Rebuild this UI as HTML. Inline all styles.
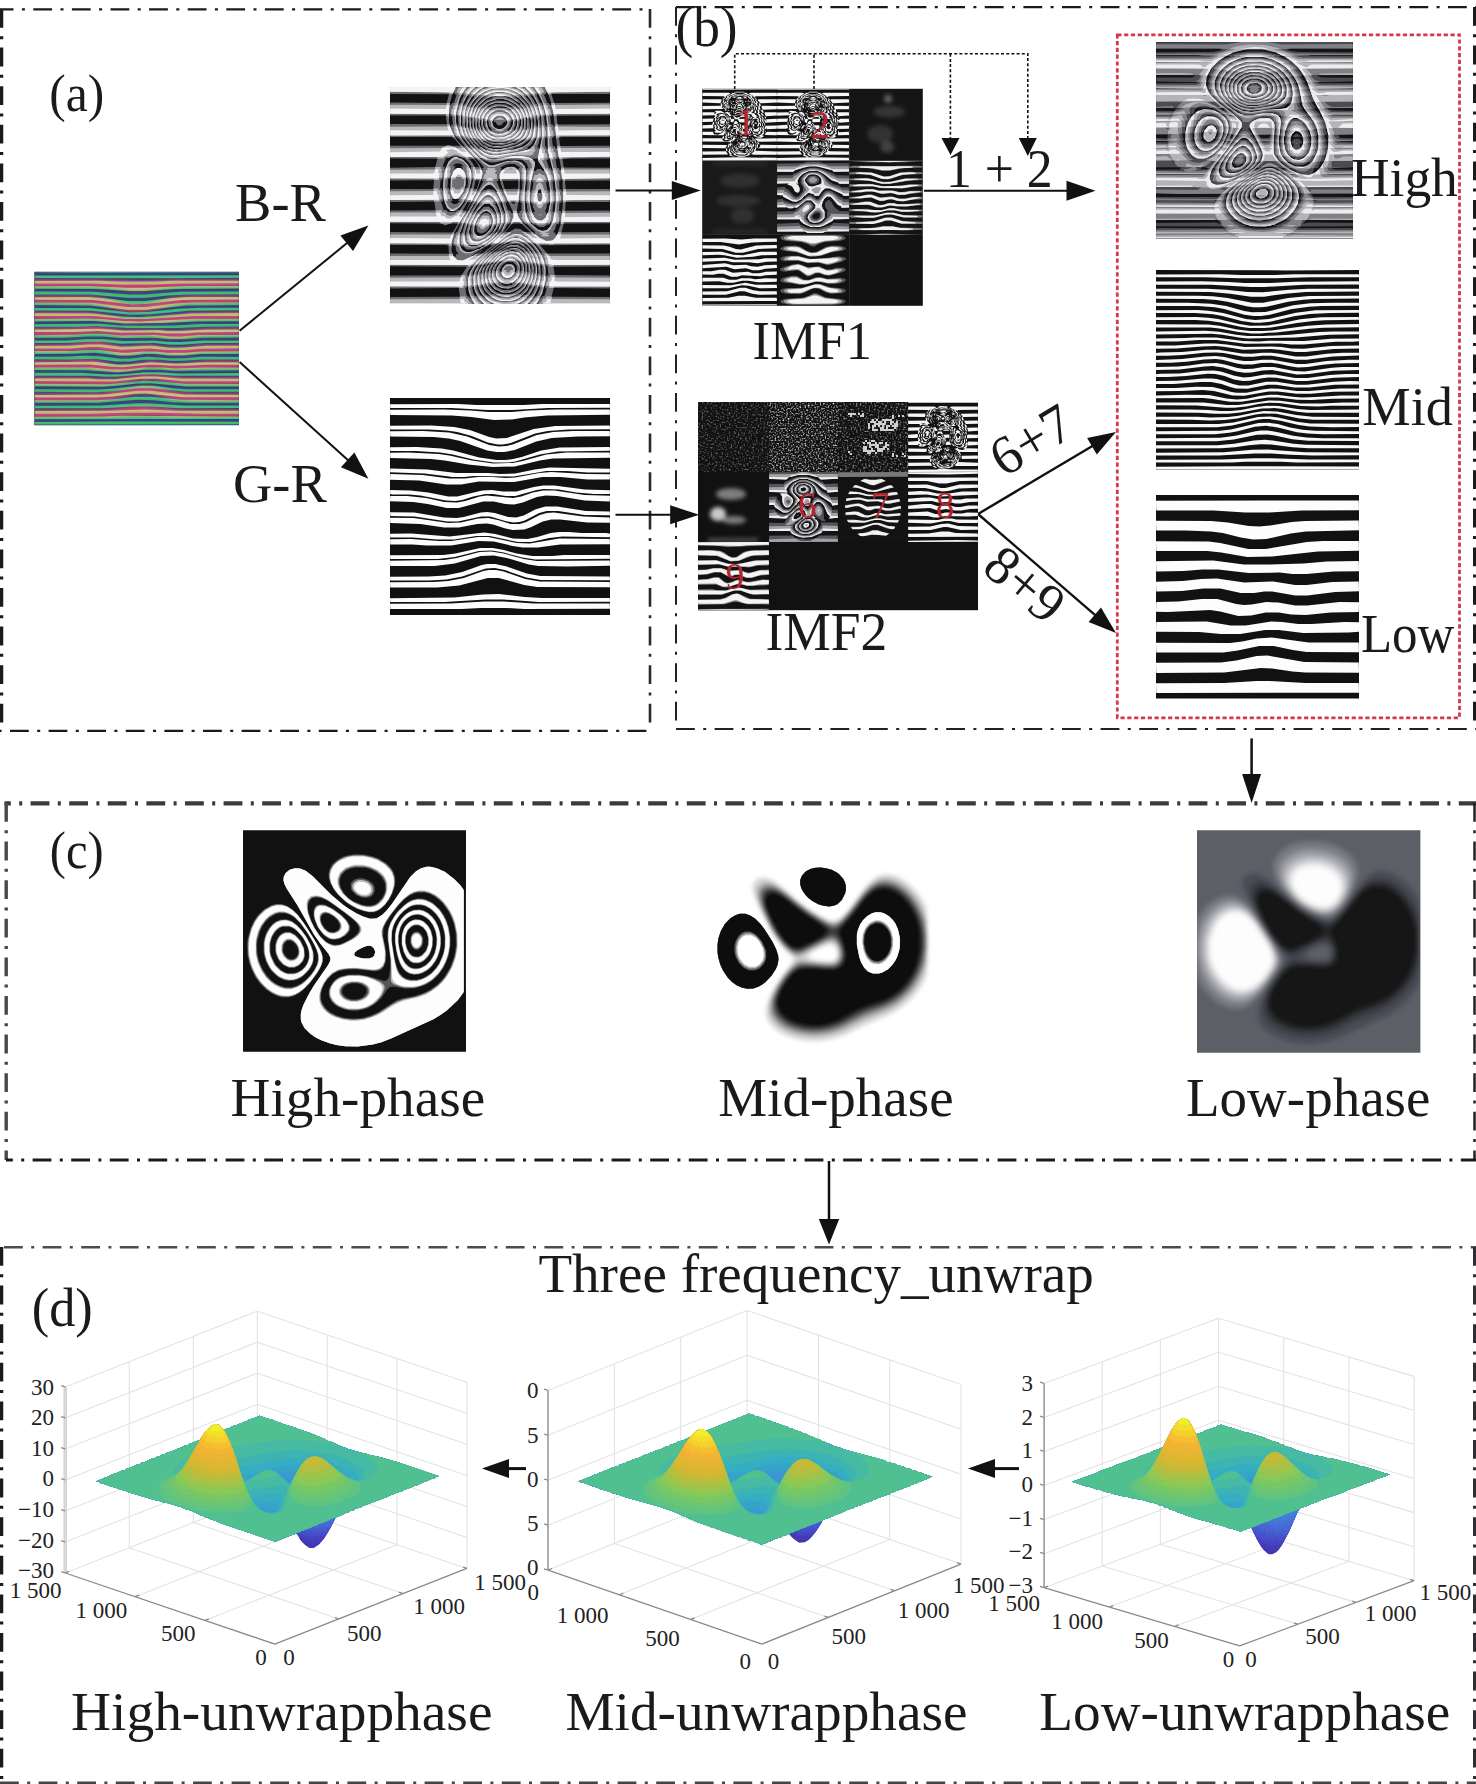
<!DOCTYPE html>
<html><head><meta charset="utf-8"><title>figure</title>
<style>
html,body{margin:0;padding:0;background:#fff;}
body{width:1476px;height:1784px;overflow:hidden;}
svg{display:block;font-family:"Liberation Serif",serif;}
</style></head><body>
<svg width="1476" height="1784" viewBox="0 0 1476 1784">
<rect width="1476" height="1784" fill="#fff"/>
<line x1="0" y1="9.3" x2="650" y2="9.3" stroke="#1a1a1a" stroke-width="2.2" stroke-dasharray="18.8 8.4 3 8.4" stroke-dashoffset="5.3"/>
<line x1="1.5" y1="9" x2="1.5" y2="731" stroke="#1a1a1a" stroke-width="3.5" stroke-dasharray="18.8 8.4 3 8.4" stroke-dashoffset="0"/>
<line x1="650" y1="9" x2="650" y2="731" stroke="#2a2a2a" stroke-width="2.6" stroke-dasharray="18.8 8.4 3 8.4" stroke-dashoffset="0"/>
<line x1="0" y1="730.9" x2="650" y2="730.9" stroke="#1a1a1a" stroke-width="2.4" stroke-dasharray="18.8 8.4 3 8.4" stroke-dashoffset="28.6"/>
<line x1="676" y1="7.1" x2="1476" y2="7.1" stroke="#1a1a1a" stroke-width="2.2" stroke-dasharray="18.8 8.4 3 8.4" stroke-dashoffset="0"/>
<line x1="676" y1="7" x2="676" y2="729" stroke="#222" stroke-width="2" stroke-dasharray="18.8 8.4 3 8.4" stroke-dashoffset="0"/>
<line x1="1474.5" y1="7" x2="1474.5" y2="729" stroke="#1a1a1a" stroke-width="3" stroke-dasharray="18.8 8.4 3 8.4" stroke-dashoffset="0"/>
<line x1="676" y1="729" x2="1476" y2="729" stroke="#222" stroke-width="1.8" stroke-dasharray="18.8 8.4 3 8.4" stroke-dashoffset="0"/>
<line x1="4.5" y1="803.3" x2="1476" y2="803.3" stroke="#3a3a3e" stroke-width="4.2" stroke-dasharray="18.8 8.4 3 8.4" stroke-dashoffset="12.5"/>
<line x1="6.2" y1="803" x2="6.2" y2="1160" stroke="#48484c" stroke-width="3.4" stroke-dasharray="18.8 8.4 3 8.4" stroke-dashoffset="0"/>
<line x1="1474.5" y1="803" x2="1474.5" y2="1160" stroke="#222" stroke-width="2.5" stroke-dasharray="18.8 8.4 3 8.4" stroke-dashoffset="0"/>
<line x1="6" y1="1160" x2="1476" y2="1160" stroke="#1a1a1a" stroke-width="3" stroke-dasharray="18.8 8.4 3 8.4" stroke-dashoffset="12"/>
<line x1="0" y1="1247.2" x2="1476" y2="1247.2" stroke="#4c4c50" stroke-width="2.4" stroke-dasharray="18.8 8.4 3 8.4" stroke-dashoffset="34.6"/>
<line x1="1.5" y1="1247" x2="1.5" y2="1784" stroke="#1a1a1a" stroke-width="3.5" stroke-dasharray="18.8 8.4 3 8.4" stroke-dashoffset="0"/>
<line x1="1474.5" y1="1247" x2="1474.5" y2="1784" stroke="#2e2e30" stroke-width="3" stroke-dasharray="18.8 8.4 3 8.4" stroke-dashoffset="0"/>
<line x1="0" y1="1783" x2="1476" y2="1783" stroke="#444" stroke-width="3" stroke-dasharray="18.8 8.4 3 8.4" stroke-dashoffset="0"/>
<line x1="239.6" y1="330.8" x2="349.8" y2="240.8" stroke="#111" stroke-width="2"/>
<path fill="#111" d="M368.4,225.6L353,251.1L340.4,235.6z"/>
<line x1="239.6" y1="362" x2="350.6" y2="462.6" stroke="#111" stroke-width="2"/>
<path fill="#111" d="M368.4,478.7L340.9,467.3L354.4,452.5z"/>
<line x1="615.5" y1="190.5" x2="675.8" y2="190.5" stroke="#111" stroke-width="2"/>
<path fill="#111" d="M700.8,190.5L671.8,200L671.8,181z"/>
<line x1="615.5" y1="514.8" x2="674.2" y2="514.8" stroke="#111" stroke-width="2"/>
<path fill="#111" d="M699.2,514.8L670.2,524.3L670.2,505.3z"/>
<line x1="924" y1="190.8" x2="1070.5" y2="190.8" stroke="#111" stroke-width="2"/>
<path fill="#111" d="M1095.5,190.8L1066.5,200.8L1066.5,180.8z"/>
<line x1="978" y1="514" x2="1095.4" y2="444.3" stroke="#111" stroke-width="2.4"/>
<path fill="#111" d="M1116,432L1096.8,454.5L1087.1,438.1z"/>
<line x1="978" y1="514" x2="1097.8" y2="617.3" stroke="#111" stroke-width="2.4"/>
<path fill="#111" d="M1116,633L1088.6,621.9L1101,607.5z"/>
<line x1="1251.6" y1="738.4" x2="1251.6" y2="778" stroke="#111" stroke-width="2.5"/>
<path fill="#111" d="M1251.6,803L1242.1,774L1261.1,774z"/>
<line x1="829" y1="1161" x2="829" y2="1223" stroke="#111" stroke-width="2.5"/>
<path fill="#111" d="M829,1244.5L818.8,1219L839.2,1219z"/>
<line x1="526" y1="1468.6" x2="505" y2="1468.6" stroke="#111" stroke-width="3"/>
<path fill="#111" d="M482,1468.6L509,1459.1L509,1478.1z"/>
<line x1="1019" y1="1468.6" x2="991" y2="1468.6" stroke="#111" stroke-width="3"/>
<path fill="#111" d="M968,1468.6L995,1459.1L995,1478.1z"/>
<path stroke="#111" stroke-width="1.6" stroke-dasharray="3 2.2" fill="none" d="M734.7,89V53.7H1027.8V140M814,89V53.7M950.4,53.7V138"/>
<path fill="#111" d="M941.5,138h18l-9,17zM1018.8,138h18l-9,18z"/>
<rect x="1117.3" y="34.8" width="342.2" height="683" fill="none" stroke="#d8354b" stroke-width="2.8" stroke-dasharray="4.2 2.6"/>
<defs><filter id="bl1" x="0" y="0" width="1" height="1"><feGaussianBlur stdDeviation="1.6"/></filter></defs><defs><filter id="cf0" x="-.05" y="-.05" width="1.1" height="1.1"><feGaussianBlur stdDeviation="7.0"/></filter><filter id="cf1" x="-.05" y="-.05" width="1.1" height="1.1"><feGaussianBlur stdDeviation="2.8"/></filter><filter id="cf2" x="-.05" y="-.05" width="1.1" height="1.1"><feGaussianBlur stdDeviation="1.8"/></filter></defs><svg x="34.3" y="271.7" width="204.7" height="153.5" viewBox="0 0 614 460" preserveAspectRatio="none" style="isolation:isolate"><g fill-rule="evenodd"><rect x="-9" y="-9" width="632" height="478" fill="#3c425c"/><g transform="scale(.5)"><path fill="#b10000" filter="url(#cf0)" style="mix-blend-mode:screen" d="M1228 91l-329 1-120 8-112 14-76 2-162-18-98-6h-330l-1-45 377-1 258 8 216-8h376zM1228 187l-307 5-88 12-150 32-40 4h-62l-62-8-112-28-82-12-324-4-1-43 335 1 78 10 154 36 74 2 54-8 124-30 58-8 62-4h288zM1228 285l-253 3-182 16-234 6-198-24h-360l-1-45 319 1 86 10 132 24 120 2 90-8 188-26 292-4zM1228 383l-223 3-116 14h-76l-124-16-150 6-134-18h-74l-134 12h-196l-1-45 219-1 80-6h98l138 16 202-2 68 6h64l124-12 234-2zM1228 481l-219 3-130 16h-54l-108-16h-54l-96 16h-54l-100-26-44-6h-32l-154 14h-182l-1-45 189-1 134-14 58-2 50 6 94 20h52l80-10h42l112 18 58 2 144-18 214-2zM0 579l1-45h196l90-6h62l42 6 64 18 36 6h60l132-22h42l82 10 68 2 166-14 187 1-1 45h-208l-156 8-106-10-68-2-134 20-76 4-170-22zM0 677l1-45h296l96 8h96l154-22 88-2 166 18 331-1-1 45-326-2-190-28-80 2-130 22-76 8zM1228 775l-209 1-130-4-64-8-116-26-74-4-48 6-122 26-76 8-388 2-1-45 405-3 64-8 150-30 74-2 64 10 94 22 46 6 86 4h244zM1228 871l-389 1-132-6h-120l-130 6h-456l-1-43 411-3 188-18h96l194 18 338 2z"/><path fill="#00a700" filter="url(#cf1)" style="mix-blend-mode:screen" d="M1228 3l-901 3-326-2-1-3 1227-1zM1228 37l-455 3-772-2-1-15 1227-1zM1228 69l-357 1-154 6h-206l-152-6h-358l-1-15 401-1 102 4h222l104-4h398zM1228 101l-375 3-194 12h-90l-192-12-376-2-1-15 325-1 232 10h114l236-10h320zM1228 135l-329 1-98 6-134 14h-106l-224-20h-336l-1-17 355 1 210 16h98l214-16 350-2zM1228 167l-341 3-214 24-88 2-234-26-350-2-1-15 321-1 92 6 150 18h100l156-18 98-6h310zM1228 199l-317 3-244 26h-108l-220-26-338-2-1-15 343 1 218 26h104l180-22 106-6h276zM1228 231l-297 3-244 22-116 2-232-24-338-2-1-15 337 1 238 26 108-2 178-20 126-6h240zM1228 265l-275 1-284 18h-120l-190-18h-358l-1-17 347 1 192 20 94 2 308-22 286-2zM1228 297l-247 1-212 10-232 2-178-14-358 2-1-15 319-3 88 4 120 12 102 2 336-16h262zM1228 329l-209 1-160 8h-300l-188-12-126 4h-244l-1-15 393-3 116 10 122 2 212-2 156-8h228zM1228 361l-249 3-76 6h-112l-80-6-196 2-136-10-136 6h-242l-1-15 409-5 132 10 202-2 52 4h88l158-8h186zM1228 395l-225 1-104 8h-94l-80-8-210 2-102-10h-92l-146 8h-174l-1-15 245-3 84-6h76l116 10 202-2 96 8h62l110-8h236zM1228 427l-203 1-134 10h-78l-98-10-202 4-104-12h-92l-116 8h-200l-1-15 191-1 126-8h98l124 12 182-4 74 8 82 2 136-10h214zM1228 459l-237 3-88 8h-100l-112-10-168 8-140-16h-50l-114 8h-218l-1-15 209-1 114-8h76l120 14 188-6 100 10h92l138-10h190zM0 493l1-17h226l80-6h86l128 16h44l82-8h80l74 8h104l90-8 233-1-1 17h-228l-96 8h-100l-82-8h-58l-74 8-70 2-158-18-122 6zM0 525l1-15h170l132-6 90 2 126 16 62-2 100-10 128 8h90l104-8 225 1-1 15h-218l-120 8h-70l-66-6h-100l-84 10h-80l-124-16-168 4zM0 557l1-15 364-2 138 16 70-2 124-12 154 8 162-8 215 1-1 15h-208l-106 6h-98l-76-6h-60l-148 14-68-2-134-14zM0 589l1-15h342l118 12h86l112-12h106l88 6 174-6 201 1-1 15-396 4-74-6h-98l-156 14-186-12zM0 623l1-17h280l170 10 88-2 114-12h104l114 8 357-3-1 17h-378l-132-10-76 2-148 14h-72l-88-6zM0 655l1-15h324l58 4h100l172-16h74l144 12 355 1-1 15h-334l-158-14h-98l-160 16zM0 687l1-15 438 2 220-20 78 2 168 16 323 1-1 15h-316l-208-20-88 2-116 14-96 6zM0 719l1-15 376 2 84-4 186-20 76 2 108 14 80 6 317 1-1 15h-318l-206-22h-80l-150 18-110 6zM1228 753l-335-1-222-22-68 2-132 16-108 6h-362l-1-15 417-3 202-22h80l204 22 324 2zM1228 785l-305 1-90-4-118-12-94-2-238 18h-382l-1-15 371-1 106-6 126-14h98l180 18 346 2zM1228 817l-349 1-172-10h-118l-170 10h-418l-1-15 399-1 208-14h82l214 14h324zM1228 851l-229 1-256-6h-192l-222 6h-328l-1-17 443-1 226-8 184 8h374zM1228 883l-1227 1-1-15 393-1 132-4 702 4zM1228 915l-1227 1-1-15 509-3 718 2z"/><path fill="#00005b" filter="url(#cf2)" style="mix-blend-mode:screen" d="M1228 13l-503 3-724-2-1-9 1227-1zM1228 35l-463 3-764-2-1-11 1227-1zM1228 57l-431 1-138 4-228-4h-430l-1-11 343-1 358 4 186-4h340zM1228 79l-405 1-240 6-176-6h-406l-1-11 353-1 286 6 240-6h348zM1228 99l-387 3-164 8h-128l-160-8-388-2-1-9 351-1 214 8h98l218-8h346zM1228 121l-371 3-156 10-126 2-200-12-374-2-1-9 345-1 192 10h154l196-10h340zM1228 143l-361 3-182 14-96 2-222-16-366-2-1-9 341-1 214 14h118l220-14h334zM1228 165l-295 1-122 6-152 14h-92l-146-14-114-6h-306l-1-9 339-1 234 18h82l242-18h330zM1228 187l-297 1-110 6-140 14-96 2-270-22h-314l-1-11 341 1 230 20h84l204-18 148-4h220zM1228 209l-301 1-252 20h-124l-224-20h-326l-1-11 345 1 216 20h102l200-18 116-4h248zM1228 231l-305 1-244 18h-132l-204-18h-342l-1-11 301-1 302 22 76-2 184-16 102-4h262zM1228 251l-309 3-214 14-142 2-198-16-364-2-1-9 327-1 224 18h120l286-18h270zM1228 273l-231 1-328 14h-122l-198-14h-348l-1-9 359-1 174 14h160l256-14h278zM1228 295l-243 1-198 8-254 2-136-10h-396l-1-9 337-3 182 12 106 2 320-12h282zM1228 317l-251 1-132 6h-334l-112-8-398 2-1-9 397-3 106 8 136 2 244-4 60-4h284zM1228 339l-253 1-60 4h-390l-126-8-398 4-1-11 401-3 118 8h364l154-6h190zM1228 361l-255 1-120 6-140-6-196 2-128-8-214 6h-174l-1-11 397-5 126 8 198-2 170 4 126-6h210zM1228 381l-255 3-150 6-84-6-190 2-124-8-424 4-1-9 435-5 72 6 192-2 98 6h104l108-6h218zM1228 403l-179 1-162 8h-72l-110-8-154 4-152-10-160 6h-238l-1-9 209-1 112-6h94l100 8 210-2 72 6h110l94-6h226zM1228 425l-197 1-140 8h-78l-100-8-188 4-118-10h-86l-96 6h-224l-1-9 423-7 88 8 220-2 64 6h116l86-6h230zM1228 447l-209 1-130 8h-74l-98-8-212 4-102-10h-90l-98 6h-214l-1-9 249-3 132-6 116 10 236-2 62 6h116l80-6h236zM1228 469l-221 1-128 8h-56l-104-8-200 6-128-12h-78l-112 6h-200l-1-11 241-1 130-6 140 12 226-4 62 6h108l78-6 242-2zM1228 491l-231 1-84 6h-118l-70-6h-66l-68 6h-100l-124-12-182 6h-184l-1-11 401-5 124 12 110-6h106l66 6h92l148-8h180zM0 513l1-11h232l64-4h80l116 12h90l60-6h106l34 4 94 2 150-8 201 1-1 11h-242l-90 6-232-6-92 8h-74l-116-12zM0 533l1-9 384-2 118 12h54l88-8 262 4 102-6 219 1-1 9h-160l-146 6-260-4-84 8h-98l-130-12zM0 555l1-9 356-2 132 12h66l120-10 112 4h146l58-4 237 1-1 9h-196l-148 6-196-6-124 10h-94l-104-10zM0 577l1-9 328-2 126 10h112l130-10 136 6 138-4 257 1-1 9-396 4-136-6-174 12-80-2-94-8zM0 599l1-9 304-2 170 10 84-2 124-10 148 6 397-1-1 9-394 2-92-6h-72l-168 12-164-8zM0 621l1-11h292l112 6h132l118-10h96l82 6 395-1-1 11h-392l-76-6h-120l-114 10zM0 643l1-11 508 4 154-12h62l174 10 329-1-1 11h-344l-144-10h-98l-146 12zM1228 663l-287 3-108-4-118-10h-68l-172 14-474-2-1-9 483 1 206-14 184 12h354zM0 685l1-9 404 2 96-4 130-12h92l184 14 321 1-1 9h-338l-164-14h-106l-202 16zM1228 707l-321 1-188-16h-106l-182 16h-430l-1-9 425-1 188-16h110l122 12 90 4h292zM1228 729l-309 1-230-18-96 2-186 16h-406l-1-9 385-1 86-4 146-14h90l180 16 340 2zM1228 751l-297 1-94-4-126-12h-114l-210 16h-386l-1-11 423-1 186-16h96l188 16h334zM1228 773l-283 1-116-4-118-10h-120l-118 10-104 4h-368l-1-11 413-1 180-14h120l182 14h332zM1228 795l-255 1-158-4-116-8h-100l-116 8-138 4h-344l-1-11 407-1 186-12h114l188 12h332zM1228 815l-379 1-218-8-184 8h-446l-1-9 405-1 150-8 130-2 210 10h332zM1228 837l-393 1-82-4h-214l-78 4h-460l-1-9 405-1 146-6h192l152 6h332zM1228 859l-411 1-190-4-148 4h-478l-1-9 775-5 128 4h324zM1228 881l-1227 1-1-9 723-5 504 4zM1228 903l-1227 1-1-11 1227-1zM1228 919l-1227 1-1-5 1227-1z"/></g></g></svg><rect x="390" y="87" width="220" height="217" fill="#121212"/><svg x="390" y="87" width="220" height="217" viewBox="390 87 220 217"><g transform="translate(390 87) scale(0.25 0.25)" fill-rule="evenodd"><path fill="#6e6e72" d="M880 867l-879 1v-28l279-1-5-35-274 2v-52h276l11-3 20-32-308-2 1-51 235 1-2-32-11-3h-222v-52l250 2 19-33-1-3h-28l-20 8-16-8-205-1 1-51 181-1-4-32-3-3-174 2v-52h172l3-35-175 1-1-51 181-3 9-33-189-1-1-51h282l-29-33-8-2h-244v-52l227 1-5-35h-222v-52l226 2 9-35-235-1-1-27 879-1v28h-232l-1 3 11 33 223-1-1 51-213 1 4 32 3 3 207-1-1 51h-190l-13 3 5 33 199-1-1 51h-154l-35 3 5 33 185 1-1 51-179 1 3 33h176v52h-176l-3 35 179-1 1 51-185 1-9 35 193-1 1 51-280 2 29 33h250v52l-225 1 5 33 220 2v52l-224-2-9 35 233 1zM241 72h4l4-8 7-1 10-30-1-3-7-1 1-7h-6l-5 11-8 30zM645 72l1-5-12-36-5-9h-6l1 7-7 1-1 3 6 10 7 21h6l4 8zM271 74l13-13 2-10 10-18-4-2 1-7-5 3-10 20zM613 74l-5-19-14-28-5-3 1 7-4 2 14 30 7 3 1 5zM291 76l11-11 16-30-4-2 5-7-13 13-12 24zM591 76l1-5-14-28-15-17 3 7-4 2 10 12 10 20 5 1zM309 78l27-37v-6l5-7-15 13-18 32zM575 78l-17-33-17-17 5 7-4 2zM323 82l40-52-6 2-19 19-16 26zM559 82l1-5-14-22-25-25h-4l7 7-2 2 34 36zM337 84l6-10 2 2 5-9 37-35-16 8-23 21-12 18zM546 83l-10-18-21-21-20-12-3 1 9 5-1 3 11 7zM348 85l37-31 26-10-2-4 27-5-29 3-26 12-27 25zM534 85l-14-18-21-17-34-14-21-1 27 5-4 4 12 2 16 8 28 22 8 10zM518 85l-17-17-20-12-28-8h-26l-36 12-12 8-17 19 29-21 32-12 42 2 24 10 28 22zM502 89l-23-19-26-8h-28l-20 6-14 8-13 13 9-7h6l12-8 18-6 40 2 24 12h6zM484 91l-19-11-16-4-28 2-16 6-9 7 3 1 12-8 18-2 38 2 14 8zM245 158l1-7 6-2-4-32-6-2-1-7h-4l-1 31 4 18zM659 158l-5-49-5-1-1 7-8 2 4 32 7 1 3 7zM271 162l-1-9 4-2-2-32-7-9-1 31zM629 160l-5-49-3-1-1 7-4 2 4 32zM289 164l-1-43-5-9-1 29 2 14zM607 164l1-29-5-23-5 11 4 30 4 2zM591 166l1-29-5-23-3 19 2 24h4zM303 166l1-19-5-31-1 37zM315 168l3-9-4-22 2-12-4-2 2-4-3-1-1 29zM575 168l3-7v-20l-5-23-3 15zM329 170l1-11-4-18 2-14-4-2 1-5-3 3v26zM561 170l3-9v-26l-5-15 1 5-4 2zM341 172l1-11-6-34 2-4-3-1-1 29zM545 172l3-1 2-8v-36l-3-5-3 7zM353 174l1-13-7-37-1 29zM531 174l7-23-3-27-3 7zM367 176l1-11-4-10v-20l-4-4 1-5-3 3v22zM513 176l7-9 4-14v-22l-3-5zM385 178l-3-7 2-4-6-12v-18l-4-2 2-6-3-1-1 27zM493 178l7-5 8-18 2-18-3-9-1 7-4 2v16l-8 16 4 2zM411 180l-7-7 4-2-12-16-2-16-4-2 2-6-3-1-3 11 4 18 4 8 11 11zM463 180l14-6 11-13 4-12-1-19-7 9-4 20-12 12 4 2zM470 143l-2-10-5-1 1 7-9 1-8 12-14 2-9-9-1-5-9-1 1-7h-4l-3 7 4 16 9 9 10 4h14l10-4 11-11zM301 246l-7-9h6l-24-30-19-13 13 21zM669 246l-6-52-6 2-2 6-7 1 2 26 3 9 6-2 3 9zM323 248l-5-7 2-2-24-32-7-3-4-6-1 3 10 16zM631 248l-1-49-3-1-1 5-6 2v34l5-1 1 9zM341 250l-5-7 2-2-35-41-1 3 18 26zM595 250l5-1 7-49-4 6-5 1-2 14-8 20 8 2zM363 252l-7-7 2-2-22-20-17-21 1 7 12 16 23 23zM541 252h10l8-4 17-17 10-24-1-5-9 9-10 18-18 14 6 2zM394 253l-13-5v-4l-18-10-20-22-11-7 29 33 22 14zM466 253l29-3 34-10 18-10 13-13 6-12-43 31-30 8v4zM346 207l29 27 20 10 18 4h32l48-10 30-12 23-19-3-1-36 22-40 12-26 4h-24l-24-6-22-12-22-20zM522 209l-45 17-28 6-44-2-26-14h-6l-8-8-3 1 19 15 30 12 52-2 34-10zM494 211l-21 7-34 4-40-4-14-8-3 1 21 11 18 4 46-4zM326 319l-10-16-19-19h-8l-10-6h-34l-8 6h-12l-13 29 1 7 7-1-4 8 5 1 13-29 15-15 16-4 26 10 21 21 9 17 3-1-2-6zM371 332l-1-7 6-2-6-10-23-25-12-6 25 33 6 16zM683 332l1-9-6-34-3-7h-6l1 5-8 2 4 28 3 7h6l3 7zM554 325l-8-20-17-13-56-2-52 12h-20l-32-12-8-6-3 1 25 21 20 8 18-2 48-16h42l14 6 13 13 7 19 3-1-2-6zM651 334l-11-47-7-3 1 5-8 4 10 30 7 3 4 8zM356 321l-6-14-15-19-19-1 14 16 9 17zM436 287h-40l11 3zM620 335l-26-36-3-13-27 1 7 3 9 11-5 35h8l6-8h14l8 8zM296 317l-15-11h-18l-13 11h14l-9 9h38l-9-9zM520 321l-21-13h-24l-20 6-15 9 7 1-5 7 7 1 16-10 24-4 28 14-3-7zM237 412l5-1 1-49-11 7-2 34 6 2zM297 412l6-8 5-1 4-16v-18l-4-2-1-5-3 1v16zM209 414l5-1-2-12 3-37h-4l-1 5-8 4-2 32 7 1zM317 414l3-7 6-4 6-30-5-9zM347 418l11-11 16-30-6-2 1-7-5 1zM455 418l-11-29-4-20-7-1 1 7-8 2 14 32 7 1 3 7zM519 418l3-1v-6l6-2 2-32-6-2-1-7-3 1zM691 418l-1-49-7-1 1 5-8 4 2 32 7 1 1 7zM541 420l7-9 2-32-4-2-1-7-3 1-2 24zM663 420l-3-47-5-3 1 7-6 2 4 32zM335 408h10l3-3 9-31-15-1zM561 422l9-13 4-28-6-2 1-7-5 3zM639 422l-1-31-4-18-5-1 1 7-5 1-1 5 6 28 5 1 1 7zM512 407l1-33-63 1 9 33zM428 419l-10-16-17-13-16 4-21 25 3 1 8-8h10l6-4 26 4 6 8zM608 423l-7-15-9 5-1 11zM280 457l-8-2 5-7h-28l-1 3 4 4-9 1-1 3 11 9h12zM302 451h-4l-10 18-13 15-20 12h-12l-15-13-11-33-5 1-1 7-7 1 11 33h10l8 8h28l10-8h8l21-29 2-4-4-2zM303 504l11-11 16-30-1-9-27 47zM491 504l1-5-20-42-5-3 1 7-6 4 10 28 9 3 4 8zM509 504h8l1-7 8-2v-32l-6-2-1-7-5 1-6 38zM683 504l7-1 1-49-5 1-1 7-7 1-2 32 8 2zM317 506l25-37 1-13-21 35zM461 506l-9-35-6-14-3-1 1 7-4 2 12 32zM547 506l-1-7 6-2-4-14v-18l-5-1-1-7-3-1 3 45zM655 506l3-1 5-49-5 3-6 12-2 26 4 2zM329 508l11-11 20-30-4-2 5-7-15 17-18 30zM443 508l-7-27-10-20-5-3 3 7-4 4 8 12 6 18zM575 508l-3-7 8-2-8-18-2-14-5-1-1-7-3-1-1 13 4 20 6 16zM625 508l5-1 4-10 6-30-1-9-6 8-5 1-2 16-6 14 6 4zM293 494l11 1 17-35-11 1-18 30zM502 461h-18l9 7h4zM426 509l-12-28-17-15h-16l-10 6-29 35 1 3 6-8h4l22-22 20-2 15 13 4 8 8 6v4zM360 511l3 3 12-10h18l8 8 5-1-9-11-8-4-14 2zM257 590l5-3 1-5 7-3 12-28-1-11-25 45zM447 590l23-25 12-18 1-7-8 8-5 1zM584 589l-8-6 6-2-35-33h-6l-6-8-5 1 47 47zM661 590h8l15-45-1-5h-6l-2 8-9 1-6 20-8 12 9 1zM281 592l9-13 8-26-1-11-17 41zM431 592l19-23 8-16 1-11-25 39zM648 543l-5-1-6 8h-8l-14 10h-16l-18-10h-8l-8-8-3 3 29 25 24 6 12-4 13-13zM301 596l11-39-1-13-11 29-2 20zM415 594l19-23 9-27-25 39zM562 581l-37-35h-36l-29 35 17-1 24-14 20 2 18 12zM319 598l3-1-2-8h6l-2-22 4-12-4-2 1-5-5 7-4 22zM391 598l8-4 17-19 8-14 3-13-9 9-6 14zM338 583l13 13 20-2 12-6 19-19 8-18-3-1-4 6h-4l-5 11-11 11-10 6-12 2-13-9-2-20-4-2-1-5-5 11zM406 667l3 1 48-36 35-13-9-1-30 12-34 24zM572 667l-4-4 2-4-12-16-19-17h-6l-16-8-9 1 25 9 25 23 10 16zM392 669l66-48-3-1-10 8-8 2-34 26zM587 670l-3-7 4-2-16-22-11-11-16-8 25 25zM609 674l-5-9 4-4-25-31-14-8 25 31 10 18zM265 678l-3-9h12l-10-16-2-18-9-1-1-5-5-3-1 27 4 16 5 9zM322 677l11-1 34-22 3 1-18 12 17-1 43-33-13 1 6-8-68 40v4l-6-2 3 3zM556 665l-6-6v-6l-11-11-20-12-14-4-30 4-42 24-7 9 45-27 14-4h24l24 12 20 22zM376 671l54-42-7 1-26 20zM286 647l9 9 10 4h18l34-12 27-17-49 19h-24l-6-2-12-12h-6l-4-6-3 1zM356 633h-42l9 5h18zM538 663l-7-11-24-12h-26l-32 14 1 3-10 6 25-13 20-6h18l12 4 20 16zM514 661l-9-5h-8l4-4h-20l4 4h-10l-11 5 25-5zM423 744l7-23 23-27-14 8-11 11-10 22 4 2zM521 744l1-7 4-2v-18l-4-12-15-11 11 19v30zM407 746l7-25 17-25-15 13-10 18-2 10zM535 746l5-9v-22l-2-8-6-4-3-7 7 29zM393 748l5-21 17-29-11 9-12 22-2 10zM549 748l1-7 4-2-2-28-9-13 5 17zM379 750l5-21 17-29-11 9-10 18-4 12zM508 719l-4-8-13-11h-24l-19 13-10 20 7 9 3-13 11-15 12-6h14l13 13v20l3 1 7-9zM561 750l1-7 4-2v-24l-9-17 5 27zM365 752l7-25 15-25-11 9-14 30zM575 752l5-19-2-20-7-11 3 19-2 30zM589 754l1-7 4-2-2-32-7-9 3 23-2 26zM333 758l7-21 17-31-13 11-10 18-4 12 1 3 3-1zM349 756l9-27 13-23-11 9-14 32h4zM605 758l1-9h4l-2-34-7-7 1 49zM311 760l5-3 4-16 17-31-6 6h-4l-11 15-8 18 4 4zM625 760l1-5 8-4-4-34-5-1-4-6 1 49zM498 781l-5-1-20 8h-12l-18-8-5 1 10 6-5 3 20 6 24-4 5-3-6-2zM520 783l-3-1-16 14-26 10-28-2-16-8-14-14-3 1 6 6-4 2 9 9 26 12h28l18-6 10-6zM534 793l-1-9-16 20-24 14-12 4h-32l-30-14-21-23 2 12 11 13 14 10 22 8h36l12-4 24-14zM444 837l-13-3-26-16-17-21-2-8h-4l4 16 21 23h8l20 10zM484 837l11 1 18-10h8l23-23 6-10v-6h-4l-6 12-21 21-22 12zM405 840l-23-23-12-26-3-1 1 5-4 2 14 26 9 9zM523 840h4l10-10 4 2 7-7 18-28-4-2 1-5-15 25zM379 842l-19-27-9-23-3 11 8 20 7 11h6l6 8zM547 842h4l6-8h6l9-13 10-22-4-2 1-5-15 29zM353 844l-9-17-11-33-1 5-4 2 4 20 6 14 7 1zM573 844l15-11 12-28v-4l-4-2 1-5-3 1-6 20-16 26zM325 846l-9-25-4-24-3-1-1 5-6 4 2 20 4 12 7 1 6 8zM599 846h4l6-8 9-3 8-24v-6l-6-4 1-5-5 1-8 30z"/><path fill="#b9b9bd" d="M262 3l-11 25h-14v-6l-28-2-209-1 1-19h260zM641 594l-8 4h-20l-10-4 11-3-18-6 17-3h-8l-18-8-26-24-8-2-4-6h-10l-13-21 4-2-2-12 4-2v-8h4l-2-34-4-2-1-5-7-3v-18l4-2v-14l5-1 1-7 4-2 2-32-4-2-1-7-7-1v-18l4-2-4-14 4-2-2-6 6-2-2-6-19-15-30-4-22 4-44 18h-22l-20-14-16-16h-6l-8-8h-6l-31-35 2-2-6-6 4-2-22-28-13-13h-8l-11-21 4-2-4-12 8-10-2-32-6-4-1-5-9-1 2-20 6-2v-10l8-4 3-9 5 1 6-22 6-10-6-4 1-5-9-3 9-19 31-1-10 12-18 34-14 56v38l4 22 18 42 24 32 53 53 32 22 16 2 58-18 32-2 24 8 13 13 6 18v36l-6 64 2 56 4 20 18 36 29 25 18 6 18-4 13-13 10-20 12-56 2-70-10-72-22-86-2-98-6-48-16-54-16-32-16-22 23-1 9 3 10 18-11 3 1 5-6 2 14 34 5-1 3 7 8 4 2 12 6 2 4 20-9 1 1 5-6 2 4 34 6 2v6l6 2v12l6 2 2 20-11 1-1 7-6 2 2 32 7 1 1 7 8 2v12l8 4 2 18-11 1 1 7-8 2 8 32 7 1 3 7 6 2 2 14 6 2 2 18-9 1-1 7-6 2 4 32 5 1 1 7 6 2v14l4 2v18l-9 3-1 5-6 2-3 35 5-1v8l4 2v12l4 4-4 18-11 1-13 11-8 16-9 9-15 5 19 1-2 4-9 3zM307 214l-14-16-9-5-6-14 2-6-4-10 4-2-2-6 4-2-4-24 2-8-4-8-6-2 2-20 4-2 2-12 4-2 3-9 5 1 6-18 10-16-4-2 2-4-6-4 6-10 17-13h18l-33 39-12 24-10 36v56l8 28 16 28zM319 210l-10-10-5-1-8-16 2-4-6-14 4-10-4-40-4-2v-14l8-20 12-12 6-14 14-18-4-2 4-4-6-4 19-19h6l8-6h20l-24 16-25 25-18 32-8 24-2 56 6 24 16 30zM409 270l-2-4h-8l-28-12 1-3-8-6-3-7 18 12 20 8 40 2 56-10 34-10 18-10 13-13 14-30 4-46-6-34-16-38-35-39-24-14-32-10h-50l-28 8-22 12-33 33-12 22-8 26v52l8 26 14 22-1 3h-4l-11-11-8-16 2-2-6-14 4-10-4-40-4-2 2-18 4-4 2-10 6-4 18-28 12-12-2-4 4-4-4-2 27-21h8l18-8h86l18 8h8l29 21-6 2 4 4-2 2 24 32 14 12 8 16 4 14-6 14 2 32 4 2 2 8-2 30-3 5-7 3-1 5-7 3-13 17-24 12 4 4-20 4 2 4-64 12h-14l-4 4zM375 274l-27-23 2-2-8-6 2-2-10-10 1-3 20 20 20 14 24 10 14 2 30-2 102-18 14-6 17-17 12-30 4-24v-40l-8-40-18-40-16-22-23-21-23-13 23-1 6 6h6l19 19-4 4 4 4-4 2 20 32 14 12 12 34-6 2 2 4-4 8 6 36 4 2 2 26-2 8-5 1-3 7-6 4-2 10-12 20 7 1-5 7 8 2-9 11-7 3 12 2-19 7-64-2-62 12h-36zM617 550h-26l-8-6h-12l-9-9-6-12 4-2-6-12 4-2-2-6 6-2-6-34-5-1-1-5-6-4 2-34 4-2v-6l6-2 4-32-5-1 1-5-8-4 2-18 4-2v-14l6-2 1-7 7-1-2-18-11-15h-16l-22-8h-34l-34 8-32 2-32-2-12-8h-10l-35-35 2-2-8-12 1-3 42 40 32 16 22 2 60-12 48-2 28 6 16 8 9 11v12l-12 42-8 44-2 48 4 36 14 36 11 11 8 4h14l13-11 12-26 6-30v-62l-8-40-8-22-32-48v-14l16-78-2-82-14-50-14-28-14-20-23-23h20l8 4 15 19-6 4 2 4-4 4 8 10 8 20 7 3 1 5 6 4 4 12 4 2 4 20-5 1-5 9 4 32 4 2v6l4 2v8l4 6v20l-7 1-1 7-6 4-2 30 5 1 1 7 6 2v14l6 2 4 18-11 1-2 8-9 1 14 32 9 1 3 7 6 2 4 14 6 6 2 14-8 2 2 6-5 1-1 5 4 28 5 1 1 9h4v14l4 2v18l-7 3-2 6-5 1-2 22-4 10 6 4-2 6 4 2-2 24-7 11h-12zM620 3l1-3h258l1 19-205 1-30 2v6l-12 2zM561 204h-4l-6 8h-6l-10 10-18 10-38 12-9-1 35-9 30-16 17-19 8-18 4-20v-26l-4-22-12-30-12-18-21-21-28-16-32-8h-30l-20 4-28 12-14 10-25 29-8 16-8 32 2 38 14 34 27 33-26-24h-4l-11-17-4-16v-44l-2-8-4-2 4-20 4-2 2-10 6-4 2-6 40-42-6-2 27-15 22-6h50l22 6 27 15-6 2 6 4v4l24 22 7 11 5 1 2 6 6 4 4 12 4 2 4 18-4 2 2 6-4 2 6 60zM349 206l-11-17-6-18v-42l-2-8-4-2 4-18 4-2 4-12 35-35 16-8 2-6 8-2-6-4 30-8h34l30 8-7 3 9 3 2 6 16 8 10 12-34-22-30-8h-26l-26 6-20 10-27 25-12 20-6 18-2 38 4 18 10 22 26 28-3 1-18-14zM519 208h-8l-14 8h-8l-14 6-7-1 17-5 28-16 17-21 6-16 2-28-8-30-12-20-17-17-30-16-18-4h-26l-36 12-27 23-16 32-2 38 4 16 12 22 11 13 18 14-10-2-10-8h-6l-11-13-10-22v-42l-6-12 14-32 37-29 32-12h38l20 6 24 14 27 23 14 26v6l-4 2 2 6-4 42 4 2-8 14 2 2zM499 206l-44 12h-40l-32-10-17-17-8-16 2-10-4-10v-22l-2-8-4-2 4-16 12-18 41-25 28-6 24 2 18 6 20 14h6l6 8h4l13 17 6 16-6 12v42l-10 16zM449 214l38-12 25-21 12-28v-22l-10-28-25-27-26-12-38-2-28 10-25 23-12 24-2 32 10 28 19 21 24 12zM236 129l-2-12-7-1-4-8h-222l-1-37 225 1 4-8h10l-3 21zM644 65l13-1 4 8 218-2 1 37-213 1v6l-10 2-3-3-2-20zM499 224l31-21 8-10 12-30v-36l-4-16-12-26-14-16 1-3 23 21 14 32-4 2-2 8v32l4 12-4 18-11 15h-6l-6 6zM475 204l-20 6-26 2-26-6-19-13-10-14-8-52-4-2 6-16 15-19 14-8h8l18-8h32l20 8h8l6 6 8 2 15 17 6 18-4 2 2 6-4 2v18l-6 14 4 2-4 4 2 4-15 17zM447 202l34-12 19-17 8-18 2-18-8-26-21-23-22-10-30-2-24 8-23 21-10 22v28l12 24 17 15 24 8zM485 180l-4-2 1 3-5 5-26 12h-28l-24-12-7-7v-10l-8-16v-16l-4-2 2-6-6-2 8-18 17-15 24-8h30l26 10 15 13 8 18-6 2 2 6-4 2v12l-10 20 4 2-6 6zM443 188l22-6 17-13 10-20v-18l-6-14-17-17-22-8h-16l-18 6-17 15-6 10-4 18 8 26 11 11 16 8zM443 178l-24-4 7-3-18-12-4-8v-12l-5-1 1-7-6-2 2-8 9-11 24-10h20l24 10 13 19-5 1-1 7-6 2v10l-4 8-9 9-11 5 8 2zM455 164l11-11 4-10-6-18-17-11h-16l-12 6-11 19 4 16 9 9 10 4h14zM458 131h-38l13-9h12zM260 201l-7 1-6-8h-246l-1-35 229-1v-8h10l5 21zM664 209l-3-59h10l2 8 207 1-1 35h-202l1 7-11 1zM325 218l-5-5 1-3 5 5zM339 218l-5-5 1-3 5 5zM319 230l-11-13 1-3 11 13zM331 226l-5-5 1-3 5 5zM357 236l-15-13 1-3zM374 221l3-1 20 12 14 4h40l42-12 5 1-33 11-38 4-32-6zM468 223l-23 5h-26l-17-5 7-1 12 4zM338 287l-3 1-8-8h-14l2 6h-10l-8-8h-16l-10-6-12-2-20 8h-20l-4 8h-26v-6h-188l-1-35 201-1 12-2 14-8h12l28 10h22l-5-7 5-1zM394 243l-5 1-15-9 3-1zM668 235l13 1 2 8h196l1 35-191 1v8h-12zM392 247l3-3 18 4h32l14-4 15 3-23 5h-22l2 4h-12l4-4h-18zM243 496l-15-13-10-24-6-54 2-36 8-42 12-28 15-15 16-4 26 10 21 21 12 26 2 34-14 54-16 32-16 22-15 13-10 4zM251 488l20-8 19-21-4-4 4-6-8-2 12-18 6-4 10-20 6-2 6-32-6-2 2-6-7-1-5-19 4-4-6-10 4-4-4-6 6-2-17-19-24-10-16 4-15 15-4 8 1 3 7 1-4 4 6 4-6 12 4 6-4 16-9 1-1 5-8 4-2 32 5 1 1 5 6 4 2 14 6 4 4 14-1 3h-10l1 7-5 1-1 5 8 16 7 7zM208 363l-11 1-2 8h-18l-2-6h-174l-1-35 179-1 2-10h22l-1 7 6 2-2 14 4 2zM363 374l-5-1 2-4-3-3h-12l-2 6h-6l-1-7-6-2 1-43h8l4 10h16l-1-7h6l6 24zM440 375v-30l6-10 11-9 14-6h26l15 11 8 22-1 21h-4l-1-5-5-3h-56l-5 3 1 5zM684 323l11-1 2 8h182l1 35-173 1-7 3 1 5h-10zM259 448l-11-11-6-20 2-54 10-26 15-13h12l15 13 6 14v42l-8 24-12 20-15 11zM427 368h-14l2 8h-32l2-8-13-1 6-18 6-2-2-14 10-2-5-7 37 1-8 6 12 2-8 10 1 5 7 1zM494 329l-9-3-13 3zM626 371l-9 1-3 3 1 5h-32v-6l-11-3 6-18 9-1 8-6h6l8 6h8zM279 410l6-8 9-1 4-32-9-1-4-8h-20l-4 8-11 1-2 32 9 1 4 8zM447 576l-1-3 16-32v-36l-10-34-16-38-12-22-15-17-8-4-16 4-19 21-30 54-4 2 4-8v-6l-4-4 21-35 2 2 21-27 19-15 14 4 19 27 7 1 3 7 8 4 4 12 6 4 6 16-10 10 12 34h6v8l6 2 2 12 4 2-4 20-10 2v4l-8 6-2 8zM601 486l-10-4-7-15-9-1-1-5-7-1-3-7 4-28 4-2 3-9 5 1 6-22 9-11h6l7 5 10 28 7-1 1 9 6 2 2 32-9 3-2 6h-8l-7 15zM208 449l-9 1-2 8h-20l-2-6h-174l-1-35 173-1 2-10h18l1 7 8 2v14l4 2zM307 458l1-7-4-2 22-42 7-1-3 9 11 3 6-10-1 11-20 42-4-2 2-4-3-3h-6l-4 6zM692 465l1-59 2 4 8-2 2 10 175-1-1 35h-152l-22 2-2 6h-8zM514 463l-3-3h-8v-6h-20v6h-10l-21-49 7-3 6 10h44l3-9 3-1 3 3zM601 460l7-11 2-18-6-20-7-3-7 11-2 20 4 16zM301 638l-6-8-9-1-2-18 2-16 4-2v-6l6-2 8-32v-8l-4-4 6-14 8-8 4-10 12-10 18-30v-16l8-14 19-19 4 2 10-6h10l10 6 6-2 17 19 8 16-6 4 2 4-4 2 10 22 2 12 6 2v6l6 6v30l-6 2-12 24-4 2 12-34-2-30-8-26-12-24-15-19-10-6h-12l-8 4-19 19-14 20-34 62-14 48 2 28 4 10 11 11 8 4h18l20-6 34-20 34-34 1 3-4 4 2 2-21 25-26 18h-8l-12 8h-12l-10 4h-20l-6-4zM325 632l-8-4-11-15 4-2-4-14 4-2-2-6 6-2v-20l4-10v-10l-4-2v-4l16-28 6-4 3-7 5-1 8-14 18-20-4-2 4-4-6-2 19-17h18l13 11 2 6-6 2 4 4-6 2 10 12 8 20 12 12v10l4 4-2 20-6 2-12 24-12 12 14-22 6-22-2-26-6-18-8-14-17-15h-16l-10 6-21 23-24 44-10 38 2 20 11 17 10 4h16l28-12 24-20 3 3-6 6 2 2-25 21-32 14zM323 490l-1-3 9-15 1 3zM682 549l9-63 1 9 10 2-1 7 179-1-1 37h-182l-2 6zM303 666l-14-6-9-9-4-12-7-3-4-8-9-1 2-20 6-6v-6l14-14 10-28v-10l-4-2 8-16 29-35 1 3-30 56-12 34-2 44 8 20 9 9 10 4h18l30-12 5 1-33 15zM343 610l-13-9 4-4-4-6 6-2-4-8 2-24-4-2 2-6-4-2 6-18 6-4 7-13 28-20 16-2 8 4 8 10h6l1 5 6 4 2 12 4 2-2 20-6 2-18 28-14 12 4 2-9 5-2 6-20 8zM306 497l-31 51-3-1 1-7-20-2-10 8h-40l-6-8-197 1 1-37h180l2-8 22-2 4 10 10-2 10 12 14 4 16-6 12-10 4 2 8-10 7 3-4 6 11 3 6-8zM533 548l-10-2-6-6h-20l-10 8-5-1 12-28-3-25 17 1 2 18zM351 596h14l18-8 19-19 10-26-2-22-8-16-13-9h-8l-12 6-17 19-12 24-4 32 4 10zM610 511l-5 3-15-3zM363 568l-3-9-7-1-1-7-8-2 11-21 2 2 14-16h22l5 5 2 8 6 2v18l-9 3-4 8h-8l-10 10zM378 635l33-23 35-35-4 6 2 2-6 6 2 2-23 23-32 20zM406 627l49-45 3 1-6 6 9 1 16-10 11 1-7 3-2 6-14 8-6 8-24 18h-6l-8 6-3-1 3-5zM526 581l15-1 10 8 20 2-7-7 5-3 30 24 26 12h18l12-6 11-13 7-17 12 2v8h194l1 35-221 1-6 4h-16l-8-4-36-2 5 7-7 1-10-8h-8l-23-21 1-3-17-11 3-3zM258 583l-10 28-3 35-1-11-9-1v-8l-235-1 1-35h246l4-8zM585 868l-27-1 7-7h4l12-16h4l6-8 7-1 12-32-4-2v-6l-6-4 4-16 4-2v-10l6-6v-6l4-2-2-32-5-1-1-7-8-4-4-14 2-6-6-10 2-6-4-4 4-2-20-28-17-13h-8l-18-14-20-6v-4h-16l-2 4-12 2-30 18-18 6 26-22 28-16 28-2 30 16 33 31 22 30 10 20 10 38v50l-14 54zM549 868l-29-1 23-11 33-27 12-24v-12l-6-2 4-16 4-4 2-14 8-10-2-32-12-12-4-22-6-10 2-4-4-4 4-2-31-35h-6l-6-6-34-6-34 6-8 6-7-1 29-17 14-4h16l14 4 22 14 33 37 10 18 10 30 2 58-6 28-20 44zM538 633l-3 1-16-10-41-1 15-5h14l14 4zM530 643l-25-9h-18l-16 6-5-1 19-7h24zM557 654l-18-20 19 17zM358 647l11-7 3 1-11 7zM431 834l-26-16-19-25-6-18v-32l4-14 8-16 4-2-12 26 4 26 8 20-4 4v10l21 23 14 8h14l10 4h28l28-6 12-8 21-23-2-4 4-4-6-2 22-44-2-34-4-2-1-5-5-1-10-24-10-10 2-2-9-5-2-6-10-4-31-1 27-3 12 4 7 5-1 3 4-2 19 19 14 30 4 36-8 36-14 26-21 21-22 12-26 6h-14zM542 653l-3 1-9-9 3-1zM460 653l10-2-5 5zM441 658l-2-4 3 1zM396 709l6-10 35-33 20-12 5 3-11 5-40 38h-4l-4 6zM403 838l-25-27-12-30v-34l6-20 7-11-9 25 10 44-4 4 2 6-4 2 12 20 13 13 42 14 36 2 24-8h10l12-8h6l15-15 12-18-4-2 4-6-4-4 12-24v-8l4-2v-6l4-4-2-30-12-14-6-20-8-10 2-2-4-4 1-7 13 15 10 20 8 32v28l-6 28-20 38-33 29-34 12h-36l-20-6zM393 854l-23-23-10-16-8-22-2-36 4-18 13-25 1 3-12 26 8 46-4 2 2 6-4 4 19 31 44 24 36 6 50-6 24-16h6l8-8h6l21-33-4-2 2-6-4-2 6-18 4-2 4-20 4-4v-28l-6-12-6-4-6-18 2-2-8-12 2-4-4-4 1-7 9 11 14 30 6 32v20l-10 46-20 36-25 25-26 14h-88zM382 711l29-35 26-20 3 3-9 5 1 3-13 9-22 26h-4l-4 6zM449 822l-30-14-17-19-8-20v-30l12-28 6-4-12 22-2 10 4 10v12l4 2 2 12 6 8-6 2 2 10 21 17 28 8 24-2 20-8 19-15v-6l4-4-6-2 6-6 6-14 4-2 2-12 4-2v-8h4v-20l-4-14-12-10-17-23-12-6h-26l-12 4-50 36-1-3 25-25 32-18 20-4 20 4 8 4 17 17 12 26 2 40-6 22-16 26-17 15-28 12zM369 714l-1-3 12-16 41-37 1 3-36 40zM355 714l-1-3 16-20 35-31 1 3-20 20-16 22zM339 868l-17-29-8-26v-54l6-18 16-28 35-37 18-14 1 3-34 40-20 14-14 28 4 4-2 6 4 2-2 14 4 20-8 2 2 6-5 1-1 5 8 26 7 3 6 8h4l9 13 14 10zM374 667l-39 43h-8l-6 8h-10l2-6-313-1 1-35h234v-8h12l2-4 7 17 9 9 10 4h16l18-6 38-22 3 3-9 7h14l14-10zM616 667l13-1 6 8 6 2h238l1 35-225 1-2 6h-16l-4-8-9-1-4-14 2-8-6-10 4-4zM447 804l-16-8-15-15-6-12-2-30 6-18 4-2-6 16 1 3 3-1-2 8 4 2v12l4 2 8 16 6 4-8 2 7 11 20 8h24l16-6 9-7-2-2 4-4-6-2 22-24 2-10 4-2v-8h4v-20l-4-12-9-9-28-14-24 2-16 10-10 2-14 10-1-3 21-19 18-10 16-4 20 2 8 4 15 15 10 22 2 24-6 24-10 18-19 17-26 10zM453 786l-12-6-15-19-2-24 4-12 10-16 17-15 20-8 20 2 17 13 6 12v36l-8 16-19 17-18 6zM459 770h20l8-4 8-8h4l7-13 6-4v-6l4-2v-14l-11-19-18-6h-14l-12 6h-8l-17 17-8 18h6l-2 8 4 2 2 10zM419 718l-1-3 7-9 1 3zM459 762l-7-5-6-12 4-20 15-15h24l7 7 4 12-4 18-9 11-8 4zM405 868h-28l-21-21-16-30-6-22v-38l6-20 13-23 1 3-14 30 4 2-2 6 6 36-6 2 2 6-4 2 2 10 13 23h4l26 24h6zM467 742h10l6-10 9-1v-6l-7-9h-18l-11 11-1 5 11 1-2 4zM306 795l-11 1-2 8h-16l-2-6h-274l-1-35 283-1 4-10h14l-1 7 4 2-2 14 4 2zM624 795l2-14 6-6v-12l8-4 1-7h18l2 10 219 1-1 35h-222l-2 6h-20v-8zM328 867l-327 1-1-19 279-1-1-7 3-3h20l4 8 7 1 6 14 7 1zM880 849l-1 19-283-1 3-5h6l7-15 9-1 4-8h20l3 3-1 7z"/><path fill="#f4f4f4" d="M262 3l-9 19-253-3 1-19h260zM278 23l13-21 15-1-17 25zM306 25l17-21 4 2 6-6 7 1-16 14-9 13zM330 27l23-21 2 2 12-8 9 1-17 9-22 20zM352 29l29-19h10l6-4 32-6h22l24 4 14 6h10l29 19-9 1-10-8-28-12-32-6-44 4-30 12-16 12zM552 27l-7 3-18-16-23-13 9-1 12 8h6zM576 25l-9 3-27-27 9-1 8 4zM604 23l-11 3-17-25 15 1zM620 3l1-3h258l1 19-249 3zM504 31l-7 3-10-6-32-8h-30l-20 4-22 10-7-3 17-9 32-8 42 2zM472 33l-13 3h-38l-13-3 23-5zM238 73l-3 35-235-1 1-21 222 2 3-15zM263 118l-1-7-8-2 2-18 6-4v-10l7-5zM625 118l-10-46 7 3 2 14 6 2 4 18-7 1zM880 107l-225 1-9-35 13-1 4 16 216-2zM277 112l1-19 4-2 2-12 5-3-5 35zM609 112l-7-3-8-28 1-5 5 3 2 10 6 8zM297 122l-1-7-4-2 2-16 6-8 2-10 3-1zM593 114l-7-3-9-33 5 3 8 16zM311 118l-5-3 2-14 11-21 1 5-6 14zM577 116l-5-3-9-33 3 1 10 20zM323 122l-5-5 2-10 10-24 3-1zM561 122l-12-40 3 1 14 34zM335 122l-5-3 2-10 12-24 3-1zM549 126l-14-42 15 23 2 12zM345 124l-3-5 4-14 10-16 5-3-11 23-2 14zM537 124l-18-38 7 5 10 16 4 12zM359 128l-5-5 4-14 15-21 3 3-14 22zM523 130l-5-19-14-20 3-3 15 19 4 10zM369 128l-1-7 6-14 17-17 3 3-12 12-8 20zM509 134l-7-23-16-18 3-3 17 17 8 18zM387 136l-5-11 6-12 23-19h10l-14 8-11 11zM498 129l-7 1-11-21-11-9-13-5 11-1 25 19zM478 129l-1 3h-6l-2 6-5-13-11-9-22-2-17 11-5 13-2-6-7-1 11-17 18-6 32 2 13 11zM281 198l-11-7-6-14 4-2-6-14 4-2 1-5zM615 198l-7-1 1-43 1 7 4 2zM299 198l-7-3-6-12v-10l-4-8 3-9zM589 202l4-46 5 29-2 14zM256 193l-255 1-1-21 235 1-5-15 9-1zM880 193l-215 1-5-35 11-1 4 16 204-2zM631 204l-1-43 5-1 7 35-9 1zM569 204l8-42 3 5v22l-4 12zM313 200l-5-3-8-16 2-4-4-8 1-5 3 1zM329 204l-7-5-6-12-3-21 7 19 10 16zM345 206l-6-2-11-19 2-2-5-15 3 1 2 10zM549 206l-1-3 10-16 2-12 5-7-3 25-4 8zM361 208h-4l-15-19-5-19 3 1 8 20zM499 210l23-19 11-21 1 9-10 18-13 11zM525 208l13-15 8-20 3-1-3 19-11 15zM379 210h-6l-17-19-5-17zM410 211l-11 1-12-6-13-11-10-18 3-1 20 24zM500 179l-15 11v4l-32 12-42-2-16-8-15-17 3-3 18 18 24 8 32-2 24-10 16-14zM460 211l27-9 12-8 16-18 3 1-8 14-13 11-22 10zM474 181l-13 7-18 4-24-2-17-9 5-3 8 6 14 4 24-2 16-8zM639 286l-7-31 1-17 1 7 6 2 2 14 6 2 4 18zM593 292l-1-11 8-38 3-3-1 9h6v14l6 2 2 18-17 3 1 5zM334 281l-37-3-16-12-14-6 4-4-24-8-18 4-5 5 12 2-19 19-22 2h-194l-1-19 199-3 12-16h50l24 16 22 2-15-15 5-1zM355 284l-8-2-19-19-12-16 1-3zM670 245l11-1 4 16h194l1 19-203 3-3-5zM390 285l-11 1-10-4-35-33 3-3 28 26zM358 253l1-3 16 12 24 10 26 2 102-16 26-8 13 1-21 9-44 4v4h-14l-66 12-34-6-12-6zM384 253l25 7h30l38-8 5 3-35 7-30 2-22-4zM572 291l-7 1-10-6-20-2-89 1 49-9h32l28 6zM276 283h-24l9-3zM217 368l1-25 9-25-1 7 6 2-4 8 2 16-2 10-9 3zM304 367l-5-7h-10l-10-10h-8l-8 10h-12l-6 8-1-5 10-26 15-13h12l15 13 6 14zM325 370l-1-5-6-4-2-12 2-12-4-10 5-3 7 23zM557 372l1-21 6-6v-8l7-1 1-9 3-1-9 47zM635 378l-11-35-8-12 1-5 6 10 7 1 4 12 6 4 4 18-7 1zM198 345l-2 18-7 3-189-1 1-19h170l7-3 2-12 9-3 5 1-2 14zM365 368l-24-2-5-3 4-20-3-15 7 5v10l3 3h14l-1-15 8 2 2 14zM684 333l11-3 4 16h180l1 19-189 3-3-3zM520 367l-81 1-1-17 11-19 13 1-8 8-1 5h56l-7-13 9-1 7 11zM535 370l-1-21 4-2-2-12 7-3 1 37zM667 370l-9 1-5-39 7 3v8l6 6zM410 369l-19 1-1-3 15-3zM610 371l-1 3-23-1 9-9h6zM294 417l-19 27-16 4-7-5-8-16-2-24 3 9 7-1 5 15h20l12-16 5 3zM219 456l-5-19 1-31 1 7 4 2v8l6 6 3 21h-8zM531 456l-1-21 4-2v-12l4-2 1-7-1 43zM293 450l-1-3 21-33 1 5-12 28zM559 466l-1-7-5-1-3-7v-14h4v-14l4-2 1-7zM641 464v-50l1 7 4 2v14h4v20l-7 1zM196 451l-195 1-1-19 173-1 1-15 13-1 1 13 6 2zM310 451l17-35 3 3-5 13h10l5-11 6-2-17 35zM623 460h-14l-4 8h-12l-4-8h-14l-1-19 4-2v-14l7-1 2-8 5 1-4 12 4 26 9 5 5-5 4-18-4-20 5-1 1 7 8 2v14h6zM447 460l-19-39 1-3 7 3 14 22 4 12-5 1zM514 453l-43 1-15-35 7-1 6 14h38l3-3v-10l7-1zM692 453l1-35 11 1 1 13 175 1-1 19zM341 458l-3-5 8-16 15-17-1 7zM673 456l-9-1 1-35 5 1v12l4 2zM432 455l-7 5-16-22-10-6h-12l-8 4-22 24-5-3 15-21 2 2 12-12 10-4 12 2 14 14 4-2zM406 459h-32l13-7 12 2zM398 465h-18l9-3zM262 493l-7 3h-12l-5-3zM645 550l7-17 7-35 1 7 4 2-2 14 4 2-4 18-11 1zM300 505l-21 35-279-1 1-21h186l-3-15 15-1 8 16 8-2 14 10h14l18-10 4 2 14-16 5 1-10 14 13 3 9-15zM559 542h-10l-11-19 4-2-4-14 5-5 5 19zM527 540l-41-1 8-20 1-15 13 1 6 16zM636 525l-13 19h-40l-15-17 2-6-6-12 5-5 7 15 11 11 8 4h14l13-11 9-19 5 5-4 12zM880 519l-1 21-195-1 4-32 3-3 9 1 1 15zM291 542l7-17 15-19-17 37zM467 542l-5-1 1-35 5 1v14l4 2-2 16zM309 546l-5-3 21-35 1 3zM433 546l-5-1 2-20-3-17 5 3 4 16v14zM449 544l-5-1 1-35 3 1 4 16v14zM323 548l-5-3 21-35 1 3zM411 550l1-21-5-19 7 5 2 12 4 4-2 16zM339 552l-5-5 4-14 14-20 5-1 1 3-6 6zM354 549l9-19 20-4 4 4 9 1-1 19h-12l-8 8h-6l-2-8zM314 603l3-15 3 15 9 11 10 4h16l28-12 14-12 3 3-21 17-30 12-22-2-9-7v-8zM408 625l39-35 3 1-14 14 13-1 12-12 9-3-41 35zM566 621l-7 1-26-22-20-8h-16l-12 4-38 26-5-1 25-19 30-14 26 2 24 14zM880 625l-283 1-16-2-35-35 5-1 18 16 23 1-18-14 7-1 18 14 26 12 24-2 11-9 9-15 15 1-5 15 200-2zM254 591l-9 35-245-1 1-21 238 2 7-15zM390 627l44-36-14 18-25 19zM269 628l-1-19 4-2v-10l5-5 1 35zM313 634l-6-4h-10l-3-5-2-14 2-16 3-3 5 27zM406 603l9-9 3 1-9 9zM370 599l-7 3h-16l-5-3 9-3zM366 629l29-17 8-8 3 1-21 19-10 6zM542 619l-9 1-22-10h-18l-24 10-7-1 19-11 14-4 24 2zM446 673l23-13 3 3-23 11zM541 698l-5-1-12-22-18-12 3-3 8 4 17 17 8 14zM432 671l12-8-3 5zM419 672l6-8 1 3zM555 700l-5-1-8-18 2-2-11-15 15 15zM569 702l-5-1-6-22-7-13 5 3zM375 704l5-9 29-27-29 35zM583 706l-7-7-4-12 2-4-7-15 3 1 10 20zM597 706l-5-1-4-22-6-12 3-3 13 31zM526 695l-5 1-14-14-16-6-22 2-28 18-7-1 19-15 28-10h12l16 6zM617 708h-6l-7-19 2-6-5-11 5 1 12 30zM362 675l-18 14 2 2-19 19-10 2-317-1 1-19h240l-5-15 17-1 16 16 22 2 40-18 5 1-22 14 25-1 18-16zM402 699l25-25 3 1-23 25zM418 697l19-19 9-3-23 23zM880 711l-231 1-15-5-4-16 4-2-8-14 9-1 10 16 22 2h212zM343 708l1-5 29-27-26 32zM359 706l11-15 17-15-24 30zM389 702l7-11 17-15-17 23zM504 693h-46l17-7h14zM498 743l-11 15-14 6h-8l-12-6-5-7-2-16 2 6 7 1 3 7 7 5h10l8-4 6-8h6l2-6zM461 780l-16 2-15-13-6-16 1-17 5 21 17 17zM472 779l9-1 14-8 10-12 3 1 6-14h4l-8 20-19 17zM509 782l11-17 6-4 7-17 1 5-10 24-9 11zM425 782l-6 2-9-15-1-23 3 1v14l4 2zM401 786l-7-17 1-21 1 11 10 22zM529 784l-1-3 8-16 4-2 5-15 1 9-10 24zM385 788l-5-13 1-25 1 15 4 2 4 16zM547 788l-5-3 8-18 4-2 2-14 3-1-1 13zM313 802l-1-31 5-19 3 7-2 14 4 2v18l-7 3zM369 790l-3-9 1-29 3 1-2 14 4 4 2 16zM559 788l12-36 1 9-8 26zM353 794l-3-11v-26l3-3 5 35zM577 794l-5-7 10-22v-10l3-1 1 9zM615 802l-7-13 2-10 6-6v-14l5-5 1 19zM335 796l-1-39 5-1-1 15 4 20zM593 794l-5-3 4-16 4-4 2-14 3-1-1 21-4 16zM296 777l-2 18-7 3-287-1 1-19h272l7-3 2-12 7-3 5 1-4 14zM880 779l-1 19h-236l-7-3 2-16 8-4 1-15 12 2-1 13 7 3zM325 844l-2-8 3 3zM484 837l-13 3-27-3zM522 839l-19 11-22 6h-36l-20-6-19-11 7-1 14 8 22 6h30l22-6 14-8zM448 867l-29 1-26-14-13-13 5-1 20 16zM480 867l17-3 16-8h8l20-16 3 1-11 13-20 12zM390 867l-13 1-21-23 5-3 14 16h4zM536 867l7-7 8-2 14-16 5 3-21 23zM354 867l-15 1-13-23 7 1 7 11zM570 867l7-7h4l10-14 7-1-13 23zM312 867l-311 1-1-3 283-1-3-15 15-1 5 13 9 1zM880 865l-1 3-267-1 3-5 9-1 5-13 15 1-3 15z"/></g></svg><rect x="390" y="398" width="220" height="217" fill="#111"/><svg x="390" y="398" width="220" height="217" viewBox="390 398 220 217"><g transform="translate(390 398) scale(0.25 0.25)" fill-rule="evenodd"><path fill="#fdfdfd" d="M880 39l-247 1-144 8h-98l-146-8h-244l-1-15 271-1 76 4h186l76-4h270zM880 67l-251 3-92 8-50 8-70 2-92-12-78-6-246-2-1-21 217-1 106 4 70 6h94l68-6 106-4h218zM880 125l-167 1-82 6-50 10-98 38-32 6h-20l-40-8-64-26-58-16-42-6-72-4h-154l-1-15 165-1 92 6 62 12 78 28 28 6 42-2 108-36 86-12 218-2zM880 153l-129 1-104 6-62 14-86 34-42 8h-30l-38-6-108-38-46-10-60-6-174-2-1-21 133-1 104 6 72 16 88 34 38 6 30-2 26-6 96-38 66-12 80-4h146zM880 211l-209 3-72 12-98 28-28 4h-58l-82-12-82-20-50-8-98-6h-102l-1-15 109-1 98 6 46 8 104 28 70 10h34l32-4 34-8 78-26 74-12 200-2zM880 239l-229 3-52 8-100 24-88 2-98-10-94-16-54-6-164-4-1-21 73-1 122 6 42 6 90 20 86 12 78-2 40-8 94-26 82-8h172zM0 297l1-15 148 4 116 14h128l46 4 62-2 78-16 60-8 241 5-1 15h-90l-82-6h-82l-130 22-162-2-36 4h-46l-112-14zM0 327l1-23 130 4 106 14h62l54-6h56l54 4 38-2 96-18 48-4 138 8 97 1-1 21h-90l-106-10h-74l-112 20-142-2-70 12h-60l-108-16zM0 383l1-15 80 2 72 8 80 16h36l100-24 38-2 44 6h54l70-18 38-6h44l122 16 101 3-1 15h-64l-70-6-70-12-60-2-28 4-86 24h-38l-50-8h-32l-48 10-44 14-28 4-38-2-102-20-44-4h-70zM0 413l1-21h68l76 8 72 16 52 2 32-6 58-18 28-4 106 10 32-6 46-16 42-8h44l122 18 101 3-1 23-100-4-110-18-46-2-36 6-56 22-34 8-36-2-46-10h-42l-98 26h-48l-76-16-58-8zM880 469l-101-1-106-16h-46l-30 8-58 30-20 6-26 2-32-6-60-18h-36l-94 20h-42l-130-20-98-2-1-15 97 1 118 20 52 2 28-4 68-18 26-2 30 4 54 16 32 2 30-8 46-24 40-12h48l114 18 96 2zM880 499l-91-1-108-12h-36l-34 8-50 24-24 8-46 2-36-8-42-14-26-4-38 2-74 14h-58l-96-14-120-4-1-21 95 1 138 20 50-2 70-16 40-2 38 8 52 16h36l26-8 54-28 28-8 28-2 118 16 106 4zM880 557l-191-3-52 6-72 16h-54l-112-24h-54l-88 14h-68l-96-8h-92l-1-15 85-1 154 12 138-16 44 6 70 18 58 2 40-8 54-16 34-4h40l50 4h98l15 3zM880 585l-199 1-90 12h-60l-40-6-76-18-62-2-108 18h-98l-56-4h-90l-1-21 85-1 110 8h50l108-16h40l114 24 52 2 118-20 202 2zM880 643l-299 3-52-8-74-20-48-8-52 2-96 24-68 8h-190l-1-15 213-1 48-6 100-22h50l44 8 52 14 62 10h82l44-4h184zM880 671l-171 3-114-2-40-6-88-26-52-10-52 2-104 30-80 10h-178l-1-21 217-3 50-8 92-24 46-2 50 8 80 22 52 8 292-2zM880 729l-277-1-58-10-86-30-40-8-36 2-94 32-62 12-70 4h-156l-1-15 155-1 66-4 68-14 78-28 22-4h32l46 10 80 28 54 10 278 2zM880 757l-291-1-52-8-102-28h-44l-114 30-88 8h-188l-1-21 173-1 60-4 62-12 78-28 22-4h30l30 6 86 30 58 10 280 2zM880 815l-285 1-142-10h-72l-162 10h-218l-1-15 257-3 114-12 64-2 104 12 68 4h272zM880 843l-343 1-70-4h-104l-76 4h-286l-1-21 243-1 134-8h78l120 8h304z"/></g></svg>
<defs><filter id="nz1" x="0" y="0" width="1" height="1"><feTurbulence type="fractalNoise" baseFrequency="0.55" numOctaves="1" seed="3"/><feColorMatrix type="matrix" values="0 0 0 0 .5 0 0 0 0 .5 0 0 0 0 .5 2.6 0 0 0 -1.3"/></filter><filter id="nz2" x="0" y="0" width="1" height="1"><feTurbulence type="fractalNoise" baseFrequency="0.6" numOctaves="1" seed="8"/><feColorMatrix type="matrix" values="0 0 0 0 .72 0 0 0 0 .72 0 0 0 0 .72 3.0 0 0 0 -1.42"/></filter><filter id="b2"><feGaussianBlur stdDeviation="2"/></filter><filter id="b1"><feGaussianBlur stdDeviation="0.9"/></filter></defs><rect x="702.2" y="88.8" width="74.8" height="72" fill="#111"/><svg x="702.2" y="88.8" width="74.8" height="72" viewBox="702.2 88.8 74.8 72"><g transform="translate(702.2 88.8) scale(0.2493 0.25)" fill-rule="evenodd"><path fill="#f6f6f6" d="M300 3l-299 1-1-3 299-1zM174 15h-48l9-3h30zM114 19l-20 12 2 2-11 11-5-1 12-10-7-3-85-1 1-13h104zM92 43l10-10-4-2 21-11 2-4 15 3-27 9-3 3 2 2-11 11zM209 86l-3-3 4-12v-14l-6-8v-6l-12-10 3-3-30-12 14-2 2 4 16 6 5 5-4 2 12 10-4 2 9 13 3-3-7-11h4l9 11-4 4 3 11-5-1-3-9-3 1 2 10zM186 19l9-3h104l1 13-85 1-8 4-4-6zM208 59l-6-2-6-10 2-2-13-9v-4l-24-8h-22l-24 8 1 3-12 10 2 2-9 13-1-3 6-10-2-2 13-15 20-8h34l20 8 15 15-2 2zM180 33l-9 5h-4l-1-3 7-3-18-4-28 4 6 2v4l-13-5 21-7h18zM166 33l-9 1-2 4h-12v-4l-9-1zM220 43l-3 1-9-9 3-1zM166 39l-7 3h-18l-7-3zM180 41l-8-2 5-1zM78 47l-5 11-73-3 1-13h76zM222 45l5-3h72l1 13-67 3zM81 58l3-11 5-3-3 13zM162 45l-9 3-15-3zM87 70l-1-11 11-13-3 11-6 6 2 6zM113 52v-6l3 3zM168 47l-11 5h-14l-11-5 5-1 8 4zM192 55l-7-5-5 1 7-5zM107 52l-1-3 3-1zM127 54l-5-3 1-3 5 3zM173 54l-1-3 5-3 1 3zM197 56l-6-8 7 5zM115 56l-1-3 5-3zM133 54l-1-3 3-1zM167 54l-2-4 3 1zM101 80l-5-7 2-12 7-9-1 9-4 2zM134 57l3-5 5 1-1 3zM166 57l-3 1-5-5 5-1zM115 64l-1-3 5-7 1 3zM130 73l4-10 11-7 16 2 7 9-3 3-6-10-12-2-11 7-2 8 3 5zM185 64l-2-8 3 3zM201 74l-3-1-2-10 3-7 9 13-3 3-4-10zM86 81l-85 1-1-13 75-1-1-9 5-1 3 11-4 4zM119 66l2-8 1 5zM181 66l-2-8 3 3zM239 138l-5-3-4-10 4-2-8-10 4-2-10-12 4-2-2-12 4-2-2-12 4-2-1-11h4l5 9-6 4 4 12-5 1-1 5 4 6-6 2 10 12-4 4 6 8-2 8zM95 72l-3-3 1-9 3 1zM123 66l2-6 1 5zM129 68l-1-5 3-3zM171 68l-2-8 3 3zM107 82l-5-7v-10l3-3zM162 73l-15 5-11-7 19 3 2-4-17-1 5-7h10zM109 78v-14l3 11zM183 86l5-7-2-4 3-11 3 13zM193 76v-12l3 3zM119 80l-3-3 1-11 5 11zM183 80l-3-3 5-11 1 11zM133 82l-5-3-3-11 9 11zM165 76l4-8 1 3zM167 82l-1-3 9-11-3 11zM238 75l1-7 61 1-1 13-56 2zM97 90l-7-5 2-2-8-8-1-5 11 11zM97 82l-5-7 1-3 5 7zM219 86l-3-1-1-13 5 1zM177 80l-3-3 3-3zM191 86l6-12 1 3zM236 149h-4v-8l-3-1-3 11h-6l6-16-8-8 6-2-5-5h-10l-8 4 1-5 8-6-9-1-4-10-26-2v-4l-14-4 3-3-5-3h-14l-8 8-3-1 9-9 12-2 14 6-1 3 5 3 16 2 13-7-2-2 7-13-1 11 4 2-7 9-7 1 17 1 6 8 9 5-10 2 14 8-2 6 4 10 6 2zM127 82l-5-3 3-3zM172 87l-17-5-1-3 9-3-1 5zM144 81l-5 1-1-3 5-1zM101 88l-5-3 3-3zM109 90l-5-3 3-3zM248 95l-7 1-7-11 7-1zM119 90l-3-1 1-3 3 1zM127 92l-5-3 1-3 5 3zM181 90l-2-4 3 1zM176 93l11-3v-4l7 3-11 5zM217 98l-7-1 1-11 5 1zM96 101l-21-5-14 4-5 5 6 2-8 8 4 6-5 11-3-1 2-12-4-2 5-11-53 1 1-13h48v8l9-7-8-2 5-5h20zM178 89l-3 3-5-1 3-3zM118 107l-9 3-6-8-13-7 13-3zM194 111h-6l2 10-3 1-3-9 2-4-3-3-28-4 3-3-7-3h-10l-8 6-5-1 9-7 12-2 12 4v4l26 4zM111 98l-3-1 1-3 3 1zM115 98l-1-3 3-1zM125 100l-1-3 5-3zM250 99l1-5h48l1 13-45 3zM247 110l-9-5-3-9 9 5zM102 129l-6-10 2-4-11-7-14 2-12 8-1-3 10-8-6-2 13-5 16 4-1 3 10 8zM107 132l-3-13 2-4-8-8-1-5 13 15zM164 105l-30-2 17-1zM199 186l-10 2-10-8h-12l-10 8-7-3 10-10-2-2 4-16-4-10 19-1 1-11-29-1-6-12h-12l-10-18 16 12 16-4v-4l12-2 15 3-4 2 6 4-1 7-10-10-18 2-7 7 31-1 3 3 2 24-4 2v12l-13-1-3 11 19 1-3-9 3-1 7 9-2 4zM150 107l-17 1-5-3zM111 132v-22l5 7zM245 138l-5-11 2-8-5-9h4l7 11-4 2 4 12zM255 122l-6-12 7 3zM92 115h-18l5-3zM193 124l1-11 5-1-1 7zM61 130l1-9 9-5zM46 119l-3 13-43 1 1-13zM89 140h-14l-3-3 2-6-6-2 9-11h12l5 3 2 8-4 2zM123 134l-9-1 3-13 11 1v6zM248 123h6l3 11v-12l42-2 1 13-47 3zM183 136l2-14 1 13zM90 127l-3-3h-8l-3 3zM185 148l-1-9 7-15 1 7-4 16zM195 138l-1-9 5-5zM197 150l-1-11 4-2 2-10 7-1-5 11-6 4zM155 178l-3-5 2-8-4-2-6-16-7-7-15 5 8-8-4-2 9-7 9 7-4 2 8 8-2 4 6 12 4 2 2 12zM55 144l-1-11 3-3 1 11zM67 142l-5-1v-8l3-3 3 1zM95 142l1-11 3-1 1 5zM99 150l4-20 3 3zM48 133v10l-4 2 1 13-45 1 1-13 40-2 1-9zM107 140l-1-5 3-3zM220 137l-1 3-11-1 5-5zM157 162l-7-11 2-6-5-9 9 9-2 6 4 6zM251 148l-3-1 1-11 3 1zM243 150l-3-1 1-11 3 1zM101 160l-1-3 8-10h-4l1-7 6 6 7-1-1 5-2-2-10 12zM209 152l-7-3 1-9 5 1zM92 151l-5 9-18 4-9-5 4-4-6-12 3-1 11 13-6 2 5 3 14-2-3-3 7-5zM68 145l1-3h6l4 4 8-4 5 1-13 9zM93 150l-1-3 5-5 1 3zM92 161l-11 7 1 3-7 5h-22l-5-5 8-2-8-8 4-4-4-12h6l4 10-4 4 11 9h12l12-8zM135 184l-3-1 4-4-2-12 4-2-5-5-8 2-7 15h-4l6-10-5 1v-6l4 2 6-6 8-2 11 7-11-11-11 3 4-4-2-2 9-5 9 5-4 2 6 4 4 8-5 13 1-7-4-2v12zM250 161l3-13 47-1-1 13-40 2-2-8-1 7zM185 162l-3-1 1-13zM202 183l17 3-5 3 9 3 12-2-9-3 9-3 9-9-4-2 4-8-4-4 4-10 4-2-2 12 4 2-4 10 4 4-10 10 7 1-2 4-8 4h-14l-14-6zM93 160l-3-3 7-7 1 3zM195 178l-5-3 2-2-6-10 4-2-1-11 5 13-4 2 6 8zM236 177l-13 7-18-4-3-3 2-2-10-10v-14l6 10v8l10 6-4 2 17 3 5-3-6-2 12-8-4-4 4-10 5-3-3 13 4 2-8 10zM230 165l-9 7h-10l-9-7h6l-8-12 3-1 8 10h6l12-10 1 5-4 6zM111 166l-3-3 5-5zM86 169l7-7 3 1-7 7zM103 166l-1-3 3-1zM149 180v-16l3 5zM253 174l2-10 1 9zM109 176l4-8 1 3zM98 171v4l-5-1-8 12-85-1 1-13h42l4 10 16 2 18-8 4-6zM93 206l-5-5 6-2-2-10 4-2 5-15-1 17-4 4 6 6-6 2 18 2zM107 190l-5-3 3-15 3 5zM130 173l-1 3-5-1zM300 173l-1 13-47-1 2-8 7-5zM89 188l6-12 1 3zM128 187l-5 1-2 4h-10l5-3-6-4v-6l3-1 4 8zM132 179l-3 3-11-1 1-3zM139 184l4-6 1 3zM180 183l-3 3-11-1 1-3zM137 194l-3-3 5-5zM81 200l-1-5 7-7 1 11zM135 196l-7-5 1-3zM122 195l-17 1-5-5zM184 197l-11 5-2 4h-10l1-3-8-6v-6l7 9 6 2zM180 195l-5 3h-12l-3-7 19 1zM136 201l-3-1-2 4-2-2-4 6h-6l-6 8-3-1 1-3-111-1 1-13h76l10 12h16l21-9-1-5 5 1-5-5h4zM149 204l-3-3 1-9zM187 196l-3-1 1-3 3 1zM195 198l-1-3 3-1zM217 222l-7-11 2-2-12-12 1-3 15 15-2 2 4 6zM139 202l-1-5 3-1zM120 201l-5 1-1-3 5-1zM207 210l-10-12 11 9zM300 211l-75 1-15-13 89-1zM143 212l-5-5 3-5zM157 208l-5-3 3-3zM185 212l-7-7 1-3 5 3zM187 208l-2-6 5 3zM131 208l-3-1 1-3zM195 212l-3-3 1-5 3 3zM203 220l-5-9 1-7 3 3-2 2 4 6zM181 228l-3-1 2-14-7-7h4l7 7zM119 214l4-6 1 3zM149 236l-5-5 1-3 12 8 17-7v-16l-15-5h12l7 5v16l-5 5-10 4zM145 218l-3-3 5-3zM147 228l-1-9 7-7zM189 236l-2-4-3 1v-16l3-5 3 3-4 14 4-2 2-8v14zM209 220l-3-3 1-5zM229 224l-7-5-1-7 7 5zM111 236l-1-15 5-5 1 7zM169 230l-16 2-3-3 2-8 5-5h10l3 3zM101 236l6-18 3 5-4 12zM119 226l-3-5 3-3 3 3zM141 228l-1-7 3-3zM202 221v16l-8 8 2 2-25 17-30-2-19-15 2-2-6-10 3-1 7 11-2 2 13 9 32 2 12-4 9-7-2-2 8-8-6-6 2-12 4 2-1 11zM137 230l-3-3 3-7zM203 234l1-13 3-1 1 9zM125 236l-3-3 1-11zM300 251l-1 13h-92l-11-3 14-12-4-2 6-8-1-17 3 1v12l4 2-5 11zM223 236l-5-1 1-13 5 1zM100 225l-7 13-93-1 1-13zM168 251l-19 1-14-6 1-3-8-10 2-8 2 10 9 11 10 4zM222 241l10-10 1-7 67 1-1 13h-72zM168 227h-14l5 3zM143 244l-9-9 1-5 11 11zM119 246l-5-5 1-7zM208 235l-6 12 2 2-16 12 5 3-24 8h-22l-22-8 3-3-14-12 5-1 10 10 8 2-3 3 5 3 30 2 14-4-3-3 19-11-1-5zM131 274l-25-9 6-2-8-12 4-4-1-11 7 11-4 4 10 10-6 2zM152 239l-5 1-3-3zM170 253l13-5 11-11-9 13-8 4zM101 250l-5-1-1-11 5 1zM172 241l8-2-5 5zM166 243l-13 1-1-3 13-1zM174 247l7-7 3 1-5 7zM135 250l-5-3 1-5zM104 263l-103 1-1-13 95-1zM170 255l-23 1-11-5zM300 287l-299 1-1-11 139-3 160 2z"/></g></svg><rect x="777" y="88.8" width="72.1" height="72" fill="#111"/><svg x="777" y="88.8" width="72.1" height="72" viewBox="777 88.8 72.1 72"><g transform="translate(777 88.8) scale(0.2503 0.25)" fill-rule="evenodd"><path fill="#f6f6f6" d="M288 3l-287 1-1-3 287-1zM168 15h-48l9-3h30zM110 19l-20 12 2 2-8 8 4 4-7 13-3-1 4-12-6-2 12-10-5-3-83-1 1-13h100zM91 90l-11-19 2-12 4-2 6-12-4-2 10-10-4-2 19-11 2-4 14 2-28 12 3 3-10 8-4 12 2 18-5-11-3 11 8 12-2 2 4 4zM205 72l-3-1v-14l-6-8v-6l-12-10 4-2-29-13 14-2 2 4 19 11-4 2 10 8-2 4 8 12zM178 19l9-3h100l1 13-81 1-8 4-4-6zM198 59l-10-12 2-2-14-10 1-3-22-8h-22l-22 8 1 3-12 10 2 2-9 13-1-3 6-10-2-2 15-17 18-6h30l22 8 1 5 12 10-2 2zM168 31l-7 1-12-4-29 3 17-5h14zM110 39l7-7 11 3-1 3-8-2zM160 33l-9 1-2 4h-10l-2-4-9-1zM178 39l-9-3-8 2-1-3 13-3-1 3zM215 58h-4l-9-13 4-2-3-7 9 7-4 2zM160 39l-7 3h-18l-7-3zM186 45l-3 1-5-5 3-1zM76 45l-5 13-71-3 1-13h72zM160 43l-13 5-19-5zM212 45l5-3h70l1 13-65 3zM132 47h-12l3-3zM168 47h-12l5-3zM179 50l-2-6 5 3zM106 53l3-7 5 3-1 3-2-2zM175 52l-2-6 3 1zM103 52l-1-3 3-1zM119 58l-2-10 7 3zM156 49l-5 3h-14l-5-3zM171 60l-7-7 5-5 3 1-4 4 4 4zM136 53l-1 3-11-1 3-5zM162 51l-3 3-3-3zM97 80l-3-3v-16l7-9 1 21-6-10zM107 64l-1-5 5-7zM155 56l-3-1 1-3 3 1zM173 56l-2-4 3 1zM187 62l-5-7 1-3 5 7zM103 62l-1-5 3-3zM183 64l-5-7 1-3 5 7zM125 64l-1-3 7-5zM164 69l-9 9 5-7-4-8-15-5-9 5-5 11-3-3 4-8 11-7h10l8 4zM165 68l-8-12 7 5zM169 68l-4-12 5 5zM193 74l-3-1 1-17 7 7 2 8h-4l-3-9zM77 70l-5-3 1-9 5 1zM213 70l-3-1-3-11 5 3zM225 70l-5-1-3-11 7 3zM117 74l-1-7 3-5zM156 71l-11 7-10-2-5-5 9-9h10l3 3-1 5h-14l2 4zM105 78l-3-3 3-11 3 11zM187 74l-2-10 3 1zM82 81l-81 1-1-13 71-1zM123 76l-3-3 1-5zM165 76l2-8 1 5zM224 85l8-2-4-8 1-7 59 1-1 13h-52l2 14h-6zM209 86l-3-7 3-9 3 7zM223 84l-5-1-3-13 5 1zM97 88l-5-3 2-2-6-8 1-3 7 9zM199 86l2-14 1 13zM115 80l-3-3 3-3zM131 78l-3-1 1-3zM171 84l4-10 3 5zM177 92l12-18 1 5-6 8 2 2zM220 123l-19-3-8 4 1-5 8-6-9-1-4-10-24-2v-4l-14-4 3-3-5-3-15-1 11-3 14 6-1 3 5 3 14 2 8-2 5-5-2-2 7-13-1 11 4 2-7 9-7 1 15 1 3-3v-8l5-1 3 11-7 1-1 3 12 10-8 2zM167 82l2-6 3 3zM175 86l8-10 1 3zM125 82l2-4 1 3zM138 81l-5 1-1-3 5-1zM154 81l-5 1-1-3 5-1zM161 82l-2-4 3 1zM101 88v-6l3 3zM221 96l-7-3-1-9 5 1zM173 90l-2-4 3 1zM104 131l-4-10 2-6-11-13-8-4-12-2-12 4-5 5 6 2-8 8 4 4-4 12-3 1 1-13-4-4 5-9-50 2-1-13 47-1v8l6-6 9-3-13 1-1-3 5-3 24 2-2 4 6-2v4l12 4 11 13zM119 94l2-6 3 3zM176 93l-7 1-5-3 5-3 2 4zM107 132l1-17-4-8-17-13 12-2 15 15-8 2 6 8zM186 111l-3 1-14-8-20-2 3-3-7-3-19 1 17-5 12 4-1 3 7 3 20 2zM109 100l-5-3 1-3zM240 99l1-5h46l1 13-43 3zM115 100l-3-1 1-3 3 1zM127 106l-11-5 3-5 3 1-2 4zM226 111l-3 1-13-13 5-3zM237 110l-7-3-5-11 9 5zM61 142l-1-11-4-2 6-12-4-2 10-8-6-2 13-5 14 4-1 3 10 8v14l-7-17-16-4-11 7 4 2-6 8v4l4 2-2 10zM156 105l-26-2 15-1zM172 133l-29 1-3-5 3-9h28l-6-8-18 2-8 8h-14l-7-15 7 1-3 3 9 5 16-4v-4l10-2 16 2-3 3 6 10-4 2zM181 122l-4-12 5 3zM235 138l-5-11 2-8-3-9 9 11-4 2 4 12zM245 122l-6-12 5 1zM88 115h-16l5-3zM187 124l-1-11 5-1zM229 138l-7-11 2-6-7-9h4l9 11-4 2zM44 119l-3 13-41 1 1-13zM75 152l-9-7 4-4v-10l-4-4 9-9h12l5 7-6 12 2 6zM117 140l-1-5-6-2 3-13h8l3 3zM238 123l5-1 2 4 8-6h34l1 13-39 3-2-8-1 7-3 1zM181 136l2-14 1 13zM86 125l-9-1-3 3 11 1zM187 138l-1-9 5-5zM193 140l1-13 7-1zM225 150l-3-1v-8l-4-2-7-13h6l5 11 4 2zM149 178l-3-5 2-8-4-2-9-21h-12l-11 13 4-6-2-2 10-10-2-2 9-7 7 5-4 4 8 8-2 4 6 12 4 2 2 12zM53 142l-1-9 3-3 1 11zM91 142l1-11 3-1 1 5zM45 144l-3-1 1-11 3 1zM212 139l-11 1-1-3 7-3zM170 159l-13 3-8-14 2 14-7-11 2-6-6-8 3-1 6 10h20zM241 148l-3-1 1-11 3 1zM95 150l2-12 1 9zM185 150l-3-1 1-11 3 1zM191 152l-3-3 1-11zM233 150l-3-1 1-11 3 1zM72 143l5 3 7-5-11-1zM199 152l-5-3 1-9 5 1zM199 170l-5-5 2-4-4-8 3-1 8 10h6l7-7-6-4 2-10 5-1 1 11 4 2-6 10 4 2-9 7zM94 153l-5 7-4-2-10 6h-10l-7-5 4-4-6-12 3-1 3 7 8 6-6 2 3 3 14-2-3-3 11-7 1 3-6 4 3 1 6-6zM44 157l-9 3h-34l-1-13 41-3zM94 177l-3 3v-6l-10 12-81-1 1-13h40l3 9 7 3h10l14-6 4-6-14 6h-8l-11-7 8-2-8-8 4-4-3-13 5 1 4 10-4 4 7 7 14 2 12-6-7 7 9-3-3 5 9-1zM109 178l8-18 12-4 9 7-2-6-9-5-15 9 10-10-2-2 3-3h10l9 17-2 10-5-7-1 9-5 3 3-15-9-3-7 5 2 2-4 8zM96 159l9-13 7 1-11 13zM240 161l3-13 45-1-1 13zM177 162l-3-3 1-11 3 1zM199 190l1-3-5-5 14 4-3 3 7 3 13-3-10-2 7-1 11-11-4-2 4-8-4-2 7-15-1 13 4 2-4 10 4 4-10 10 8 2-11 7h-12zM183 162l-3-5 1-7 3 5zM226 177l-11 7-18-4-3-3 2-2-10-10v-14l6 10v8l10 6-3 3h20l-5-3 13-11 3 1-8 10zM223 164l3-13 3-1-1 11zM109 170l2-8 1 5zM192 185l-11 3-8-8h-12l-5 3 1 3 15 3-13 1-6-6-1 3 7 5h12l1 3-5 3h-10l-3-3 2-2-12-8 10-10-1-13 5 3-1 7 20 2-5-7v-4l3-1 7 11-2 2zM185 176l-5-9 1-5 7 11zM288 185l-45 1 1-21 3 9 40-2zM103 206h-12l-7-5 6-2-2-10 4-2 5-15-1 17-4 4 6 6-6 2 17 1zM103 190l-5-3 3-15 3 5zM123 176l-3-1 1-3 3 1zM131 194l-1-9 9-9 1 3-8 12 2 2zM194 181l-3 1-5-5 3-1zM130 183l-11 5-2 4-11-1 4-2-4-2 1-9 4 8zM128 179l-5 3h-8l-3-3zM85 188l4-8 1 5zM172 185l-11 1-1-3 11-1zM137 190l2-4 1 3zM130 201l-3-1-4 6h-6l-8 8-109-3 1-13h76l4-10 3 1v10l-8 2 7 9h16l22-12 2 2 2-4zM123 192l2-4 1 3zM120 197l-21-1-3-5 21 3zM170 201l-5 5h-10l1-3-8-6v-6l11 11zM147 202l-3-3 1-7zM175 198l4-6 1 3zM185 200l-5-3 3-3zM187 198l-1-3 3-1zM193 198l-1-3 3-1zM209 222l-7-9 2-4-10-10 3-3 11 13-2 4zM116 199l-6 2 1-3zM197 208l-8-10 9 7zM200 199l87-1 1 13-71 1 5 11-6 2-1 15-5-5v-12l4-2-4-8 4-2zM139 208v-6l3 3zM151 208l-5-3 3-3zM173 206l-3-1 1-3 3 1zM181 210l-3-3 3-3zM187 212l-2-8 3 3zM195 220l-5-9 1-7 3 3-2 2 4 6zM125 212l-3-3 3-3zM139 218l-3-3 1-7 5 5zM168 211l-16-2 13-1zM181 230l2-20 3 7-2 12zM195 234l2-24 5 9-2 10zM141 228l-1-7 7-9zM173 228l-1-13 3-3 1 13zM187 236l-3-5 5-19-1 19 5-11 1 9zM115 224l-1-7 3-3zM129 220v-6l3 3zM167 228v-14l3 3v8zM163 230l-16 2-3-3 2-8 5-5h10l3 3zM177 230l2-14 1 11zM101 222l-1-3 3-1zM105 248l-3-11 7-19 1 9-4 10 2 10zM121 238l-5-5v-6l3 5 4-12 1 11zM97 236l1-9 5-5-1 13zM110 249l2-4-4-8 3-3 5 11-2 4 7 7 10 4-2 4 12 4 28-2 7-3-3-3 19-11-2-4 12-12v-10h4v10l-12 12 2 4-16 12 6 2-15 7-30 2-14-4-7-5 4-2zM98 249h-6l-3-11h-88l-1-13 95-1-3 13 4 2zM288 225l-1 13-69-1 5-13zM160 227h-12l5 3zM166 233l-9 5-14-2-5-7 13 7zM135 240l-5-3-1-7zM135 234l-2-4 3 1zM169 236l4-6 1 3zM173 238l4-6 1 3zM188 247l-7 7-12 4-4 6h-26l-4-6-8-2-11-9 2-4-4-8 4 2 5 13 16 8h26l14-6 6-8zM175 242l6-8 1 3zM168 249l-7 3h-18l-10-4-7-11 9 9 10 4zM146 239l-5 1-3-3zM168 237l-9 7-13-1 1-3zM179 244l6-8 1 3zM187 244l-1-3 5-5 1 3zM288 251l-1 13h-88l-11-3 14-12-4-2 7-11 3 3-4 8 7 3zM127 244l-5-3 1-3zM137 244l-1-3 3-1zM167 244l-1-3 3-1zM174 251l-11 5h-22l-17-9 19 7zM128 273l-7 1-18-8 5-5-8-12 3-1 13 13-6 2zM100 263l-99 1-1-13 91-1zM288 287l-287 1-1-11 135-3 152 2z"/></g></svg><rect x="849.1" y="88.8" width="73.7" height="72" fill="#141414"/><g filter="url(#b2)" fill="#aaa"><ellipse cx="888.1" cy="98.8" rx="4" ry="4" opacity=".55"/><ellipse cx="889.1" cy="111.8" rx="16" ry="6" opacity=".22"/><ellipse cx="880.1" cy="133.8" rx="13" ry="9" opacity=".2"/><ellipse cx="887.1" cy="146.8" rx="7" ry="6" opacity=".3"/></g><rect x="702.2" y="160.8" width="74.8" height="74.1" fill="#191919"/><g filter="url(#b2)" fill="#999" opacity=".18"><ellipse cx="740.2" cy="180.8" rx="20" ry="7"/><ellipse cx="738.2" cy="200.8" rx="22" ry="6"/><ellipse cx="742.2" cy="215.8" rx="12" ry="8"/><rect x="712.2" y="161.8" width="54.8" height="3"/><rect x="712.2" y="229.9" width="54.8" height="3"/></g><rect x="777" y="160.8" width="72.1" height="74.1" fill="#151515"/><svg x="777" y="160.8" width="72.1" height="74.1" viewBox="777 160.8 72.1 74.1"><g transform="translate(777 160.8) scale(0.2503 0.2503)" fill-rule="evenodd"><path fill="#55555a" d="M288 43l-61 1-6-6-42-12-22-4h-26l-48 12-16 6-2 4h-64l-1-33 101-1 20-6h46l20 6h100zM0 91l1-33h60l4-6 14-4 22-12 30-8h26l18 4 52 20 6 6 55 1-1 33h-38l-6-6-24-8-30-24-18-10-12-4h-30l-26 12-15 15-6 12v8l4 4h-12l10 6 6 12v12l-7 7-11-5-8-16-7-7-15-5 5-5zM0 137v-30l33-3-1 5 11 5 24 26 8 4 12-2 17-21v-16l-10-16 2-20 13-15 24-10h22l18 6 12 8 24 26 18 10 22 6 6 6 33 1-1 33h-22l-4-6-52-24h-16l-13 11-13 19h-16l-4-6-20-6-8 4-6 8-2-2-14 16-20 10-16-2-36-18-2-6zM125 100l16 4 32-10 5-5v-14l-4-8-11-9-12-4h-16l-10 4-13 15v10zM168 83l-7 7-10 4h-18l-13-11v-10l9-11 24-2 15 11zM288 187l-31 1 1-5-15-7-28-32-14-2-11 9-8 14-4 18 6 4h-8l8 6 6 10v24l-9 11-14 8-22 2-14-6-9-15 6-14 28-26h-6l4-4v-6l-17-19h-20l-38 30-10-2-8 4h-14l-6-4h-40l-1-31 23-3 2 6 32 12h22l16-8 8-10 2 2 20-16h10l18 10 4 6h8l22-28 10-6h16l10 4 30 22 8 2 4 6h22zM288 233l-63 1-2 6-36 18-18 6h-34l-30-14-13-11-1-5h-90l-1-31 69-1 42-34 8-4h14l11 11 2 8-6 12-22 22-2 16 11 13 12 6h26l18-8 17-19v-22l6-2-8-6-6-12v-12l4-8 11-7 11 9 8 16 13 13 9 3-1 5h40zM149 234h12l9-7 2-12-5-7h-12l-13 11-2 6zM288 281l-93 1-14 6h-58l-12-6h-110l-1-31 89-3 2 6 34 14 44 2 52-16 2-6 64 2z"/><path fill="#9a9aa0" d="M288 43l-61 1-6-6-42-12-22-4h-26l-48 12-16 6-2 4h-64l-1-21 83-1 10-6 28-4h46l28 4 12 6h80zM0 91l1-21h62l2-6 36-22 34-10h18l30 8 40 22 10 2 6 6 49 1-1 21h-38l-6-6-24-8-30-24-18-10-12-4h-30l-26 12-15 15-6 12v8l4 4h-12l10 6 6 12v12l-7 7-11-5-8-16-7-7-15-5 5-5zM0 137l1-19 26-2 2 6 10 4 32 26h10l12-6 23-29-14-28v-18l15-17 14-6 32 2 14 8 11 11 8 14 15 13 38 16h6l4 6 29 1-1 21h-22l-4-6-52-24h-16l-13 11-13 19h-16l-4-6-20-6-8 4-6 8-2-2-14 16-20 10-16-2-36-18-2-6zM125 100l16 4 32-10 5-5v-14l-4-8-11-9-12-4h-16l-10 4-13 15v10zM160 79l-11 9h-12l-9-7v-8l11-9h8l13 9zM288 187l-31 1 1-5-15-7-28-32-14-2-11 9-8 14-4 18 6 4h-8l8 6 6 10v24l-9 11-14 8-22 2-14-6-9-15 6-14 28-26h-6l4-4v-6l-17-19h-20l-38 30-10-2-8 4h-14l-6-4h-40l-1-19 25-3 4 6 40 8 18-6 30-24 12-4 8 2 20 14h10l7-5 19-25 14-4 18 8 22 20 14 6 2 6h24zM288 233l-63 1-2 6-36 18-18 6h-34l-30-14-13-11-1-5h-90l-1-19 65-1 4-6 14-6 28-28 8-4h12l7 9v8l-19 21-9 5 4 2-6 6 2 16 21 17 36 2 22-10 27-29-3-5 74 2zM139 236l8 4h12l10-4 9-9v-18l-9-9h-12l-8 4-15 17v8zM288 281l-93 1-14 6h-58l-12-6h-110l-1-19 91-3 4 6 30 8 44 2 44-10 4-6 70 2z"/><path fill="#ececec" d="M288 43l-61 1-6-6-64-16h-26l-22 4-38 12-6 6h-64l-1-9 71-1 8-6 34-8 48-2 48 10 10 6h68zM0 91l1-9h72l-1-5 29-29 34-12 36 4 20 10 24 18 26 10 2 4 45 1-1 9h-38l-6-6-24-8-30-24-18-10-12-4h-30l-26 12-15 15-6 12v8l4 4h-12l10 6 6 12v12l-7 7-11-5-8-16-7-7-15-5 5-5zM0 137l1-7 24-2v6l12 4 24 18 22 2 8-4 21-21v-4l5 1 13-15-20-24-2-20 17-17 18-4 14 2 12 6 13 13 9 27 36 12 34 16 2 4 25 1-1 9h-22l-4-6-52-24h-16l-13 11-13 19h-16l-4-6-20-6-8 4-6 8-2-2-14 16-20 10-16-2-36-18-2-6zM125 100l16 4 32-10 5-5v-14l-4-8-11-9-12-4h-16l-10 4-13 15v10zM176 109l-3-3h-18l-14 6-3 7 8 6 1 5h20zM288 187l-31 1 1-5-15-7-28-32-14-2-11 9-8 14-4 18 6 4h-8l8 6 6 10v24l-9 11-14 8-22 2-14-6-9-15 6-14 28-26h-6l4-4v-6l-17-19h-20l-38 30-10-2-8 4h-14l-6-4h-40l-1-7 31-3 6 6 34 2 12-8 4 2 34-26h14l22 18 12 2 17-25 11-11 10-2 14 6 22 24 16 8 2 6h26zM170 177l-3-3-7 3zM100 203l4-12 13-13h10l3 3-2 10-7 7-12 6zM135 240l8 4h20l19-13 4-8v-14l-15-19-6-2-8 4-27 25-2 14zM288 233l-63 1-2 6-36 18-18 6h-34l-30-14-13-11-1-5h-90l-1-7 73-1-3-3 3-3 16-2 3 3-10 4 17-1-3 5 15 19 18 10 18 4 34-6 38-24 4-8 64 2zM288 281l-93 1-14 6h-58l-12-6h-110l-1-7 99-3 6 6 24 4h48l24-4 6-6 80 2z"/></g></svg><rect x="849.1" y="160.8" width="73.7" height="74.1" fill="#141414"/><svg x="849.1" y="160.8" width="73.7" height="74.1" viewBox="849.1 160.8 73.7 74.1"><g transform="translate(849.1 160.8) scale(0.2507 0.2503)" fill-rule="evenodd"><path fill="#777" d="M294 1l-71 5h-150l-73-5zM294 27l-79 3-54 10h-28l-54-10-78-2-1-5 19-3h82l30 4h32l30-4h82l18 2zM294 53l-73 3-20 4-32 12-34 2-46-16-34-4h-54l-1-7 31-3 56 2 48 16h24l40-14 36-4 58 2zM294 77l-57 3-72 12h-36l-50-12-78-2-1-7 79-1 50 14h36l62-14h66zM294 103l-37 1-36 6h-86l-44-8-90 2-1-7 3-3 78-2 38 8 28 2 54-2 46-6h42l5 3zM294 127l-93 11-26-8-50 2-26-8-98 4-1-7 61-7h38l22 6 44-2 40 8 42-6h46zM294 151l-5 3-42 2-24 6h-24l-32-8-40 8-36-14h-30l-14 4h-46l-1-7 41-3 28-6h24l36 12 34-6 40 10h16l40-8h34zM0 177v-6l5-3h30l20-4h32l28 12h22l26-8 34 6h30l48-6 19 3-1 7h-26l-42 6-70-4-28 8-22-2-30-10zM0 201l1-7 72-2 26 6h28l30-8h24l34 6 79-1-1 7-22 2h-66l-26-6h-24l-50 10-28-4zM294 225l-9 3h-64l-44-12h-30l-44 12h-94l-8-2-1-5 3-3h106l38-10h32l44 10h68zM294 249l-3 3h-78l-44-12h-26l-40 12h-100l-3-7 95-3 46-14 24-2 44 14 84 4zM294 275l-83 3-68-4-36 4-106-2-1-5 11-3h72l56-8h32l28 6 84 2 10 2zM288 295h-282l139-5z"/><path fill="#f0f0f0" d="M242 1l-79 5-111-5zM258 25l-11 3-46 2-38 8h-32l-36-8-48-2-11-3 9-3h204zM268 49l-3 3-52 4-58 18-26-2-44-16-56-4-3-3 17-3 48 2 50 16 22-2 42-14 46-2zM276 75l-49 5-66 12h-30l-46-12-67-5 3-3 46-2 28 4 22 8 24 4 28-2 52-12h52zM282 99l-71 11-90-2-24-6h-76l-9-3 29-5h52l38 8 82-2 24-4h34zM284 125l-39 5-22 6h-28l-28-8-34 4-42-10h-22l-20 4h-36l-3-3 59-9h26l24 6h58l22 6h26l16-4h42zM286 149l-71 13-24-2-18-6h-16l-18 6h-18l-34-14-36 4-43-1 67-13h14l34 12 50-4 26 8h26l30-6h24zM8 173l57-9h18l38 14 18-2 16-6h26l12 4 91-1-3 3-48 6h-42l-28-4-28 8h-26l-28-10h-64zM14 199l1-3 16-2 98 4 32-8h16l28 6 75 1-1 3-38 4h-30l-28-6h-30l-32 8h-34l-20-4zM18 223l7-3h74l52-12h26l38 10 54 2 7 3-9 3h-52l-48-12-24 2-46 12h-40zM26 247l75-5 44-14h26l42 14 55 5-5 3h-56l-40-12h-20l-22 8-32 6-64-2zM258 273l-21 3h-182l-19-3 5-3 64-2 30-6h40l30 6 48 2zM232 295h-170l55-3z"/></g></svg><rect x="702.2" y="234.9" width="74.8" height="70.9" fill="#111"/><svg x="702.2" y="234.9" width="74.8" height="70.9" viewBox="702.2 234.9 74.8 70.9"><g transform="translate(702.2 234.9) scale(0.2493 0.2496)" fill-rule="evenodd"><path fill="#f6f6f6" d="M300 27l-101 3-52 8-74-10h-72l-1-13 91-1 66 4 52-4h90zM300 53l-75 3-62 16h-28l-54-16-80-2-1-13 85 1 22 4 28 10 20 2 62-16 82-2zM300 81l-61 1-36 6-64 4-50-10-26-2-62 2-1-13 79-1 46 12 38 2 70-14h66zM300 107l-41 1-38 6-34-4h-64l-28-6-94 4-1-13 89-3 42 8 96-2 24-4h48zM300 133l-47 3-26 6h-24l-28-8-46 4-32-10-96 6-1-13 91-7 34 8 50-2 22 6 24 2 28-6 50-2zM0 159l1-13h36l32-6h22l32 12 60-4 20 6h24l28-6 45-1-1 13-46 2-18 4-76-4-18 6h-24l-32-12h-22l-20 4zM0 187l1-15h84l24 8h28l20-6h34l22 4 38-4 49 1-1 13-76 2-38-6h-24l-36 8h-24l-34-6zM300 213l-69 1-46-10-26-2-54 12h-104l-1-13 115 1 58-10 42 8h84zM300 239l-71 1-28-4-32-10h-18l-56 14h-94l-1-13 99-1 54-14h20l32 10 26 4h68zM300 265l-299 1-1-13 105-1 40-8h26l44 8h84zM300 283l-299 1-1-5 299-1z"/></g></svg><rect x="777" y="234.9" width="72.1" height="70.9" fill="#121212"/><svg x="777" y="234.9" width="72.1" height="70.9" viewBox="777 234.9 72.1 70.9"><g transform="translate(777 234.9) scale(0.2503 0.2496)" fill-rule="evenodd"><path fill="#555" d="M276 13l-9 7-18 4-56 4-26 8-18 10h-10l-18-10-26-8-56-4-18-4-9-9 9-7 18-4h210l18 4zM276 55l-13 9-42 6-44 14-44 4-56-18-50-6-10-4-5-7 19-9 40-2 20 4 26 16 20 8 22-2 34-20 28-6 36 2 16 6zM276 99l-17 9-56 14-36-10-44 2-36-10-60 2-10-4-5-7 11-7 20-4h40l44 12 58-2 64-8 20 4 5 3zM12 139l3-5 20-8 30-8 22-2 38 14 44-4 26 12h24l18-6h30l9 9-9 7-56 16-20-2-22-8h-12l-26 12h-14l-22-18-14-6-54 6-12-4zM12 183l5-7 8-4 34-8h20l30 16h20l26-10h24l20 6 54-4 18 4 5 5-9 9-28 6h-36l-30-8h-18l-44 12h-24l-28-6-30-2-12-4zM12 225l5-7 12-4 70-2 60-16 18 2 36 12 44 4 14 4 5 5-5 7-10 4-48 2-20-6-20-12-20-4-16 4-26 14-24 6-50-2-16-4zM276 267l-13 9-28 4h-182l-34-6-7-9 19-9 70-4 26-8 18-10h14l36 16 70 8z"/><path fill="#aaa" d="M260 15l-11 5-62 6-36 12h-14l-36-12-62-6-10-4-1-7 25-7h182l24 6zM262 55l-11 7-34 6-38 14-22 4h-28l-50-18-42-6-11-7 5-5 12-4h36l14 4 26 16 16 6h16l14-4 32-18 14-4h34l12 4zM262 97l-7 7-42 14h-18l-28-8-44 2-38-10h-52l-5-3 3-7 20-6h34l50 12 72-4 16-4h24zM28 135l31-13 26-4 38 14 44-4 34 14h12l20-6h24l5 5-17 11-36 10-18-2-22-8h-14l-20 10-12 2-38-24-48 4-6-2zM26 181l9-7 22-6h22l28 14h20l28-10h24l22 6 50-2 11 7-11 7-18 4h-30l-44-8-44 12h-26l-54-10zM28 227l3-7 12-4 56-2 54-16h16l42 14 36 4 13 7-1 5-10 4-30 2-24-6-26-14-16-2-16 4-40 18h-48zM262 267l-11 7-32 4h-152l-30-4-11-7 5-5 12-4 62-4 44-16 14 2 28 12 62 8z"/><path fill="#f4f4f4" d="M246 13l-19 7-32 2-42 10h-18l-28-8-62-8-3-5 21-7h162l18 4zM246 57l-75 25-46 2-44-18-38-8-1-5 13-5 30 2 38 20 14 4 22-2 40-20 20-4 22 2 5 3zM246 101l-13 7-32 8-36-8-44 2-38-10h-36l-5-5 15-7h30l36 10 118-4 5 3zM246 145l-15 9-24 6-16-2-20-8h-18l-22 10h-12l-30-22-18-2-24 4-5-5 13-9 28-6 18 4 26 12 24-6h14l34 14 46-4zM42 179l15-7h22l20 10 26 2 42-12 36 8h40l3 5-19 7h-26l-22-6h-28l-32 10h-28l-44-10-5-3zM42 227l3-7 52-4 52-16h22l32 12 34 6 9 5-3 5-6 2h-28l-40-18h-24l-50 20h-38zM42 269l1-5 12-4 54-4 36-12h14l36 12 40 4 11 5-1 5-14 4-152 2-22-2z"/></g></svg><rect x="849.1" y="234.9" width="73.7" height="70.9" fill="#121212"/><g fill="#b5232f" font-size="40" text-anchor="middle"><text x="745.6" y="135">1</text><text x="820" y="137.5">2</text></g><rect x="698" y="402" width="280" height="208.2" fill="#111"/><rect x="698" y="402" width="71" height="70" fill="#9a9a9a" filter="url(#nz1)" opacity=".7"/><rect x="769" y="402" width="69" height="70" fill="#c8c8c8" filter="url(#nz2)"/><rect x="838" y="402" width="70" height="70" fill="#aaa" filter="url(#nz1)"/><path fill="#cfcfcf" d="M872 419h2v2h-2zM876 419h2v2h-2zM882 419h2v2h-2zM884 419h2v2h-2zM886 419h2v2h-2zM888 419h2v2h-2zM890 419h2v2h-2zM870 421h2v2h-2zM872 421h2v2h-2zM874 421h2v2h-2zM878 421h2v2h-2zM880 421h2v2h-2zM884 421h2v2h-2zM890 421h2v2h-2zM892 421h2v2h-2zM896 421h2v2h-2zM868 423h2v2h-2zM874 423h2v2h-2zM876 423h2v2h-2zM878 423h2v2h-2zM880 423h2v2h-2zM882 423h2v2h-2zM884 423h2v2h-2zM890 423h2v2h-2zM894 423h2v2h-2zM896 423h2v2h-2zM868 425h2v2h-2zM872 425h2v2h-2zM874 425h2v2h-2zM878 425h2v2h-2zM882 425h2v2h-2zM886 425h2v2h-2zM888 425h2v2h-2zM892 425h2v2h-2zM894 425h2v2h-2zM896 425h2v2h-2zM868 427h2v2h-2zM872 427h2v2h-2zM880 427h2v2h-2zM882 427h2v2h-2zM886 427h2v2h-2zM894 427h2v2h-2zM872 429h2v2h-2zM874 429h2v2h-2zM876 429h2v2h-2zM880 429h2v2h-2zM882 429h2v2h-2zM884 429h2v2h-2zM886 429h2v2h-2zM888 429h2v2h-2zM890 429h2v2h-2zM892 429h2v2h-2zM865 440h2v2h-2zM871 440h2v2h-2zM873 440h2v2h-2zM863 442h2v2h-2zM867 442h2v2h-2zM869 442h2v2h-2zM875 442h2v2h-2zM879 442h2v2h-2zM881 442h2v2h-2zM885 442h2v2h-2zM869 444h2v2h-2zM871 444h2v2h-2zM873 444h2v2h-2zM875 444h2v2h-2zM877 444h2v2h-2zM885 444h2v2h-2zM887 444h2v2h-2zM863 446h2v2h-2zM865 446h2v2h-2zM869 446h2v2h-2zM875 446h2v2h-2zM877 446h2v2h-2zM883 446h2v2h-2zM885 446h2v2h-2zM863 448h2v2h-2zM865 448h2v2h-2zM871 448h2v2h-2zM877 448h2v2h-2zM879 448h2v2h-2zM881 448h2v2h-2zM883 448h2v2h-2zM887 448h2v2h-2zM863 450h2v2h-2zM865 450h2v2h-2zM867 450h2v2h-2zM869 450h2v2h-2zM871 450h2v2h-2zM873 450h2v2h-2zM877 450h2v2h-2zM879 450h2v2h-2zM881 450h2v2h-2zM867 452h2v2h-2zM869 452h2v2h-2zM875 452h2v2h-2zM848 413h2v2h-2zM850 413h2v2h-2zM852 413h2v2h-2zM854 413h2v2h-2zM858 413h2v2h-2zM862 413h2v2h-2zM850 415h2v2h-2zM860 415h2v2h-2zM862 415h2v2h-2zM892 415h2v2h-2zM898 415h2v2h-2zM902 415h2v2h-2zM892 417h2v2h-2zM848 451h2v2h-2zM850 453h2v2h-2zM892 453h2v2h-2zM902 453h2v2h-2zM892 455h2v2h-2zM896 455h2v2h-2zM904 455h2v2h-2z"/><rect x="908" y="402" width="70" height="70" fill="#111"/><svg x="908" y="402" width="70" height="70" viewBox="908 402 70 70"><g transform="translate(908 402) scale(0.25 0.25)" fill-rule="evenodd"><path fill="#f6f6f6" d="M280 3l-279 1-1-3 279-1zM90 47l10-12-1-3 14-8 12-2-5-3 11-3 28 2-4 4 24 8 5 9-3 1-4-8-18-8-28-2-24 8zM114 21l-22 12 4 2-10 12 2 4-3 11-3-1v-16l8-10-4-2 9-9-11 9-7 13-5-1 10-10-3-3-79-1 1-13h104zM166 21l9-3h104l1 13-79 1-4 4-6-8 3 5-4 2 10 10-2 6 6 10-3 1-7-11 2-4-12-12 4-2zM168 31l-25-5-31 5 23-7 22 2zM156 31l-11 3-21-3zM105 40l-1-5 7-3-1 5zM115 38l-1-3 3-1zM156 35l-11 7h-10l-11-7zM165 38l-2-4 3 1zM124 37l-6 2 1-3zM162 39l-6-2 5-1zM185 54l-10-16 11 9zM158 41l-15 7-17-5 21 1 6-4zM207 46l-5-3 1-3zM179 52l-3-1 2-2-5-7 9 7zM191 48l-5-3 1-3zM105 56l-1-7 7-5zM70 53l-3 7-67-1 1-13h68zM93 64l-1-5 4-8-2-2 3-3 1 7zM210 47l69-1 1 13-59 1-1 5 4 8-7 1-3-11 4-2v-4zM75 62l-1-9 5-5 1 7zM113 56l-1-5 5-3zM152 49l-5 3h-14l-5-3zM211 62l-5-3-3-11 7 5zM89 64l-1-9 5-5zM169 54l2-4 1 3zM195 64l-6-14 7 9zM121 58l-5-3 1-3 7 1zM159 58l-3-5 7-1 1 3zM121 74l-1-11 7-9 7 5-6 6 2 6-3 3-1-11 4-4-6 2v10zM151 76l-5-1 4-2v-10l-6-4 2-2-13-3h14l7 9v10zM159 74l-3-3 2-6-6-8 1-3 7 9 2 8zM179 62l-2-8 3 3zM117 70l-1-9 3-3zM163 70l-2-12 3 3zM173 68l-3-3 1-7zM191 64l-3-1 1-5zM111 70l2-10 1 9zM169 74l-3-5 1-9zM88 87l-9 1 2 4-24-2-10 6v-8h-46l-1-13 73-1-3-11 3-1 5 9-2 4zM85 76l-7-11 1-3 3 1zM97 74l-3-9 3-3zM103 68l2-6 1 5zM146 67l-3 3h-8l-1-7 9-1zM201 76l-3-1 1-13 3 5zM219 120l-17-13 4-4-8-10 6-4-2-12 4-2-1-13 3 1 4 12-4 2 2 12-4 2v4l8 8-6 2 10 10zM89 78l-2-14 5 11zM173 84l5-13-1-7 3 9-4 6 2 2zM195 78l-3-1 1-13zM169 90l11-9-2-2 5-13 1 15-7 7zM187 78l-1-11 3-1 1 9zM171 78l2-8 1 5zM159 78l4-6 1 3zM95 80l-3-3 3-3zM105 82l-3-3 1-5zM121 78l-3-1 1-3zM280 87l-49 1-7-13 55-1zM227 118l-13-13 4-4-6-8 4-4-3-13h4l5 13-4 4 6 8-4 4zM99 88l-9-7 1-3zM192 79l-8 12 6 2-3 3h-24l-10-10-9-1 12 8-3 3 26 4 3 3-4 2 1 13-3-1-3-15-24-4-5-3 4-2-7-5-12 2-2 6-7 1 12-12-5-1-2-4 24 2-3-3 5-1 3 3-2 2 13 7 2 4h10l-3-3 5-1 10-12zM165 84l-1-3 5-3 1 3zM193 92l1-11 3-3 1 13zM121 84l-2-4 3 1zM159 84l-1-3 3-1zM72 87l-9-3-13 3zM119 94l-3-3 9-7zM109 94l-5-3 1-3zM237 118l-5-1-6-12 4-4-5-11h6l5 7-4 10zM50 113l4-8 6-4-6-2 3-3 20-2 11 5-9 3 2-4h-16l5 3-5 1-12 12zM103 128l-3-13 2-4-10-10 1-3 13 15zM174 117l-3 1-3-7-9-5-16 2-14 6-11-7 29-1 2-4-23-3 17-1 10 4h12l-1 3 8 6zM52 101l-8 10 4 6-5 11-3-1 1-13-41 1 1-13zM120 115l-11 1-9-13 9-3zM98 111l-12-8 7 1zM138 103l-1 3-13-1 3-3zM236 103l43-1 1 13-39 3zM94 119l-1 7-5-11-4-2 3-3-16-2-3 3 4 2-11 13-3-1 6-12-2-2 9-7 16 2 5 5-2 2zM183 134l-1-17 3-13 7 3-6 10 2 6zM166 115h-28l9-5h14zM205 160h-10l-7-9 1-3 3 1-4-20 6-8-4-4 9-5 11 7-4 2 8 10-3 3-6-8-6-2-7 7 7 15 5-3v-6l6-2v12l-3 3-13 1 7 5 12-8zM51 128l-1-7 7-7zM97 140v-26l3 5v16zM75 138l-3-3 2-10h-8l9-9h6l7 9-5-1-1 9zM99 146l-3-3 6-2v-10l4 2-2-4 3-13 1 13 6 2-4 8zM140 129l-5 1-6-6-12 6-1-3 5-9h14zM167 130l2-12 1 11zM173 132l2-14 1 9zM227 132l-7-11 3-3zM235 132l-5-5-1-9 5 3zM179 132l-1-11 3-1zM221 134l-3-1-5-13 5 3zM53 140l-1-11 5-3-1 13zM65 140l-5-3v-8l3-3 3 1zM63 156l7-3-5-1-7-7v-4l3-1 10 10 8-2 7-7-2-2 4-12 3-1-3 13h4v6l-3-3-8 8-8 2 4 4zM40 141l-7 3h-32l-1-13 39-3zM47 142l-3-1 1-13 3 1zM149 158l-5-11 2-6-6-10 25-1 1 13-17 1 3 13zM236 145v-12l5-3 39 1-1 13zM113 140l-1-3 7-5zM145 160l-7-13 2-4-7-11 5 1 6 12-2 4 4 6zM169 146l2-14 1 13zM231 146l-3-1 1-13 3 1zM181 148l-3-5 3-9zM187 148l-3-1 1-13 3 1zM217 148l-3-1 1-13 3 1zM223 148v-14l3 3v8zM138 145l-3 5-6-10-15 3 7-7h8zM82 141l-3 3h-8l-3-3zM109 148l-1-5 3-3zM76 167l-6 4 1 3-8 4h-16l-5-3 6-4-5-5-2 6h-40l-1-13 41-3-1-13 3-1 7 13-6 2 11 11zM80 159l-9 5-16-2-5-5 6-2-6-12h4l7 17zM136 161l-11-11-8 2-8 8-1-3 10-8-2-2 3-3h10zM169 158l-3-1 1-11 3 5zM175 160l-3-3 1-11zM181 160l-3-3-1-11 3 3zM231 160l1-13 3-1 1 9zM220 163l-11 9h-14l-11-9 2-4-4-10 10 12-4 2 15 7 11-7-4-2 11-13-5 13zM190 177l5-1 8 4 12-2 3-3-4-2 10-10v-14h4v14l-6 8 4 4-9 7h-18zM139 168l-2-18 5 9zM81 158l-1-5 3-1zM107 182l-2-6 4 4 9-1-12-4 6-12-2-2 9-7 10 2 3 5-6 16-3-1 1 3-5 3zM74 171l15-13 7 1-11 13zM113 176l11-3 4-10-3-5h-8l-7 13zM174 171l-23 1-1-3 5-11h10zM186 187l15-3-1 3 5 3 14 2 11-5-10-2 12-10-4-4 7-11 4 4 2-6 39 1-1 13-40 2-2-8-3 7 4 2-6 10 47 1v14h-74l7 9-3 3-9-11 2-2zM141 172l2-12 1 9zM147 170l-1-9 3-1zM185 178l-5-3-9-15 13 13zM208 163l-5 3-9-3zM101 176l4-10-1 9zM185 170l-3-1 1-3zM68 171h-18l5 3zM85 188l-1-5 4-6-2-4 3-3 1 9-2 8zM189 176l-3-1 1-5 5 3zM135 178v-6l3 3zM77 186l8-12-3 9zM131 184l-5-5 3-5 3 3zM109 194h-16l-5-5 4-2 1-11 3 1-2 12zM114 187l-3 3-8-2-5-5v-6l5 7zM108 199l4-2-1-3 5 1-3-5 7 3-5-9h4l4 8-2-10 5 3 1 5 6-6 3 3-3 7-2-4-4 8-3-3 2 4-3 3-2-6-6 6zM168 189l-6 4 1 3h-12l3-3-8-8 3-3 6 8zM166 183l-1 3-11-1 3-3zM147 194l-5-7 1-3 5 7zM76 187l-3 13-73-1 1-13zM102 199l-7 1 3 3-9 3-11-3 12-2-10-6 1-7 8 8zM169 196l-2-4 3 1zM160 201l-11 1-5-7 7 5zM171 198l2-4 1 3zM181 198l-1-3 3-1zM191 204l-3-3 1-5zM195 202l-3-3 3-3zM140 207l1-3 7-1zM161 206l-1-3 3-1zM203 212l-5-3-1-7zM167 224l-1-13-4-4 3-3 5 17zM171 226l-1-3 6-8-1-11 3 3v10zM123 216l-3-3 3-7zM164 221l-9-13-11 1 3-3 14 2zM169 250l13-11-2-2 8-10-2-16 3-5 1 17 4-12v14l-10 12 2 2-13 11zM103 214l-3-3 5-3zM113 214l-3-3 3-3zM171 220v-12l3 7zM107 216v-6l3 3zM160 225l-3 3h-16l-9-11 3-5 8 14zM139 218l2-6 1 5zM157 222l-10 2-5-5 7-7h4l1 5 4 2zM199 226v-14l3 5zM209 226l-3-1-1-13 5 3zM94 239h-6l-1-11h-86l-1-13 95-1-5 9v4l4 2zM95 226l-1-3 7-9 1 3zM280 227l-65 1-1-13 65-1zM127 224l-3-3 1-5zM123 234l-7-11 1-5zM179 228l-1-3 5-5 1 3zM113 236l-3-5 1-7zM119 236l-5-7 1-5zM103 240l-5-3 1-11 3 1zM196 231l-6 8 2 4-14 10 5 3-18 8-24 2-16-4-11-7 4-2-12-10 2-4-4-12h4l2 16 14 10-3 3 20 6h12l22-6-3-3 16-12 4-12 3-3zM280 243l-1 13h-86l-7-3 12-12-4-2 7-13 3 1-3 13zM146 231l-7 1-3-3zM173 238l-3-3 7-7 1 3zM170 233l-3 5-9-3 5-5 3 1-1 3zM177 240l-1-5 5-5 1 3zM130 237l1-3 7-1-1 3zM123 244l-5-5 7-5 3 5-5-1 3 5zM168 251l-4 2 1 3-6 2h-22l-8-2 3-3-15-7-5-7 31 17zM109 254h-4l-7-7-1-7 7 5zM98 255l-97 1-1-13 89-1zM170 245l-11 5-23-1zM116 263l-5 1-13-7 9-1zM280 279l-279 1-1-9 117-1 8-4 56 4h98z"/></g></svg><svg x="698" y="472" width="71" height="70" viewBox="0 0 71 70"><g filter="url(#b2)"><ellipse cx="33" cy="22" rx="15" ry="6" fill="#999" opacity=".8"/><ellipse cx="20" cy="42" rx="8" ry="7" fill="#ddd" opacity=".9"/><ellipse cx="36" cy="48" rx="12" ry="4" fill="#aaa" opacity=".7"/><rect x="10" y="66" width="50" height="4" fill="#777" opacity=".6"/></g></svg><rect x="769" y="472" width="69" height="70" fill="#141414"/><svg x="769" y="472" width="69" height="70" viewBox="769 472 69 70"><g transform="translate(769 472) scale(0.25 0.25)" fill-rule="evenodd"><path fill="#55555a" d="M276 27l-69 3-12-10-34-8h-46l-34 8-12 10-68-2-1-27 275-1zM276 79l-41 3-6-10-14-6-28-24-32-14h-34l-28 12-13 11-10 14-2 8 7 9-74-2-1-33 59 1 4-8 42-18 18-4h30l62 22 6 8 54-2zM0 131v-32l33-1-3 7 12 14 10 20 9 9 16 2 8-4 13-15 6-20-2-6-8-6h6l-18-18-2-12 6-14 11-11 26-12h30l24 10 36 36 24 12 8 10 31-1v32l-23 3-4-10-46-30-9-9-10-24-13-13-24-10h-18l-18 6-11 9-6 10v14l4 8 26 28-39 43-12 6h-16l-34-22-2-8zM182 89l-11 7-48 4-21-17-4-16 6-12 17-11 28-2 18 8 9 9 6 12zM168 79v-16l-9-9-14-6-22 2-15 15 2 14 9 9 10 4 20-2 12-4zM162 77l-13 9-16 2-12-4-5-5-2-14 7-9 8-4h18l15 11zM150 71v-4l-9-7-15 5v8l7 5h8zM83 140l-14 2-9-7-6-14-2-24-7-11h26l21 17 4 8v10zM276 183l-35 3 3-9-10-10-16-36-13-11h-16l-13 17-6 30 6 10 10 6-4 2 14 14v18l-6 10-15 13-14 6-20 2-16-4-17-13-4-10 2-10 17-17 14-8-1-3 12-12-4-14-13-13-14-2-48 44-68-2-1-33 23-1 4 8 16 8 22 4 22-10 32-32 14 2 22 20 9-11 16-34 7-5h6l28 14 31 31 1 7 22-2zM162 131l-3 3h-14l-15-21 15-9h18l3 3v10zM223 198l-12-2-22-16-9-11v-24l6-12 7-5 12 2 13 19 2 38 6 8zM276 235l-63 1-4 8-40 16-36 2-22-6-20-10-6-10h-84l-1-33 63 1 1-7 41-41 12-8h8l13 11 2 16-15 15-23 13 4 2-6 4-4 10 4 12 11 11 26 10h18l20-6 20-14 15-21-5-9h70zM101 190l12-2 15-11 2-8-7-9-12 2-9 9-4 8v8zM111 178l-1-3 7-5 1 5zM125 234l14 6h14l18-8 13-17v-10l-6-12-15-11h-10l-20 12-17 19v10zM127 230l-7-11 2-8 11-13 12-8 18-2 13 11 2 16-11 15-16 6h-10zM137 226l14 2 12-6 5-7-2-12-11-7-16 6-9 13zM143 222l-5-5v-6l7-7h12l3 3v8l-9 7zM276 279l-275 1-1-25 93-1 12 10 48 6 34-6 16-10h72z"/><path fill="#a0a0a6" d="M276 27l-69 3-12-10-34-8h-46l-34 8-12 10-68-2-1-19 101-1 24-8h26l24 8h100zM276 79l-41 3-6-10-14-6-28-24-32-14h-34l-28 12-13 11-10 14-2 8 7 9-74-2-1-19 59-1 2-8 40-24 22-6h30l22 6 46 24 6 8h48zM0 131l1-19 26-2-1 9 31 33 20 2 8-4 17-19 6-12-2-6 6-2-24-30-2-16 17-21 24-10h22l22 8 21 19 17 23 36 20 4 8 27 1-1 19-22 2-4-10-46-30-9-9-10-24-13-13-24-10h-18l-18 6-11 9-6 10v14l4 8 26 28-39 43-12 6h-16l-34-22-2-8zM176 83l-5 5-16 6-32 2-17-13-4-16 2-6 11-11 14-6h18l18 8 7 7 6 14zM168 79v-16l-9-9-14-6-22 2-15 15 2 14 9 9 10 4 20-2 12-4zM158 75l-15 9h-14l-11-9v-10l9-9 14-2 8 2 9 9zM150 71v-4l-9-7-15 5v8l7 5h8zM83 140l-14 2-9-7-6-14-2-24-7-11h26l21 17 4 8v10zM162 131l-3 3h-14l-15-21 15-9h18l3 3v10zM276 183l-35 3 3-9-10-10-16-36-13-11h-16l-13 17-6 30 6 10 10 6-4 2 14 14v18l-6 10-15 13-14 6-20 2-16-4-17-13-4-10 2-10 17-17 14-8-1-3 12-12-4-14-13-13-14-2-48 44-68-2-1-19 27-3 8 10 20 4 14-2 18-10 32-30 14 2 16 16 8 4 9-9 12-28 9-9 10-2 12 4 17 15 12 18 14 12-1 7h24zM79 128l5-7v-6l-9-5-5 5v8zM203 176l-12-4-7-15 2-12 9-9h6l7 7 4 12-2 14zM66 209l12-8 8-18 19-23 14-8 13 5 4 6v12l-13 13-34 22-16 4zM101 190l12-2 15-11 2-8-7-9-12 2-9 9-4 8v8zM119 234l16 8h22l14-6 11-9 6-12v-12l-4-8-17-17-12-2-26 18-15 15-2 14zM127 230l-7-11 2-8 11-13 12-8 18-2 13 11 2 16-11 15-16 6h-10zM137 230h18l15-11 2-14-7-9-18-2-19 15v14zM143 222l-5-5v-6l7-7h12l3 3v8l-9 7zM276 235l-63 1-4 8-40 16-36 2-22-6-20-10-6-10h-84l-1-19 91-1-3 7 15 19 18 10 18 4 24-2 28-12 23-19-1-9 62 2zM276 279l-275 1-1-11 105-3 22 10h38l22-10 88 2z"/><path fill="#eeeeee" d="M196 19l-7 1-28-8h-46l-28 8-5-1 9-7 42-6 44 4zM80 21l-11 9-69-3 1-7zM196 21l79-1 1 7-69 3zM0 79l1-7h64l-3-7 25-25 14-8 32-8 24 2 18 6 52 32 3 5-1 3h-4l-10-6-20-18-22-14-18-6h-34l-28 12-13 11-12 20 7 11zM102 49l5-5 3 1-5 5zM160 53l-14-4 7-1zM276 131l-23 3-4-10-46-30-9-9-10-24-12-12 3-1 11 11 12 22 11 11 40 24 4 8h22zM115 122l-1-15-18-20-6-12v-10l9-13 1 3-6 8v14l4 8 26 26zM111 60l-1-3 5-3zM167 62l-6-8 7 5zM122 75v-10l9-7h14l9 7v8l-9 7-8 2zM109 80l-3-3v-14l3-3zM150 71v-4l-9-7-15 5v8l7 5h8zM143 92l18-6 7-7 1-17 3 3-2 18-7 5zM230 73l45-1 1 7-41 3zM117 88l-7-5 1-3zM83 140l-14 2-9-7-6-14-2-24-7-11h26l21 17 4 8v10zM142 93l-15 1-9-5zM77 138l11-9 4-16-7-11-14-6-9 7-2 18 4 10 5 5zM166 107l-3 17-3-11-5-5-10 2-6 14-9-9 5-7 10-4h18zM276 183l-35 3 3-9-10-10-12-30-11-13-12-6-10 2-9 9-10 30 2 12-3 1-5-9 8-24 10-18 11-7h8l16 10 21 35 10 10-1 7h28zM82 157l-9 5h-16l-34-22-2-8h-20l-1-7 7-3h16l1 9 27 23 8 4zM105 132l4-10 3 5-3 5zM162 131l-3 3h-14l-5-9 21-1zM154 167l-5 5-5-15-13-13-14-2-4 4-3-1 9-7h8l23 21zM199 158l-5-3 3-5 3 3zM86 167l13-13 3 1-13 13zM129 178l-1-13-5-5-12 2 2-4 10-2 7 5 2 14zM97 196l-5-3v-10l8-14 9-7-11 17v8l9 3 14-8 3 1-17 11zM78 177l-9 9-69-3 1-7 36-2 8 6h14l10-6zM186 183l-5 3-13-9 7-3zM136 183l9-7 5 1-9 7zM125 182l2-4 1 3zM175 220l-1-19-9-9-14-4h12l13 11 2 16zM142 193l3-3 5 1zM118 239l29 7 26-8 13-11 6-10v-16l-6-10 3-1 7 9 2 10-4 12-19 19-14 6-20 2-16-4zM143 222l-5-5v-6l7-7h12l3 3v8l-9 7zM117 238l-9-7-4-10 2-10 5-5-3 17zM151 218l5-7-9-3-3 7zM123 224l-3-5 3-9zM165 230l8-10 1 3zM129 230l-5-3 1-3zM212 241l-43 19-36 2-22-6-20-10-6-10h-84l-1-7 85-3 1 7 11 11 32 14h32l20-6 28-16 3 1zM276 229l-1 7-63-1 5-9zM140 233l-7 1-3-3z"/></g></svg><rect x="838" y="472" width="70" height="70" fill="#131313"/><svg x="838" y="472" width="70" height="70" viewBox="838 472 70 70"><g transform="translate(838 472) scale(0.25 0.25)" fill-rule="evenodd"><path fill="#77777c" d="M280 19l-279 1-1-19 279-1zM192 37l-47 17-18-2-24-12-15-3 23-11 16 4h26l16-4zM224 63l-23 3-46 14h-30l-40-14-27-5 9-9h10l44 18 30 2 40-16 22-4zM240 89l-3 3-32 4-82 2-46-10-37 1 7-11h26l48 12h38l58-10h18zM250 119l-53 9-34-10-46 2-24-8h-34l-26 4-1-5 3-7 56-2 32 8 44-2 24 6 54-6zM252 147l-35 7h-32l-14-6-18-2-22 8h-16l-30-16h-22l-22 6h-12l-1-11 37-7h24l26 12 48-4 28 10h20l28-8h12zM30 173v-10l3-3 48-2 26 14h22l20-8h24l12 4 65-3v8l-5 3-56 2-12-4h-28l-26 8h-22l-30-10zM36 193l1-3h30l16 4h32l40-10 48 8 41-1-5 11h-34l-38-10h-18l-48 12-60-2zM230 219l-9 11-26-4-34-14h-20l-54 18h-28l-9-11 45-1 56-16 18 2 34 12zM76 247l29-3 34-12h20l18 8 29 5-15 11-28-4h-30l-36 6z"/><path fill="#f2f2f2" d="M190 35l-45 17h-10l-45-17 15-7 22 4h26l22-4zM222 61l-73 19-30-2-36-14-25-3 11-9 68 22 26-4 40-16h12zM240 89l-49 7h-76l-30-8h-42l-1-3 5-7 44 4 26 8 26 2 92-12zM248 117l-39 9h-16l-36-10-42 2-28-8h-20l-34 6-1-5 3-5 48-4 34 8h56l24 6 48-8zM252 145l-41 9h-20l-24-8h-20l-16 6h-16l-32-16h-14l-40 8-1-9 53-9 16 4 20 10 48-4 20 8 20 2 46-10zM30 171l1-9 34-4 16 2 30 14h12l30-10h16l22 6 59-5-1 9-50 4-30-6h-16l-34 10-22-2-28-10zM244 193l-5 9-40-2-28-8h-26l-36 10h-54l-14-2-5-7 37-1 32 4 42-10h26l22 6zM228 223l-5 5h-12l-56-18-18 2-44 16h-36l-5-7 35-1 56-16h22l32 12 28 2zM80 249l3-3 36-4 20-8h18l47 13-11 7-58-4-30 6h-16z"/></g></svg><rect x="908" y="472" width="70" height="70" fill="#111"/><svg x="908" y="472" width="70" height="70" viewBox="908 472 70 70"><g transform="translate(908 472) scale(0.25 0.25)" fill-rule="evenodd"><path fill="#f6f6f6" d="M280 7l-121 3-158-2-1-7 279-1zM280 35l-73 1-54 10h-28l-50-10h-74l-1-13 279-1zM280 63l-77 3-42 10-24 2-68-14h-68l-1-13 77-1 54 14h18l58-14h72zM280 91l-153 7-52-8-74 2-1-13 49-3 34 2 34 8h48l52-8h62zM280 119l-33 1-36 6h-22l-24-6-46 2-24-6-94 4-1-13 59-5h30l30 6 44-2 24 4h24l20-4h48zM280 147l-31 1-36 6h-24l-38-6-32 6-30-10-88 4-1-13 61-7h30l26 8 52-2 22 6h18l32-6h38zM0 175l1-13 78-4 30 10h20l20-6h24l16 4h26l22-4 43 1-1 13-40 2-94-2-24 6h-18l-24-6zM0 203l1-13 118 2 26-6h32l16 4 87 1-1 13h-76l-36-8h-20l-56 10zM280 231l-69 1-54-12h-14l-52 12h-90l-1-13 89-1 44-10 28-2 40 10 78 2zM280 259l-279 1-1-13 81-1 52-8h30l28 6 88 2zM280 279l-279 1-1-5 197-3 82 2z"/></g></svg><rect x="698" y="542" width="71" height="68.2" fill="#121212"/><svg x="698" y="542" width="71" height="68.2" viewBox="698 542 71 68.2"><g transform="translate(698 542) scale(0.25 0.2507)" fill-rule="evenodd"><path fill="#888" d="M284 13l-163 7-58-6h-62l-1-13 283-1zM284 53l-69 3-52 20-32 2-56-22-74-2-1-21 61-1 30 4 14 6 18 14 20 6 10-2 26-18 16-6 30-4h58zM284 91l-5 3h-38l-38 8-32-4-48 2-40-10-82 2-1-19 73-1 46 14 30 2 32-4 52-12h50zM284 131l-37 3-32 10h-22l-30-12h-12l-28 8-32-18h-26l-28 8-36 2-1-21 31-1 30-6h32l32 10 44-2 26 10h16l34-10 38-2zM0 171l1-21 36-2 30-8h16l22 18 14 6 42-14 38 10 58-10 27 1-1 21-86 4-22-6h-22l-30 10h-24l-26-10zM284 209l-65 1-48-16h-28l-46 16h-96l-1-21 57-1 20 4h36l46-12 48 10 76-2zM284 249l-89-1-38-10h-14l-36 10-106 2-1-21 85-1 24-6 26-14 22-4 52 22 74 2zM284 271l-283 1-1-5 283-1z"/><path fill="#f4f4f4" d="M284 11l-83 1-32 4-168-4-1-11 283-1zM284 51l-59 1-26 6-36 16-34 2-52-22-76-2-1-17 45-1 42 4 48 26 20-2 32-20 22-6 74-2zM284 89l-49 3-24 6h-90l-38-10-82 2-1-15 73-1 48 14h44l58-12 60-2zM284 129l-27 1-44 12h-18l-30-12h-18l-14 6h-12l-30-16h-26l-30 8-34 2-1-17 35-1 26-6h32l30 10 44-2 34 12 48-12h34zM0 167l1-15 40-2 20-6h22l22 18 10 4 18-2 20-10h18l16 6 22 2 52-10 23 1-1 15-42 2-18 4h-26l-24-6h-18l-30 10h-24l-30-12zM284 207l-61 1-22-4-32-12h-22l-52 16h-94l-1-15 111 1 32-10 26-2 40 10h74zM284 245l-81 1-22-4-26-10h-10l-46 14h-98l-1-15 89-1 22-6 30-16 14-2 10 2 28 16 14 4 76 2zM284 271h-284l105-3z"/></g></svg><g fill="#b5232f" font-size="37" text-anchor="middle"><text x="807" y="517.5">6</text><text x="880" y="517.5">7</text><text x="945" y="517.5">8</text><text x="735" y="588.5">9</text></g><rect x="1156" y="42" width="197" height="196.6" fill="#141414"/><svg x="1156" y="42" width="197" height="196.6" viewBox="1156 42 197 196.6"><g transform="translate(1156 42) scale(0.25 0.2501)" fill-rule="evenodd"><path fill="#4b4b50" d="M788 785l-787 1v-42l273 1-5-7-269-1 1-13 240-2 19 7-13-17-247-1 1-75 225-1-225-1v-14h248l11-13-157 1-103-3v-94l101-1-5-5 8-4h-104v-100h48l-3-5-45-1 1-11 44 2 3-17h-48v-94l73 1 6-8 9-3-88-2v-98l159-1 7-3-7-3h-158v-16h144l15-9-159-1-1-77h186l-19-3h-166l-1-11 213-1 38-4 15-7-21-3h-244l-1-25 787-1v26h-242l-23 3 17 7 38 4 211 1-1 11h-164l-17 3h182l-1 77-145 1 19 9 127 1-1 15h-132l-7 3 9 3 131 1-1 99-101 1 7 5 16 4 79 1v94l-62 2 11 13 51 1-1 11-57 1 9 3 49 1v100l-92 2 21 7 71 1v94l-168 2 9 13h158v14l-119 1 119 1 1 75-187 1-13 15 23-5 176 2 1 13-215 1-5 7 219-1zM536 73l-21-15-34-16-58-14h-58l-40 8-44 18-25 17 41-13-10-4 28-8 52-8h54l32 4 50 12-12 4zM468 71l-51-13h-46l-24 4-25 9 49-9h46zM238 87l10-4-5-1zM556 89l-9-7-5 1zM502 89l-7-5-3 1zM203 184l9-21-6-4 12-22-8-6 15-23-7 1-16 32-2 34zM613 184l-7-23-18-34-15-19h-6l19 23-1 3-7 1 10 16 10 8-6 4zM235 186l7-21-6-2 14-24-6-2 21-27-9 5-18 30-4 14zM571 184l-5-21-10-20-14-20-13-13h-4l23 25-4 4 18 24-4 2zM257 186l5-17-4-4 14-22-2-6 21-23-11 7-18 26-6 18zM543 182l1-5-12-28-18-24-15-11 23 25-4 2 20 24-4 2zM277 166l13-19 2-10 23-21-8 4-19 19-12 22zM523 186l-3-17-10-20-25-27-12-6 25 21 4 12 14 16v8zM293 170l5-11 10-10-2-4 31-25-16 8-21 21-8 16zM503 186l-1-15-12-22-25-23-14-6 33 25-4 2 18 20v8zM308 169l18-20-2-2 25-17 27-7-11-1-34 16-17 17zM484 171l-12-20-21-17-28-12-13 1 11 1 26 10 17 13-2 2zM466 173l-6-12-13-13-18-10-22-6h-28l-16 4-22 12-17 21 1 3 19-19-2-2 13-9 18-6 30-2 24 6 19 11-2 2zM448 175l-11-15-16-10-14-4h-26l-14 4-14 8-13 17 21-17 8-2v-4l16-4 34 4-2 4 16 6zM424 179l-5-7-14-8h-22l-10 4-9 9 19-9h20zM275 186l3-11-3-7zM291 188l2-16-3 1zM307 186l3-9-3-5zM485 186l1-9-3-3zM467 188v-12l-3 3zM323 186l2-8-3 1zM339 190l2-10-3 3zM449 190l1-7-5-3zM365 196l3-11-5-3-1 9zM421 196l3-5-1-9-5 3zM209 198l1-9-5-3zM620 199l-5-13-7 3zM239 198l1-7-3-1zM575 200l-1-9-3-1-1 3zM235 230l-12-16-1 3zM669 308l1-5-42-78-2-10-5-1 13 25-12 2 16 22-1 3-7 1 30 24-6 4zM581 238l-1-19-3-3-1 7zM434 271l71-3 18-4 15-15 8-28-4 2-4 22-11 1-18 14zM492 245l9-3 17-19-3-1-5 9zM462 241l15-5 13-11zM352 239l-19-11-3 1 19 11zM436 237l5 1 19-9zM376 233l-16-2 7 3zM422 231l-20 2 11 1zM332 307l-43-41-8-2-28-24-5 1zM613 294l-19-27-10-26-7 1-3 3 2 8 12 16-8 2zM344 289l-27-19-12-4-28-24-3 1 45 35 22 12zM432 273l-27-1-18 4h-20l-12-4h-14l-40-26-3 1 19 15 38 16 28 2zM320 249l19 11 34 8 62-6 51-13-11-1-24 8-46 8h-44l-20-6-16-10zM420 253h-64l9 3h42zM138 303l27-25 28-10 34 4 31 15-15-13-22-12h-56l-9 7-4 16-3 3-11 1zM276 273l-7-9-17 1 17 11zM488 293l-15-9-12-2-47 5 53-1zM276 301l-11-13-5 1zM242 303l-9-7-12-4-18 2-13 9 13-5h26zM497 308l3-3v-8l-9-1zM626 309l-11-13-7 1zM458 307l-9-5h-26l-9 3 33-1zM538 311l9-3 27 1-9-5h-16zM173 318l6-8-5 1zM260 317l-3-7-5 1zM132 317l-1-3-3 1 1 3zM378 323l8-4-3-1zM527 332l4-8-5 5zM185 396l16 8h16l14-6 11-9-4-2 6-6 6-18-6-4v-12l-7-13-9 1 10 8 4 8v16l-8 18-17 13h-12l-11-9-4-10 2-22 4-8 13-13 5-1-11-1-9 11-4 14-10 4v12l6 12-8 2zM161 412l-7-19v-32l7-25-5 3-4 24-6 2v18l4 6-6 2zM271 354l1-15-3-3zM121 414l-3-15v-38l4-20-5-1-1 25-10 2v14l6 8-6 8zM289 360l3-9-1-11zM295 414l15-15-2-4 20-20-4-4 23-25h-8l-5 5zM415 418l-31-63-7-9h-10l21 23-6 4 20 22-4 4zM471 416l7-17-6-2 8-24-6-2 4-16-1-9-3 1zM689 416l-1-55-4-14-7-1 7 25-9 1 1 11 10 14-7 1-1 3 6 12zM493 414l3-1 2-10-4-2 6-22-4-6 3-25-3 1-4 30zM649 420l1-49-7-23h-4l7 23-6 6v4l8 16-4 10zM515 422l3-17-4-2 6-20-4-10 6-16-3-7-7 29v30zM619 420l3-37-4-20-7-13-3 5 8 22-6 2 10 22-6 4zM247 410l17-19-2-2 10-20-3-13-5 23zM579 424l9-15v-30l-6-12-9-9-16-2-13 11-6 16 2 28 7 11 5-15-9-1-1-5 11-13 16-2 13 11 4 8-12 2zM263 414l15-17v-6l12-22-3-7-5 17zM297 384l7-1 6-10-1-3-7-1zM580 379l-31 1-1-3 11-9h8zM458 373l-1-3-47 1 11 13h30zM392 419l-10-16-15-15-8-4h-14l-19 15 13-7 18-2 21 11-4 2zM296 397l-7-1-1 3 5 1zM452 397h-26l7 3zM310 415l18-12-5-1zM362 419l-13-5-11 3zM174 427l-11-11-5 1 7 7zM228 425l14-8-3-1zM128 429l-5-11-5 3zM255 426l5-5-1-3zM421 432l1-3-5-5-1 3zM471 432l2-8-3 1zM685 432l3-3-1-5-5 1zM645 436l2-8-3 1zM613 436l2-6-3 1zM156 461l-11-7-6-8-5 1 19 15zM421 474l5-9 1-15-3 1zM572 525l-33-21h-8l-30-26h-6l-21-27 10 18 25 23 30 20 24 12zM625 528l16-8 23-25 14-28 3-17-5 3-6 24-12 2-11 25h-12l-3 3zM401 474l3-9-1-11-3 1zM638 457l-1-3-3 1-6 14-9 11h-10l-18 12-26 2-14-4-16-10h-8l-23-25 10 16 15 13 22 12 14 4h26l18-8 17-15zM276 507l2 6 13 11h28l30-12 14-10 15-17-5-1-24 26h-6l-26 12h-20l-7-5-3-7-7-1 6-24-4-2 15-27-17 27zM381 478l3-5-1-17zM600 457l-5-1-20 12h-16l-22-12-3 1 7 7 20 8 20-2zM306 499l9 5h10l20-8 17-21v-14h-6l2 16-5 9h-8l-12 8-10 2-10-10-7-1 6-16 8-8-5-1-7 9-6 16zM72 479l-5-5-9 1zM217 528l19-23-4-2 18-24-3-3-21 29zM376 517l15-9 29-31-7 1-11 17zM253 528l7-19-4-6 12-22-3-3-13 27-2 14zM352 521l27-17 19-23-5-1-7 13zM500 521l-19-15-20-8-22 2-31 19 29-13 24-2zM214 503l-29-3-4 6-7 3 27 1zM398 509l7 1 15-9-15 1zM516 509l-5-7-19-1 15 9zM412 527l14-4-5-1zM492 531l-11-9-7 1zM390 529l8-4-3-1zM520 535l-11-11-5 1zM215 544l8-14-7 1zM276 543l-5-1-8-8-7-1 9 9zM236 569l-7-3-8-10-3 1 5 7 10 6zM523 592l-1-11-7-9zM315 600l22-26-21 21zM537 646l13-17-4-4 6-18-6-6-4-18-7-9 9 23v30zM279 648l3-23 8-18 25-29-17 15-7 11h-6l-5 7v18l-6 2zM567 648l13-15-6-6 8-12v-6l-3-5-7-1-2-14-9-11 11 35zM389 640l-13-17v-16l17-25-17 15-4 18-4 2 4 8zM390 615l15 13 22 2 14-4 13-11-4-2 4-14-7-11h-8l9 13-4 14-13 9-14 2-10-4-7-11 4-12 14-10-9-1-11 11-2 14zM477 640l15-17-2-4 4-6v-18l-5-7 1 27zM453 638l23-19v-26l-3-3-3 1v26zM365 642l-7-13v-20l8-14-1-3-9 13v14l-4 2 6 14zM495 642l15-17-2-6 4-8v-14l-5-5-1 29zM515 644l13-17-2-6 4-8v-14l-5-5-1 29zM325 644l-1-27 9-21-9 9-2 18-4 4zM343 640l-3-21 7-23-7 9-4 18zM305 646l-1-17 9-27-7 3-4 10 2 12-4 2v6zM242 633l-7-1-1 3 5 1zM646 633l-15-1-1 3 11 1zM448 643l-3-3-14 6h-26l-12-6-3 3 11 5 16 2 18-2zM382 655l-9-7-7-1zM452 655l3 1 15-9-3-1zM354 655l-5-7-3 1zM480 657l12-8-3-1zM333 658l-4-8-1 3zM501 662l11-9-1-3zM313 664l-3-9-3-1zM283 664l1-3-5-5zM558 663l10-6-5-1zM336 689l-9-9-3 1zM548 685l-3-3-20 20-18 12-34 16-36 8h-44l-40-10-24-12-14-10-22-24-3 1 15 17 13 9-9 3 32 18 20 4-14 4 50 8h36l52-8-14-4 16-2 40-20-11-3zM478 699l3 1 11-7zM474 707l-9-3-16 6-30 4-28-2-24-8-9 3 19 7 24 4 42-2z"/><path fill="#808086" d="M788 785l-787 1v-34l262-2 20 4-5-7 14-8-25-1-5-7v-10l-5-9-257-1 1-69 236 2 1-5 8-6-245 1v-8l242 2 23-21-163 1-103-3 1-15 166 2 13-9-25-3h-154v-48h186l7-3-194-2 1-11 120 2-10-4v-4l16-2 19-7-57-1-13-13-1-13-75-1v-66l47 1 4-8 15-5h-66l1-5 44 2 2-6 8-2 5-5 4-10h-64v-72l63 1 7-7-69-1-1-9 69 1 6-6 26-6 13-7h-32l25-27-106 2-1-51 150-2-149-1-1-13 159 1 10-2 9-7-1-3-18-2-159-1 159-1 12-4 9-17-5-3h-174l-1-69 207-1 31-7-71-3h-166l-1-5 229-1 40-8 21-9-45-3h-244l-1-17 283 1 60-10h102l60 10 282-2v18h-242l-47 3 29 11 34 6 227 1-1 5h-164l-71 3 33 7 203 1-1 69h-164l-3 3 15 17 16 4 137 1-133 1-23 3 11 7 18 4 127-1-1 13-93 1 93 1v52l-113 1 13 13 18 8 83-1-1 5h-106l-5 3 23 13 89 1-1 9h-76l-11 3 7 3 81 1-1 73-75 1 2 10 13 9 61 1-1 5-73 1 13 9 61 1v68l-83 1-3 5v16l3 3 83 1-104 2 5 9 10 4h88l1 11-108 2 9 3h98l1 47-186 2 17 21v-12h168v16h-178l-1 3 9 9 8 2 4 8 158-2v8l-167-1 9 3 2 8 156-2 1 69-201 1-7 17 2 4-7 5-29 1 17 7-2 6h226zM233 570h34l50-18 66-38 35-33 10-24-2-16-52-106 4-10 11-9 24-10 34-2 12 4 11 11 4 12v30l-4 28 2 60 12 20 33 29 46 26 28 8h22l28-12 17-17 14-22 10-26 8-40v-40l-12-52-16-36-34-62-22-64-18-34-18-24-19-19-36-26-34-16-44-12h-86l-44 12-36 18-20 14-29 29-18 32-4 16v24l10 26 25 29 84 66 25 29-2 16-52 80-52 66-20 34-4 26 8 16zM631 504l-16 2-16 12h-18l-14-4-14-8-14-2-32-26h-6l-9-11-6-14-8-2-2-12 4-12-4-2v-6l6-16-4-6 6-14v-10l-4-2 4-24-4-2v-24l-6-2-7-17-10-6-24-2-38 10-16 10-4 6h-26l-5-11-15-15h-6l-26-26h-6l-32-28-8-2-20-24h-6l-5-5v-20l-8-2 8-22-6-4 12-22-6-6 18-24-8-2 15-15 17-9-7-3 32-14 32-8-11-3 17-5 38-6h62l54 10-10 4 14 2 52 20-7 3 23 13 11 11-8 2 22 26-8 2 20 24-6 2 22 24-8 2 22 24-12 2 14 24-12 2 18 26-8 2 31 23-7 3 28 24-10 2 6 6 8 18-8 2 6 24-6 4v8l8 12v4l-6 2 10 20-1 5-7 1 6 12v10l-12 4-6 24-11 1zM615 488l19-23 12-28 4-18v-48l-8-30-10-22-34-46-12-22-10-54-10-34-24-40-23-23-30-20-34-14-38-8h-46l-38 8-40 18-22 16-25 29-12 30v26l18 36 49 45 28 18 24 10h34l38-8h42l18 6 11 11 4 16-8 60v34l4 26 10 22 13 15 16 12 30 12h26zM607 480l-24 6h-22l-20-4-14-8-11-15-10-6-4-10v-14l-4-2 4-20-4-8 6-16-4-12 6-20-4-4v-6l6-18-6-2 8-24-9-1-1-5-9-9-12-4h-40l-50 10-40-2-26-16h-6l-32-26-8-2-29-31-2-20-6-2 6-24-4-2 14-24-4-4 20-22-5-3 24-18 12-4 2-6 16-6 50-10h46l36 6 32 10-2 4 22 10 19 15-6 2 24 24-6 2 18 22-4 4 18 24-6 2 12 22-6 4 4 26-10 2 4 14 8 10-12 2 41 23-7 3 32 24-6 2 14 22-6 6 8 18v6l-6 2 10 24-6 2 6 24-6 2 2 12-4 12-7 1-9 15zM266 213l29 33 22 16 30 14 36 4 50-8 72-4 18-4 11-9 8-14 6-40-4-24-12-28-18-24-17-15-30-18-28-10-20-4h-50l-20 4-36 14-30 22-13 15-14 32v22zM270 215l-4-8v-12l-4-2v-14l4-8-4-4 14-22-2-6 24-24-2-2 5-5 26-14 18-4-2-4 40-6h22l40 6-2 4 18 4 32 18-3 3 15 11 11 13-2 4 18 22-2 6 12 20-4 4 4 10v14l-6 2-4 16-7 9h-10l-16 10-86 16-42 2-26-4-24-12-12-10-8-2zM339 260l20 6 30 2 76-12 30-10 21-19 8-20v-24l-14-34-25-27-36-20-30-8h-52l-28 8-24 12-31 31-10 24v22l14 30 23 23zM516 219l-7 3-20 20-20 8h-14l-18 6-38 6-42-2-34-12-35-31-6-20-4-2 4-20-2-6 16-24-4-2 37-33 28-10 26-4 48 4 36 14 2 6 16 10 13 13-4 2 20 24-4 2 10 20v4l-4 2zM498 217l6-14v-24l-10-24-29-29-36-16-22-4h-26l-34 8-26 14-21 21-10 24 2 26 14 24 29 23 30 10h42l40-8 30-12zM492 219l-7 7h-6l-6 6-34 14-28 6h-48l-30-12-27-21-8-20-4-2 4-20-2-6 18-24-2-2 19-17 16-6-2-4 30-8 48 2 20 6-2 4 28 14 25 31v8l8 22-4 2v8zM486 199v-22l-14-26-21-17-38-14h-40l-20 6-22 12-17 17-8 18v22l10 20 21 19 34 12h34l46-12 22-14zM482 201l-4 2-4 10-17 15h-8l-16 8-26 6h-36l-20-6-12-8h-6l-15-15-4-10-4-2v-16l4-8-4-2 12-18 8-6-2-2 25-17 34-8 28 2 20 6 27 17-4 2 16 14 6 10-2 6 4 8zM464 205l4-8v-20l-4-10-17-19-30-14-38-2-16 4-22 12-11 11-8 16v20l8 16 17 15 20 8 32 2 22-4 28-12zM462 203l-5 1-14 16-24 10h-56l-24-14-11-13-2-16 4-8-4-2 6-10 17-13 2-6 28-10h28l26 8 29 29zM448 195l2-12-10-20-15-11-18-6h-26l-22 8-13 11-8 18 4 18 15 15 24 8h20l22-6 14-8zM442 199l-5 7-20 10-14 4h-24l-31-15v-22l-4-4 9-11 30-16h22l6 6 18 6 13 13zM422 195l2-16-5-7-14-8-28 2-15 15 2 14 9 9 12 4 22-2zM416 183l-10 2 4 4v6l-11 9-18-2-5-5 2-12-8-2 13-9h20zM258 259l-25-21-27 1 39 21zM74 263l-73 1-1-5 65-3zM145 480l28 4 32-10-6-4 20-8 19-15-2-2 28-24-2-2 20-22-2-4 14-22-2-8 6-22-4-2-2-24-6-2-6-16-7-9h-6l-32-26h-16l-18-6h-24l-14 6h-24l-5 5 2 20-14 2 4 24-10 2v24l-12 2v24l-12 4 2 14 8 10-10 2 22 24-10 2 24 20 2 4-9 1 1 5 17 15 11 5-18 2zM286 281l-2-6-15-11h-20v-4l-5 3 27 13 6 6zM169 466l-24-12-21-31-6-24v-38l4-20 8-22 12-20 23-21 28-10 34 4 32 16 23 23 8 20-2 30-18 42-14 20-19 19-32 20-12 4zM175 436l22 4 14-2 20-8 12-8 3-7 22-22-2-4 8-12 4-12-4-2 2-24-4-2-4-20-23-23-14-8-44 2-7 7-6 14-12 4v12l-6 12-8 2-4 24-8 2 2 18 4 6-6 4 18 22-4 4 9 9zM304 295l-5-5-11 1 7 7zM185 434l-21-17-8-16-2-40 4-16 14-26 17-15 14-6 32 2 20 12 11 15 4 28-6 24-10 20-21 23-22 12zM573 472l22-10 17-21 8-22 2-36-6-26-18-30-17-15-16-8h-16l-8 4-9 11-14 30-6 30v30l4 20 10 20 15 15 12 6zM587 458l-48-2-9-11-4-14-4-2 2-24-4-2v-6l6-14-4-10 8-20-6-2 18-24-6-4 13-7h22l16 6-5 5 22 22-6 4 12 24-8 2 10 20v4l-6 2 4 10v14l-6 2v10l-8 12zM191 408l26 2 18-8 15-13-4-2 6-8 4-16-4-2v-20l-5-7h-8l-12-8h-14l-12 8h-10l-5 5-6 14v8l-8 2v20l4 4-6 4zM205 398l-11-9-4-10 2-22 17-21 18-2 11 9 4 8-2 22-13 19-10 6zM50 349l-1-7-11 1 9 7zM567 432l15-11 6-12 2-20-8-22-13-11h-12l-15 15-4 12v20l6 16 11 11zM225 556l7-21-6-6 14-20-2-6 16-22-2-4 18-22v-6l20-22v-4l22-22-2-2 26-24-4-4 7-7 12-6h10l8 4 9 9-4 4 22 22-2 4 20 24-4 2 12 18-8 32-8 4-17 23-6 2-20 18-60 32-30 6h-22l-16-6zM295 390h6l5-5 7-15-13-1-6 16zM462 379l-1-9-55 1 4 10 11 9h34zM265 542l34 2 26-8 44-24 27-27 8-20-2-22-16-34-19-21-8-4h-14l-8 4-27 27-42 56-12 22-6 22 6 20zM282 407l9-1 9-9-11-1zM267 534l-5-9 4-16-6-2 12-24-2-6 16-22-2-2 29-35 25-15-5-3 12-4h12l10 4-5 3 11 5 19 19-4 2 10 14 2 10-4 2-2 24-27 29h-4l-24 18-16 8-28 4zM460 397h-42l13 9h18zM568 407h-10l3-3zM287 522l12 4 28-4 22-10 25-21 10-18v-22l-8-18-15-15-14-4-16 6-35 35-16 28-4 14 2 16zM289 510l-1-15 4-10-4-2v-4l20-34 19-13-2-4 14-6h14l14 6-5 3 14 12 4 8v6l-4 2 2 10-4 12-33 29h-8l-14 6h-14l-8-6zM307 500l8 4 18-2 12-6 13-13 4-8v-16l-11-13-14-2-12 6-11 11-12 24zM317 486l-1-7 4-8 14-10-9-1 2-4 8-4h12l7 7-12 2 8 8v6l-7 11zM148 517l57-3 13-11-24-2 21-1 23-23-15-3-14 14-18 12h-30l-1 3 6 8zM528 515l-13-13h-18l9-3-29-23h-44l-23 23 5 3h-12l-13 11 1 3h6l24-14-1-3 29-15h10l28 12 2 6 28 14zM325 738l26 8 40 6h50l64-12 5-3-11-3 24-8 21-15-12-2 28-24-7-1-1-3 24-22-6-4 20-22-6-6 8-12v-8l-10-4-8-22-9-3-20-26h-4l-24-26-8-2-26-22-18-4-34 2-34 24-12 4-25 19 71-39 14-4h16l14 4 46 28 23 21 18 24 10 32-6 36-16 28-25 25-18 12-34 16-36 8h-44l-40-10-30-16-25-23-14-24-4-16 2-24 12-24 25-25 33-23-3-1-32 24-8 2-26 26h-4l-7 9v16l-6 4 2 10 8 12-6 4 18 24-8 2 24 24-12 2 27 19 16 4zM349 710l30 10 30 4 32-2 42-12-6-4 16-6 27-19-6-2 28-24-4-2 18-24-4-4 6-18-8-10-4-18-10-8-12-18-9-5-24-24-12-2-16-8h-24l-24 8-36 22-2 4 22-14 34-14h34l26 12 16 12 25 29 10 24v30l-4 12-14 24-19 19-14 10-36 16-38 6-28-2-28-8-26-14-21-21-6-10-6-22 2-18 12-24 25-25 28-18 2-4-6 2-45 33-10 14-10 8-4 8v14l-4 2 4 16 6 8-4 4 22 22-6 2 21 17 18 8zM347 680l36 16 28 4 44-6 32-14-3-3 21-13 27-35-2-6 4-6v-16l-4-4-8-24-6-2-19-25-32-18-26-2-40 16-2 4 20-10 28-6 24 4 16 8 25 23 10 16 4 12v30l-14 28-31 27-16 8-30 8-46-2-26-10-27-23-10-22v-20l4-12 14-20 21-19 30-18-4-2-34 26h-4l-29 29-4 8v16l-4 4 4 12 8 10-4 2 28 24zM364 531l5 3 7-5-9-1zM554 531l-1-3-17 1 3 3zM347 656l22 14 9 1-19-11-13-15-6-18 2-18 10-18 19-19 36-22 18-6 24-2 28 10 17 15 8 12 6 20-2 22-12 22-15 15-20 12-28 8h-30l-20-6-3 3 3 3 16 4h38l16-4 4-6 26-10 15-11v-4l16-18 4-32-4-2-8-22-29-27-24-6-38 4-50 30-17 21-6 2-6 14-2 18zM361 648l20 12 24 6h22l26-6 24-12-3-3 24-24-4-2 4-6v-18l-4-2-8-20-25-17-12-4h-20l-14 4-4 4 22-6 20 2 14 6 13 11 10 20v22l-6 14-21 21-30 12h-32l-14-4-16-10-13-19v-20l8-16 30-26-5-1-12 8-23 23-4 8-4 18 4 10 12 12zM398 565l10-4-3-1zM385 646l18 6h30l18-6v-4l18-10 11-13v-28l-6-2-4-10-9-9-14-6h-24l-24 10-18 16-5 1-8 16v10l-4 2 4 8 13 13 7 3zM385 636l-9-13v-16l6-12 21-19 22-8h18l14 6 11 11 4 10v16l-10 18-11 9-20 8h-26zM256 591l17-1-6 10 23-19-23 1zM462 615l-4-2v-22l-25-11-32 8-9 9-4 16-4 2 11 13 14 6h20l14-4zM402 617l-2-10 4-8 15-11h18l7 5 4 8-4 14-13 9-14 2zM304 767l-3-3-39 1zM534 767l52-2-47-1z"/><path fill="#b4b4b8" d="M788 579l-195 1 27 25-27 1-9-25-3-3h-8l-17-23-9-3-21-23 9 1 16 10h20l1-3-15-9h-24l-18-4-8-10 14 4 6 6 17-1-25-21h-6l-30-26h-56l-32 32-3-1 26-26 10-24-6-28-48-94 7-13 20-12 22-6h24l12 4 11 11 4 12-4 110 8 20 21 23 40 28 42 18 32 2 14-4 14-8 23-25 14-28 8-28 4-24v-40l-8-40-12-32-42-78-22-64-18-34-18-24-31-29-24-16-34-16-58-14h-58l-58 14-48 26-37 35-20 38-2 34 14 32 35 35 70 54 25 29-2 16-28 44-88 120-10 22-2 20 8 16 7 5 12 4h16l60-20 48-26 24-18 3 1-15 15h8l16-10 3 1-15 11h-8l-2 4-14-2-12 8-2 4h8l16-10 3 1-29 21-8 2-32 24h-6l-28 28-13-1 33-25-42 2-20 6h-10l-14-6-54-2h-154v-42l186 2 13-9-1-3h-198l-1-5 197 1 8-4 17-17-2-2 20-24-32-4 29-19 7-7-2-2 26-24-2-2 15-17-1 9 5 3 11-9 4-10 14-18v-8l12-24-17-3-5 25h-8l6-18v-6l-4-4v-24l-6-2-8-18 3-1 12 8 15 1-7-11-34-4-8-10 20 10 13-1-21-21-10-4-30-24h-236v-46l182 2 5-5-1-3-186-2-1-5 177-1 11-17-10-2 12-24-18-4 22-24-193-1v-22h204l7-3-211-1-1-11 221-1 33-13-25-3h12l34-12 44-10-26-4 36-10 42-6 64 2 54 12 6 4-26 2 44 10 34 12h12l-23 3 33 13h218v12l-207 1 7 3 201 1-1 21-187 1 19 19 9 5-20 4 10 14 12 10-10 2 19 15 149 3-1 5-149 3 13 7 137-1-1 45-129 1 18 26-14 2 27 19 99 1-1 3h-76l-25 3 7 7 10 4 85-1-1 13-45 1 45 1v26h-80l-1 5 8 20-12 2 2 12 10 12-8 6 9 11 73 1-1 9-74 2 8 6 66-2 1 19-77 3 1 11 5 5h12l20-8h38l1 17-95 1-9 25-12 2 2 14 11 7 102-2 1 5-123 1-7 5 5 5 8 2 116-2zM613 506h-58l-30-18-8-8-8-2-17-25-6-2v-24l-4-2 6-24-4-2 6-24-4-2v-52l-4-2-4-18-7-7h-66l-28 10h-22l-16-10h-8l-25-23 3-1 20 14 24 10h34l38-8h42l18 6 11 11 4 16-8 60v34l4 26 10 22 23 23 28 14 34 2 18-8 17-15 16-28 8-30v-48l-8-30-10-22-34-46-12-22-10-54-10-34-24-40-23-23-30-20-22-10-36-10h-74l-30 8-34 16-22 16-25 29-12 30v26l18 36 31 31 23 17-3 1-14-8-22-20h-6l-21-25-12-8-2-20-6-2 8-22-6-4 14-24-6-4 16-22-6-2 17-17 18-8-6-4 42-16 30-6-8-4 44-6h34l44 6-8 4 24 4 49 19-5 3 18 8 17 15-6 4 22 24-6 4 18 22-6 2 20 24-6 2 18 22-1 3-7 1 10 24-8 6 16 22-10 2 32 24-6 2 28 24-8 2 12 20v4l-5 1-1 5 8 22-7 1-1 3 10 22-6 2 8 24-6 2 4 14-2 10-10 2-8 24-11 3zM626 451l-9 5-20 22-8 4h-38l-12-6-20-20-7-3-4-10v-14l-4-2 4-24-4-2v-6l6-18-4-2 4-20-4-8 8-22-4-6 14-20-10-4 2-12-5-7-16-4h-36l-72 12h-26l-42-16-30-24h-4l-33-35-2-16-4-2 6-24-4-4 12-20v-10l20-20-6-2 23-17 16-6-2-4 58-14h50l40 8 18 6-2 4 20 8 20 14-5 3 22 20 2 12 14 18-2 4 14 22-4 4 10 22-1 3-7 1 2 24-8 2v20l4 4-18 4 51 21-2 6 31 21-4 4 14 22-4 8 8 20-6 2v6l8 16-6 4 6 24-6 2 2 12zM266 213l29 33 22 16 30 14 36 4 50-8 72-4 18-4 11-9 8-14 6-40-4-24-12-28-18-24-17-15-30-18-28-10-20-4h-50l-20 4-36 14-30 22-13 15-14 32v22zM305 246l-33-35-2-16-4-2v-12l4-10-2-6 14-22-4-2 26-26-1-3 30-16 28-6-2-4h70l-4 4 18 2 40 18 3 7 22 18 4 6-2 4 18 22-4 2 12 22-4 4 4 10v14l-8 4-4 12-9 11-50 14-60 10-36 2-30-8zM339 260l20 6 30 2 76-12 30-10 21-19 8-20v-24l-14-34-25-27-36-20-30-8h-52l-28 8-24 12-31 31-10 24v22l14 30 23 23zM292 217l-6-20-4-2v-8l4-12-2-6 14-20v-6l17-17 12-6-2-4 30-12 20-4h38l20 4 30 12-2 4 10 4 21 19v6l16 18-2 4 10 22-4 4-2 22-23 19-28 12h-16l-32 8-36 2-42-10-16-10zM498 217l6-14v-24l-10-24-29-29-36-16-22-4h-26l-34 8-26 14-21 21-10 24 2 26 14 24 29 23 30 10h42l40-8 30-12zM488 217l-9 9h-6l-36 18-30 6h-40l-32-12-25-19-8-18-4-2v-14l4-10-2-4 16-22-2-2 9-9 32-16v-4l32-6 30 2 16 4v4l24 10 19 15-5 3-20-16-38-14h-40l-20 6-22 12-17 17-6 12-2 28 10 20 21 19 34 12h34l46-12 22-14 13-21v-22l-8-18-6-6 1-3 19 21-2 6 6 12v10l-4 2zM152 131l-151 1-1-7 99-1 42 2zM788 125l-1 7-137-1 11-5zM478 201l-5 1-1 7-15 15-8 4h-8l-28 10-36 2-38-12-15-13-6-12-4-2v-16l4-8-4-2 20-24-2-2 25-15 22-6h30l22 6 25 15-2 2 12 10 10 14-4 2 4 6zM464 205l4-8v-20l-4-10-17-19-30-14-38-2-16 4-22 12-11 11-8 16v20l8 16 17 15 20 8 32 2 22-4 28-12zM458 201l-19 17-12 6-22 6h-30l-22-8-21-19-2-26 25-27 8-4 30-6 18 2 18 6 27 25zM448 195l2-12-10-20-15-11-18-6h-26l-22 8-13 11-8 18 4 18 15 15 24 8h20l22-6 14-8zM436 197l-7 11h-8l-18 8h-24l-25-11-4-10v-16l13-13 14-6h32l18 8 9 9zM422 195l2-16-5-7-14-8-28 2-15 15 2 14 9 9 12 4 22-2zM200 215l-1-3-11 1 5 3zM692 213h-30l5 3h18zM94 263l29-15 32-8 42 2 49 19-11 1-32-14-32-4-16 4-20 14zM169 466l-24-12-21-31-6-24v-38l4-20 8-22 12-20 23-21 28-10 34 4 32 16 23 23 8 20-2 30-18 42-14 20-19 19-32 20-12 4zM118 285l-1 3-20 2-31-1 3-5 40-8h4zM183 452l28-4 5-3-7-3 10-2 33-21-2-2 22-24-2-4 12-22-4-4 4-24-4-2-4-22-7-3-9-15-13-11h-12l-14-6h-22l-10 6h-16l-7 13-2 12-10 2-4 24-10 2-2 24-8 4v14l6 10-8 2 20 24-8 2 15 13 22 10-10 4zM62 289l-61 1-1-3 49-1zM112 313l-12 2 4 8-2 16-3 3-11 1 1 25h-40l-1-11 13-15-61-1 1-23h42l13 3-1-5h-54v-14h46l12 4 8-8 36-6zM185 434l-21-17-8-16-2-40 4-16 14-26 17-15 14-6 32 2 20 12 11 15 4 28-6 24-10 20-21 23-22 12zM573 472l22-10 17-21 8-22 2-36-6-26-18-30-17-15-16-8h-16l-8 4-9 11-14 30-6 30v30l4 20 10 20 15 15 12 6zM187 420l24 2 14-4v-6l10-4 19-17-2-4 10-20v-4l-4-2v-24l-7-1-9-15-13-11-24 2-20 24-9 1-6 24-8 4 4 20-4 6 15 17 9 5-4 4zM308 319l8-2-7-1zM574 325h-26l9-3zM569 458h-8l-14-6-11-11v-6l-8-4 2-24-6-2 10-24-5-1-1-5 10-20-6-4 13-15 16-6 22 8 13 13-8 2 14 24-8 4 12 22-6 4 2 24-8 2v8l-11 11zM205 398l-11-9-4-10 2-22 17-21 18-2 11 9 4 8-2 22-13 19-10 6zM455 412l9-13-4-2 6-16v-10l-4-2 2-24-23-3-46 2 3 13 8 12-6 4 18 22-4 4 19 15zM567 432l15-11 6-12 2-20-8-22-13-11h-12l-15 15-4 12v20l6 16 11 11zM224 365l-1-5-13 1 3 9h6zM368 373h-28l9-5h10zM245 558l-5-11 2-14-8-2 14-24-4-4 14-22-2-4 18-22v-6l20-22-2-2 26-24-4-2 33-23h12l18 10 13 13v6l18 20-4 2 10 14 2 10-4 2-2 22-8 6-19 25h-4l-30 24-10 2-52 26zM265 542l34 2 26-8 44-24 27-27 8-20-2-22-16-34-19-21-8-4h-14l-8 4-27 27-42 56-12 22-6 22 6 20zM46 395l29-9h6l7 7zM289 396l-5-3 5-7zM128 473l-59 1-14-26h-54v-20h40l10 4-1-7 10-2-59-1-1-9 35-1 12 4 4-8 30-6 19 17-12 2 28 24-14 2zM279 534l-9-15 2-10-6-2 10-22-2-6 14-20 4-12 18-18-2-2 23-17 12-4h14l16 8 13 13-4 2 10 12 4 12-4 4v14l-4 10-25 27-7-1 22-22 6-12v-22l-8-18-15-15-12-4-10 2-14 8-29 31-16 28-4 24 11 15 12 4 28-4 26-14 3 1-17 13-28 12zM270 427l5 3 5-7-7-1zM454 425h-18l7 3zM299 510l-3-5v-20l-4-2 14-22-2-4 19-19 12-4-5-3 5-3 24 2-5 3 16 10 6 14-4 2v14l-4 10-5 1-10 12-20 14zM307 500l8 4 18-2 12-6 13-13 4-8v-16l-11-13-14-2-12 6-11 11-12 24zM245 466l15-15-3-3h-6l-5 5 2 6zM66 473l-65 1-1-15 41-3zM194 487l-15 13-61-1 4-2-2-8 3-3 26 8h20zM486 499l-7 1-18-8h-14l-18 8-5-1 21-9h18zM329 716l-31-27-14-24-4-16 4-30 10-18 25-25 80-52 46-20h16l14 4 46 28 23 21 18 24 10 32-6 36-16 28-25 25-18 12-34 16-36 8-56-2-28-8zM335 710l28 12 48 8 42-4 44-16-7-3 21-11 15-13-4-2 26-24-2-6 16-20-4-4 6-12v-12l-6-2-8-24-5-1-17-25-5-1-26-26h-6l-20-12-22-4-16 4-22 12h-6l-34 24-8 2-30 24-10 4-29 31-2 18-4 4 2 10 8 12-4 4 20 22-4 4 11 11 21 13zM337 690l-21-21-6-10-6-22 2-18 12-24 25-25 42-28 48-22h34l32 16 25 23 10 14 10 24v30l-4 12-14 24-33 29-36 16-46 6-30-4zM339 680l24 14 42 10 36-2 28-8 27-15-4-2 32-24-4-2 18-24-4-2 6-12v-12l-6-2-6-24-10-8-15-21-8-2-16-14-22-8-24 2-48 22-40 28-17 17-4 8-6 2-4 8v16l-4 2v6l10 18-4 2 26 24zM361 682l-12-8-19-21-6-16v-20l10-22 29-29 44-26 38-10 24 4 16 8 25 23 14 28v30l-14 28-19 19-28 16-30 8h-34zM371 678l26 8h38l28-8-2-4 32-16 9-7-4-2 20-22-2-6 4-6v-16l-4-4-6-20-29-29-34-10-40 8-38 26h-4l-31 31-6 28 12 20-2 2 13 13 22 10zM359 660l-15-19-4-14 2-18 10-18 19-19 24-16 30-12h34l26 14 17 21 6 20v12l-6 20-8 12-27 23-36 12h-30l-22-6zM363 654l14 8 20 6h38l22-6 20-10 5-5-2-2 16-14 6-10v-26l-4-2-6-18-5-7h-4l-18-14-16-6-26 2-40 18-31 29-8 24 6 16zM371 648l-13-19v-20l8-16 31-27 24-10 24-2 22 8 17 17 6 14v22l-12 22-15 13-30 12h-32l-14-4zM381 648l26 8h20l32-10-1-3 26-22-2-6 4-18-6-6-6-14-17-13-16-2-28 2-20 10-18 18-5 1-6 12v12l-4 2 6 12 14 12-2 2zM385 636l-9-13v-16l6-12 21-19 22-8h18l14 6 11 11 4 10v16l-10 18-11 9-20 8h-26zM401 636l30 2 26-12 9-9-4-2 4-8-2-16-23-15h-20l-14 6-6 6h-6l-11 15v12l-4 4 7 9zM402 617l-2-10 4-8 15-11h18l7 5 4 8-4 14-13 9-14 2zM438 613h-30l9 5h10zM264 629l-1 3-21-1 15-9h4zM630 629l-1 3-35-1 7-9zM288 709l-9 3h-30l-11-19 1-7h-238v-22l232 2v-6h-232l-1-11 235 1 2-6 20-6 11 19-7 1-1 3 18 22-9 1-1 3zM550 709l26-24-12-2 11-13 15-11-10-2 21-19 28 6 2 6 157-1-1 11h-158l-3 3 1 3 160-2v22h-172l-3 11-11 15h-40zM238 711l-237 1-1-5 233-1zM788 707l-1 5-173-1 9-5zM316 737h-42l17-5h14zM568 737h-50l13-5h18zM788 785l-787 1v-12l288-2 30 4-6-6 27-5-339 1-1-7 291 1-5-5 25-7h22l30 8 64 4 42-4 32-8h26l26 6-4 6 238-2 1 7-291-1 28 6-6 6 34-4 234 2z"/><path fill="#ededed" d="M452 27h-116l57-7 34 2zM264 53l35-11 7 1-23 11zM524 53l-15 3-27-13 7-1zM440 57l-15 3h-62l-15-3 15-3h62zM274 59l-23 15-29 29-17 31-11-1 16-24-11-3-199-1 1-15h164l14 2 8 8h10l10-8 25-11-231-1v-6h172l18 4h28l38-16zM516 59l11 1 44 18h28l20-4h168v6l-229 1 39 19h10l8-8 14-2h158l1 15-195 1-9 3 20 24-13 1-21-31-31-29zM238 135l18-24-6-2 19-17 14-6-4-4 42-16 25-3-19 5-34 16-37 31-13 21zM556 135l-5 1-32-36-20-14-32-16-27-7 27 3 44 16-5 3 23 13 11 11-6 2zM510 119l-3 1-10-10-30-18-48-14-62 2-44 16-28 22-3-1 4-4-4-2 21-15 22-8-3-3 45-11h54l44 10-2 4 10 2 34 20-3 3zM482 115l-5 3-28-16-46-10-36 2-28 8-28 16-5-3 27-15 18-6 38-6 48 6 18 6zM456 117l-5 3-22-10-22-4-40 2-30 12-5-3 39-13h46zM428 123l-15-3h-40l-12 4-1-3 17-5h34l16 4zM263 140l16-20 1 3-12 16zM289 138l-1-3 13-11zM529 140l-5-1-10-12 1-3zM505 142l-12-14 13 11zM303 146l-1-3 13-11zM285 142l2-4 1 3zM485 144l-2-4 3 1zM614 159l-9 1-5-11zM193 160l6-10 1 9zM233 164l-3-3 5-9zM567 164l-5-7 1-3 7 7zM543 166l-5-3-1-7zM255 166l2-8 1 5zM273 168l2-8 1 7zM521 168l-3-1-1-7 5 5zM505 172l-5-3-1-7zM246 239l-9-1-26-26h-210l-1-11 173-1 22 4 3-3 2-14-12-2 11-21 3 19 8 18 12 16zM289 172l2-8 1 7zM339 182l-5-3 11-15zM305 174l2-8 1 5zM469 176l-3-1-1-9 5 7zM485 176l-2-10 5 7zM608 167l26 18-11 1 4 6 20 12h20l18-4h102l1 11-149 1 15 25-1 3-13 1 18 24-9 1-21-41zM271 242h-4l-22-26-7-1-4-8v-16l-6-4 5-19 1 17 12 28zM353 230h-6l-12-8-17-21v-26l5-7 1 33 6 10zM432 181l-4 2 2 12-9 13-20 4-38-4-7-13 4-12-6-2 11-11 6-2-9 13v10l11 13 12 4 22-2 15-11 2-16-9-11 12 6zM585 246l-16-78 13 17v4l-4 2 16 22-1 3-7 1 8 24-7 1zM449 182l-2-12 7 9zM291 244l-33-33-2-18-4-2 3-19 5 29 10 18zM541 246l7-35-5-39 11 17-4 6 6 10 2 12-6 2-2 24zM287 222l-11-11-2-16-4-2 3-19 1 17 14 28zM491 248l25-21 6-12 1-41 9 19-4 2 2 22-8 6-6 12-9 9zM305 224l-9-7-6-18-4-2 3-21 3 23 14 22zM325 226h-4l-7-7-8-18-4-2 3-23 3 25zM429 230l20-10 15-15 4-8 1-19 3 7v16l-25 25-8 4zM467 226l9-9 10-18 1-21 5 21-4 2-4 14-11 11zM467 242l16-10 15-15 6-14 1-25 7 19-4 2v12l-6 12-7 1-16 14zM454 197l-5 9h-4l-4 6-18 10-26 6h-14l-30-10-17-15-2-10 3-11 5 19 15 15 24 8h20l30-10 13-11 7-21zM198 235h-88l17-7 20-2 30 2zM307 242l-15-13 1-3zM448 247l13-5 5 1-11 5zM599 268l-5-1-8-16 1-5zM538 251l-13 21-75-1 67-5 12-6zM156 285l9-7 15-5-11 13zM254 285l-7 1-19-11 5-1zM656 277l3-1 20 14-11 3 31 21 88-6 1 7-99 3 17 25-16 2 8 26-9 1-11-49zM653 374l-5-5-2-16-8-22-16-28-18-22 1-3 20 14-5 5 26 22-4 4 12 22-6 4 6 18zM312 291l-5 1-5-7zM352 293l-13 1-11-9zM494 373h-4l4-24-4-2 4-24-6-4 2-14-7-11h-12l-16-6h-22l-24 6-21-1 37-7h42l18 6 11 11 4 16zM119 366l1-17 10-30 12-20 11-11-1 19-3 5-7 1-2 20-3 5-9 3-2 24zM624 375l-4 2-4-20-18-30-17-15-16-8h-16l-11 7-12 18-9 27-1-5-4-2 8-20-4-8 11-13 17-9-16-2 11-7 28 2 11 5-13 3 12 2 34 20-5 5 14 20-4 6zM285 366l-3-1 6-24-6-4-2-22-8-4-2-8-6-6 1-3 11 9 12 20 2 28zM321 372l-3-3 16-24-6-2 4-24-33-3-3-7 1-3h4l4 6 4-4 12 6 3-3-7-15 21 19 6 10-2 16zM270 341l-3 23-3-3 2-20-3-5-5-1-8-20-5-5h-14l-8-4h-10l-6 4h-18l-11 23-12 6-4 22-8 2 8-28 10-16 11-11 20-10h26l18 8 11 9 8 12zM472 371h-4l4-26-8-2-3-25h-62l-7 15 2 10-10 2 14 24-1 3-7-3-14-26-2-10 4-8 11-9 24-10 34-2 12 4 11 11 4 12zM96 315l-95 1-1-7 41-1 16 4 4-6h28l5 3zM86 341l-35 1 3-19 17-3 14 2 3 3zM321 344l-17-3 1-21 5 3 1 17 1-15 3-1 5 5zM48 341l-47 1-1-17 37-1zM788 325l-1 19-59-1 19-17zM458 343h-54l11-13 10-4h14l8 4zM242 367l-3-7h-10l-1-7-5-5h-8l-10 12h-12l-1-3 17-21 18-2 11 9 4 8zM592 379l-6-2-4-10-9-9-16-2-13 11-4 12-3 1 1-11 14-14-10-4 13-9h14l15 9-10 4 12 10zM513 378l-3-7 5-15zM199 386l-7-1-1-23 1 11zM227 386l10-12-3 11zM159 390l-5-1 1-11zM123 392l-5-1 1-9zM699 398l-9-1 1-13 9 11zM625 480l21-43 4-18 1-33 7 13-5 1-1 5 8 20-8 2 4 12-2 12-10 4-10 24zM411 398l-7-3-1-7zM467 398l2-10 1 9zM320 399l11-9 3 1-11 11zM384 399l-5 1-9-9 3-1zM489 400l2-10 1 9zM509 404l2-14 1 13zM594 431l-11 1-3 9-9 5h-14l-8-4-4-10-9-1 2-24-6-2 4-14 8 28 11 11 6 2 14-4 7-7 6-12 3-17 7 13-8 2zM627 404l-5-1 1-13zM218 397l-13 1-5-3zM303 398l2-4 1 3zM248 407l-21 19-16 8-16 2-18-6-13-13-8-20 20 18-6 2 3 3 22 8 22-2 17-9-4-2 17-11zM256 423l-29 27-22 12-12 4h-24l-12-4-17-13-16-26-4-22 16 16-8 2 30 24-10 2 9 7 16 6h26l24-10 3-3-3-3 24-14 8-8zM672 481l14-42 5-39 7 11 14 12-16 2 11 13 12 2 32-6 37 1-1 13-94 2-3 23-3 3h-10zM421 478l7-29-6-20-12-24 24 18-10 2 17 13h12l11-11-1-3-9-1 8-6 7-15 3 47 18 26-7 1-18-26h-30l-3 17-4 8zM257 420l-3-3 11-11 1 3zM523 480h-6l-13-15-4-10-8-4v-24l-6-2 5-19 7 39 8 16zM628 427l-6 4v10l-7 15h-8l-16 16-16 6-26-4-22-18h-6l-7-13v-12l-6-2 3-21 3 3 2 18 10 20 15 15 12 6 20 2 16-6 15-13 8-12 11-35zM401 480l-3-1 6-14v-12l-17-45 15 17-4 2 12 18v6l-4 4v16zM285 426l-3-3 11-11 1 3zM390 449v6l-4 2v20l-5 5 3-9-2-28-6-12-15-15-14-4-22 10-32 36-3-5 24-24-2-2 5-5 22-12h20l14 8 9 9-4 2zM82 419l-5 3-27-1 1-5 14-2 14 2zM279 456l-3-5 22-24-2-2 13-11 1 3zM280 421l-9 1-1-3 5-3zM44 421l-43 1-1-3 33-1zM788 419l-1 3-47-1 15-3zM245 478l-1-5 20-22-17-3-1-3 17-15-1 5 5-1 2 6 14-14 1 3zM98 447l-97 1-1-13 39-1 14 4v-6l24-2 16 8zM370 455l-6 4 2 16-7 11-3-1 6-10v-16l-15-15h-10l-12 6-17 19-4 14-6 2 4-12 10-12-2-6 23-17h22l9 7zM261 480l10-16 1 3-6 10zM279 482l-1-3 9-13 1 3zM98 473h-18l7-3zM659 504l-1-3 13-19-5 15 2 6zM225 504l4-6 1 3zM598 499l-9 5h-18l-13-5zM332 503l-5 3h-16l-5-5 9 3zM656 529l-25 1-12 12h-14l-28-12h-14l-17-13 35 13 32 2 22-8 16-14 3 3zM360 541l-15 11-34 4-56 26h-42l-9-9-3-17-201-3 1-9h162l12 4h20l17-17-8-2 17-17-7 35 9 17 18 8 34-4 42-16 18-10 3 1-6 4 5 1zM320 539l-33 13h-24l-9-7-2-12-7-1-1-5 5-11 7 19 15 9h28l16-6zM328 523l-21 7-20-2-7-7v-4l19 9zM502 523l-5 1-9-7 3-1zM468 521h-36l11-3zM334 531l16-6-9 7zM366 527l-3 3-5-1zM488 545l-11-1-20-10h-24l-24 10-7-1 21-9 26-4 20 4zM534 575l-10-6-15-21h-4l-19-17 7 1 16 12 15 15zM569 604l-5-1-2-14-6-12-8-4-12-18-9-5-16-20 24 18 19 21 12 20zM358 549l15-9 3 1-13 9zM378 547l11-7 3 1-9 7zM546 541l9 1 4 4 12-2 12 4 204-4 1 9-147 3-78-2-8-2zM494 569l-7-1-12-12-18-10-21-3 13-1 16 4 20 12zM418 547l7-3 11 1zM513 574l-9-7-15-21 21 19zM378 567l29-17 11-1-35 19zM358 571l23-17 7-1-23 17zM488 591h-4l-4-12-9-11-22-8h-26l-14 6-9-1 21-9h32l20 10 11 13zM600 579l-15 1-19-23 5-1 8 4zM282 579l9-5 8 2 20-14 7-1-25 19h-6v-4l-4 4zM322 575l19-15 3 1-15 13zM340 573l17-13 3 1-15 13zM470 589l-5 1-12-14-10-4h-22l-18 8-12 10-3-1 15-13 22-8 24 2 8 4zM505 594l-3-1-7-23 7 9zM148 579l-147 1-1-5 141-1zM380 579l5-5 3 1-5 5zM523 598l-3-1-5-23 5 7zM788 579l-181 1-5-5 185-1zM343 588l-1-3 11-9zM543 600l-3-1-6-18 1-5 7 13zM353 594l-1-3 5-5 1 3zM369 592l4-6 1 3zM440 591l-22-2 19-1zM317 600l6-10 1 3zM335 598l-1-3 5-5 1 3zM295 604l-1-3 9-9 1 3zM403 614l-3-7 4-8 9-7-7 9v10zM443 614l-3-1 4-8-3-13 7 9zM503 622l2-6 1 5zM521 624l2-8 1 7zM565 630l6-14 1 9-3 5zM283 630l2-12 1 11zM343 622l-3-1 1-3zM543 628l-3-3 3-7zM386 705l-11 3-38-18-21-21-6-10-6-28 10 18-2 6 24 22-2 4 5 5 22 12zM408 641l-9 3-14-8-3-5zM516 641l-25 29-28 16-30 8h-34l-30-8-20-12-19-21-6-20 10 14-2 4 13 13 18 10-2 4 36 12h36l30-8 9-5-3-3 30-16 7-7-2-2 11-11zM430 641l26-8-17 11zM505 708l31-25-6-2 26-24-4-4 17-21-3 17-16 28-25 25-12 8zM329 708l-8 2-6-4-25-29-8-18-1-25 11 21-6 2 20 22-6 4zM374 643l-5 3-7-11zM464 643l14-8-11 11zM487 650l-3-3 13-13 1 3zM444 705l27-7 30-16-3-3 30-24-2-4 14-16-14 28-27 25-42 20zM351 650l-7-9 1-5 9 11zM256 657l-19 3-237-1 1-5h228l4 4 1-5 5-3h10zM484 653l-17 13-26 10-40 2-30-10-12-8-7-9 17 11 34 10 38-2 20-6 20-12zM788 655l-1 5h-164l-27-3 9-7h18l5 3 1 5 10-4zM456 653l-23 9h-32l-21-9 5-1 14 6h36l16-6zM264 683l-13 3h-250l-1-15 229-1 4 4 4-8h14zM788 671l-1 15h-192l-15-3 11-13 8-4h22l3 3-1 7 10-6zM466 731l-17 5h-68l-33-11 5-1 14 6 22 4h52l16-4zM478 727l-5 3-7-1zM360 763h-62l5-3h40zM542 763h-70l19-3h44zM788 785l-787 1-1-5 331 1-2-6h180l1 3-5 3 282-2z"/></g></svg><rect x="1156" y="270" width="203" height="199.8" fill="#111"/><svg x="1156" y="270" width="203" height="199.8" viewBox="1156 270 203 199.8"><g transform="translate(1156 270) scale(0.1667 0.1668)" fill-rule="evenodd"><path fill="#f8f8f8" d="M1218 1l-441 3-777-3zM1218 43l-293 1-208 6h-216l-206-6h-294l-1-17 389-1 120 4h200l122-4h386zM1218 87l-327 1-242 14h-80l-238-14h-330l-1-19 271-1 166 4 96 6h152l154-8 378-2zM1218 129l-321 3-122 10-126 18h-80l-124-18-118-10-326-2-1-17 307-1 114 6 126 14 92 2 160-16 116-6h302zM1218 171l-269 3-66 4-90 12-130 30-32 4h-46l-42-6-114-28-66-10-82-6-280-2-1-17 249-1 92 4 88 10 146 28h68l150-28 126-12 298-2zM1218 215l-225 1-76 4-108 16-134 34-46 6h-44l-54-8-122-34-56-10-102-8h-250l-1-19 191-1 140 6 90 14 108 30 46 8 82-2 166-40 102-12 130-4h162zM1218 257l-177 1-118 6-96 14-144 32-58 6h-38l-74-10-114-30-56-10-110-8h-232l-1-17 251-1 62 4 90 14 136 36 56 6 82-6 162-38 118-14 260-2zM1218 299l-205 3-68 4-100 12-154 26-42 4h-88l-48-6-124-28-74-10-78-4h-236l-1-17 245-1 68 4 60 8 126 30 66 10 102-2 68-10 130-26 124-12 228-2zM1218 343l-215 3-82 6-204 22-94 6h-48l-80-8-114-22-56-6h-324l-1-19 313 1 68 8 106 22 76 10h78l52-4 216-28 114-8 194-2zM1218 385l-179 3-202 16-284 6-46-4-108-18-64-6-334 4-1-17 297-5 82 6 102 18 68 8h96l158-8 176-16 86-4h152zM1218 427l-37 3h-104l-190 16h-74l-68-6-210 2-170-22h-106l-134 8h-124l-1-17 179-3 52-4h130l160 22 92 2 62-4 212 2 164-14 166-2zM1218 471l-151 3-170 18h-60l-98-14-50-4-166 4-116-18-50-4-82 2-150 12-124 2-1-19 113-1 182-12h64l64 6 110 16 160-4 60 4 58 8 76 2 160-16 170-4zM1218 513l-157 5-156 20h-68l-142-24h-58l-52 6h-60l-120-22-44-4-72 2-128 14-92 4h-68l-1-17 27-3 128-2 146-14h74l140 22 56 2 68-6h54l40 4 106 18h62l122-16 98-6h96zM1218 557l-139 3-78 8-88 14-62 2-58-8-58-14-48-6-56 2-54 8h-56l-36-6-88-22-38-4-70 2-106 14-94 6h-88l-1-17 155-5 138-16 64-2 54 6 76 18 42 6h44l64-8h62l144 26h54l126-18 134-8h60zM1218 599l-155 5-144 20-74 2-150-26-56 2-66 12-42 2-50-8-78-24-64-8-48 2-150 18-140 4-1-19 131-3 68-6 84-12 80-2 50 8 76 22 40 6 52-2 60-10h66l122 24 62 2 164-22 62-4h100zM1218 641l-149 5-164 20h-64l-120-20-48-2-46 6-64 14-42 2-54-10-56-20-54-12-48-2-128 14-110 6h-70l-1-17 25-3 118-2 136-16 68-2 42 6 82 26 54 10 42-2 86-16h60l122 22h74l132-18 96-6h80zM0 683l1-17 130-2 152-14h52l30 4 40 10 56 20 38 8h54l108-22h62l118 18h64l160-18 96-4 57 1-1 19-146 2-150 16h-90l-110-16h-50l-122 24-70-2-34-8-52-18-62-12h-66l-158 12zM0 727l1-19h116l124-8 98 2 40 8 68 20 34 6h62l96-20 50-6 50 2 106 14h70l188-16 115 1-1 17-150 2-138 12h-86l-112-14h-56l-146 26-70-2-112-26-68-6-128 6zM0 769l1-17 178-4 140 2 104 20 62 6 60-4 78-16 60-8h40l96 12 58 4 80-2 154-10 107 1-1 17-156 2-128 8-88-2-112-14h-62l-158 26h-70l-114-18-46-4zM0 811l1-17h284l140 16h68l184-28 68 2 124 16h120l136-6 93 1-1 19h-168l-76 4-102-2-132-18-62-2-56 6-80 16-72 8h-52l-174-14zM0 855l1-19h206l108 4 70 6h64l60-6 92-18 64-8 70 2 112 18 78 6 293-3-1 19h-312l-58-6-86-16-50-6-76 2-128 24-74 8h-80l-100-6zM0 897l1-17h250l74 4 108-2 62-8 94-20 58-8 80 2 114 22 98 10 279 1-1 17h-274l-82-8-140-28-78-2-46 6-110 24-78 10-84 2-116-4zM1218 941l-167 1-130-4-66-8-108-26-64-10h-42l-34 4-150 34-92 10h-364l-1-19 373 1 92-10 146-32 72-4 50 6 112 26 80 10 292 2zM1218 983l-217 1-90-4-66-8-114-28-72-10-66 6-102 26-52 10-86 8h-352l-1-17 383-3 66-8 166-38 64-2 52 8 74 20 76 14 74 6 262 2zM1218 1025l-305-1-96-10-104-22-44-6-64 2-138 28-104 10h-362l-1-17 385-3 92-12 120-28 32-4h40l62 10 92 22 80 10 96 4h218zM1218 1069l-303-1-96-6-128-16-64-2-70 6-84 12-80 6-392 2-1-19 367-1 102-8 118-20 66-4 48 4 124 20 74 6 318 2zM1218 1111l-281 1-130-4-116-8h-98l-216 12h-376l-1-17 407-3 172-14 88-2 228 16 322 2zM1218 1153l-375 1-92-4h-214l-84 4h-452l-1-17 395-1 194-8h106l220 8h302zM1218 1197l-1217 1-1-19 497-3 720 2z"/></g></svg><rect x="1156" y="495" width="203" height="203.5" fill="#111"/><svg x="1156" y="495" width="203" height="203.5" viewBox="1156 495 203 203.5"><g transform="translate(1156 495) scale(0.25 0.25)" fill-rule="evenodd"><path fill="#fdfdfd" d="M812 61l-229 1-128 8h-98l-126-8h-230l-1-39 811-1zM812 141l-213 5-60 8-98 22-52 2-50-8-72-18-46-6-102-4h-118l-1-39 221 1 66 6 84 14 42 2 44-4 86-14 52-4 216-2zM812 223l-165 3-182 20-100 2-104-18-56-6h-204l-1-39 211 1 46 6 112 24h70l164-28 64-4h144zM812 305l-101 1-108 10h-58l-50-6-124 2-122-14h-64l-74 6-110 2-1-41 229-3 122 16h100l140-4 92-8 128-2zM812 385l-95 3-112 14h-48l-92-16h-32l-40 6h-54l-82-18h-68l-84 10-104 2-1-39 107-3 74-8 62-2 110 16 116-4 88 14h46l102-12 106-2zM0 467l1-39 88-2 94-10h62l76 20 30 4 32-2 58-10 48 2 68 12h48l128-14 79 1-1 39-112 2-100 10-58-2-50-8h-52l-58 12-52 2-72-18-40-6-168 8zM0 547l1-39 202-2 96 16h60l102-16 44 2 64 8h52l134-8 57 1v38l-41 3-182 2-98-12h-54l-100 16h-78l-86-8zM812 629l-209-1-56-8-76-16h-58l-86 18-58 8h-268l-1-39 297 1 48-6 58-12 60-4 148 20h200zM812 711l-215-1-52-4-80-12-46-2-146 18-272 2-1-41 259-1 62-8 82-18 42-2 148 26 218 2zM812 791l-811 1-1-39 273-1 130-8h50l144 8h214z"/></g></svg>
<defs><filter id="pb1" x="-.1" y="-.1" width="1.2" height="1.2"><feGaussianBlur stdDeviation="0.7"/></filter><filter id="pb2" x="-.1" y="-.1" width="1.2" height="1.2"><feGaussianBlur stdDeviation="2.4"/></filter><filter id="pb3" x="-.1" y="-.1" width="1.2" height="1.2"><feGaussianBlur stdDeviation="2.2"/></filter></defs><rect x="243.1" y="830.5" width="222.8" height="221" fill="#111"/><svg x="243.1" y="830.5" width="222.8" height="221" viewBox="243.1 830.5 222.8 221" filter="url(#pb1)"><g transform="translate(243.1 830.5) scale(0.1668 0.1667)" fill-rule="evenodd"><path fill="#555" d="M846 453l-27 23-20 10-14 4h-36l-34-8-40-16-42-24-24-18-53-53-16-22-18-34-8-28-2-28 6-28 16-28 27-25 36-20 32-10 42-6 56 2 48 10 38 14 46 28 27 27 16 26 10 36v32l-6 30-10 28-20 38zM403 1220l-35-35-18-34-4-18v-32l6-28 12-32 34-66 28-46 84-122 12-24 2-18-12-26-46-56-40-58-102-180-62-96-14-28-6-22 2-22 10-20 25-21 32-10 30 2 34 14 44 34 112 112 68 58 34 24 48 28 38 18 42 14 38-2 36-22 23-23 34-42 110-162 35-35 30-18 34-8h22l38 8 48 22 58 44 35 37 34 46v576l-48 66-67 63-36 26-44 26-254 116-58 22-52 14-90 12-74-2-54-8-40-10-50-18-36-18zM834 405l14-30 4-18v-28l-4-18-18-32-21-21-18-12-30-14-30-8-56-2-28 6-20 8-16 10-21 23-10 26v26l8 26 20 32 27 27 26 18 52 22 20 4h36l20-6 18-10zM780 385l-9 9-24 10h-30l-36-14-27-25-8-14-2-30 6-12 17-15 24-8h26l36 12 25 21 10 18 2 26zM505 1076l18 14 34 18 44 14 40 6h48l30-4 44-12 44-20 110-72 40-14 66-12 48-14 40-18 54-38 37-39 38-60 24-64 12-68-2-80-14-62-28-64-36-50-19-19-32-24-28-14-30-8-50 2-38 16-28 20-41 41-44 56-26 40-18 40-2 52 14 68 4 42-4 44-12 28-13 13-12 6-26 4-114-12-62 2-50 12-30 18-29 29-16 24-12 24-10 36v34l6 22 12 22zM686 617l8-16v-20l-10-20-19-21-28-24-90-68-48-30-34-14-38-2-14 6-11 9-12 28v30l4 22 14 42 18 38 26 42 14 18 33 31 34 16 22 2 24-4 36-14 26-14 26-18zM530 1027l-16-32v-42l20-40 19-19 26-16 56-14h64l60 12 82 26h14l13-11 6-12 8-44v-68l-16-116v-44l4-22 14-36 26-42 22-28 33-33 28-20 20-10 32-8h28l26 6 36 18 45 41 26 38 12 24 16 46 10 64-2 58-12 56-28 64-30 42-29 29-34 24-28 14-50 14-64 2-58-10h-26l-17 13-38 56-35 33-46 26-30 10-40 6h-24l-40-6-46-18-18-12zM267 1002l-38-2-28-8-26-12-40-28-33-33-30-42-22-44-14-40-10-52-2-58 4-36 16-60 22-46 22-32 41-39 40-22 36-8 30 2 34 12 34 24 31 33 50 72 72 118 16 32 8 36-4 26-18 40-26 40-36 46-43 43-16 12-40 20zM617 628l-34 20-34 8-28-4-26-14-35-37-18-30-12-28-8-32v-32l8-20 9-9 12-6 22-2 18 4 46 22 52 38 37 37 16 30v22l-10 18zM1007 896h32l38-10 46-28 29-29 20-28 16-32 14-42 6-36v-56l-6-36-10-32-16-34-24-34-19-19-34-22-34-10h-28l-18 4-20 8-30 20-27 27-24 34-12 24-12 44-2 40 4 42 10 62 16 68 16 34 19 21 20 12zM1023 866l-26-6-22-12-17-17-16-26-12-32-12-48-8-54v-50l6-30 18-42 20-28 17-17 22-16 28-12 42-2 22 6 28 16 23 21 24 34 12 26 12 44 2 70-8 40-10 28-16 30-18 24-19 19-38 24-26 8zM291 940l30-8 24-12 38-30 21-23 26-38 12-26 6-24v-28l-8-32-18-40-44-74-34-46-35-35-32-20-26-8h-34l-22 6-34 20-29 29-16 24-14 28-16 60-2 56 4 32 12 44 14 32 26 40 29 31 24 18 26 14 36 10zM563 602l11-11 6-16-2-16-10-18-23-23-28-16-14-4h-14l-10 4-11 15-2 16 8 30 16 24 21 17 18 6h14zM1025 826h24l20-6 28-16 23-23 24-40 14-52v-54l-6-28-16-38-22-30-15-13-24-14-26-6-24 2-22 8-18 12-21 21-20 34-12 52 2 52 6 32 12 38 20 36 19 19 18 10zM307 900l-38 2-20-4-32-14-18-12-31-31-14-20-18-36-10-34-4-22v-56l6-30 10-28 14-26 27-31 16-12 28-12h44l22 8 34 24 27 29 30 42 28 52 14 42v54l-6 18-18 32-43 43-24 14zM1049 798l-30-2-16-8-17-15-16-24-10-24-10-44 2-64 16-40 23-27 36-18h28l32 14 29 31 12 24 10 38v48l-8 32-12 26-16 22-19 17-14 8zM1049 756l22-10 23-25 14-40v-38l-10-32-10-16-15-15-22-10h-24l-22 12-15 17-8 16-6 22v42l6 24 14 28 17 17 12 6zM315 854l32-16 19-17 12-16 10-20 6-26v-24l-4-22-10-28-16-30-18-26-21-23-24-18-24-10h-40l-18 8-16 12-13 15-16 28-10 36v50l6 28 16 36 12 18 25 25 28 16 20 6zM1049 716h-16l-8-4-13-13-10-24 2-38 8-16 9-9 14-6 16 2 12 8 13 21 4 14v22l-10 26zM309 824h-36l-30-14-27-27-12-20-8-22-4-20v-34l8-30 14-24 19-17 12-6 34-2 30 14 19 17 20 26 20 46 2 46-8 24-27 31zM297 772l14-6 15-17 4-12-2-28-6-16-17-21-18-10h-20l-8 4-17 21-2 38 6 16 17 21 14 8zM792 729l-6-20-13-13-10-4h-18l-26 8-34 18-17 15-2 14 7 7 26 10 24 4h32l22-8 9-9zM740 973v-20l-6-12-27-19-24-6h-30l-24 6-18 10-11 11-6 14v16l6 12 15 15 20 10 18 4h26l28-8 16-10z"/><path fill="#bbb" d="M850 445l-27 25-22 12-22 6h-26l-30-6-34-12-36-18-36-24-28-24-25-27-18-24-20-38-8-32v-24l6-24 18-30 23-21 32-18 22-8 42-8h58l52 10 38 14 46 28 27 27 14 22 10 30 2 32-2 18-14 46-20 38zM838 409l12-22 8-26v-42l-6-20-14-24-37-33-38-18-30-8-62-2-28 6-24 10-20 14-15 17-12 32v22l8 28 22 36 29 29 32 22 48 20 32 6h22l24-6 16-8zM403 1220l-35-35-18-34-4-18v-32l6-28 12-32 34-66 28-46 84-122 12-24 2-18-12-26-46-56-40-58-102-180-62-96-14-28-6-22 2-22 10-20 25-21 32-10 30 2 34 14 44 34 112 112 68 58 34 24 48 28 38 18 42 14 38-2 36-22 23-23 34-42 110-162 35-35 30-18 34-8h22l38 8 48 22 58 44 35 37 34 46v576l-48 66-67 63-36 26-44 26-254 116-58 22-52 14-90 12-74-2-54-8-40-10-50-18-36-18zM772 377l-11 11-20 8-32-2-22-10-25-23-6-12-2-18 4-12 15-15 24-8 28 2 24 10 21 19 6 12 2 26zM505 1086l20 14 32 16 38 12 62 8 68-6 42-12 52-24 68-46 40-22 34-12 76-16 52-18 38-20 38-28 31-31 22-28 30-52 20-54 8-34 6-48-2-66-12-60-14-40-18-36-36-50-21-21-26-20-30-16-34-10h-40l-24 6-28 14-38 30-31 33-44 56-34 52-12 28-4 18v22l14 66 6 46-2 44-10 30-19 19-26 8h-28l-88-10h-48l-54 8-44 22-31 31-20 30-14 30-8 32v34l6 22 18 30zM696 615l6-12v-22l-16-26-17-17-58-46-98-70-40-20-34-8-28 6-19 19-6 16v40l6 26 16 44 20 40 32 48 27 29 22 16 36 12 28-2 20-6 60-30 30-22zM949 938l-46-16-13-11-4-8v-122l-18-140v-24l6-34 14-36 28-44 16-20 51-47 30-16 32-8h24l28 6 42 22 39 37 22 32 18 36 14 44 8 54v40l-10 62-16 46-18 34-26 36-39 37-48 28-38 12-24 4h-48zM1001 900h40l36-10 24-12 30-22 27-29 20-30 24-58 8-40 2-54-4-32-14-50-14-30-22-32-35-33-34-18-28-6h-20l-32 8-26 14-18 14-31 33-20 30-12 26-10 36-2 50 4 38 16 94 14 50 14 26 19 19 22 12zM273 996l-44-2-32-10-24-12-26-18-39-37-28-38-24-46-14-40-10-48-2-68 4-32 16-58 20-42 22-32 33-33 44-26 28-8h36l32 10 34 22 29 29 52 72 64 104 24 46 8 26v30l-8 26-22 40-46 62-29 31-38 30-28 14zM609 628l-32 18-38 6-24-6-32-22-35-47-18-44-4-18v-32l10-22 11-9 12-4h22l16 4 44 22 50 38 31 33 14 28-2 26zM1023 862l-26-6-18-10-21-21-18-32-12-36-10-44-6-44v-44l8-40 8-20 24-38 23-23 20-14 32-12 26-2 28 6 24 12 27 23 20 26 16 32 10 30 6 36v44l-4 26-12 40-16 32-22 30-31 27-22 12-24 8zM291 946l34-10 28-16 18-14 37-39 20-28 16-32 8-32-2-32-12-36-20-40-26-44-48-68-37-37-14-10-38-16-38-2-28 8-30 18-23 21-26 36-18 40-10 38-4 34 2 52 10 46 24 56 26 38 29 29 28 20 38 16 18 4zM573 602l11-15 2-22-18-32-29-25-18-10-20-6h-16l-10 4-13 19v24l6 20 20 32 21 17 16 6h26zM1047 830l22-6 28-16 25-25 14-20 14-30 8-28 4-56-6-38-8-24-12-24-18-24-19-17-26-14-14-4h-30l-20 6-26 16-19 19-16 24-16 48-2 54 12 64 10 28 18 32 21 21 18 10 16 4zM1051 794l-32-2-16-8-21-21-18-34-12-50v-48l8-32 10-20 10-14 19-17 14-8 22-6 30 4 16 8 27 25 18 32 10 42-2 48-16 46-12 18-21 21-20 12zM305 896l-30 2-30-6-26-12-20-14-25-25-16-22-18-36-10-34-4-24v-48l6-32 10-28 20-34 15-17 24-18 26-10 26-2 20 4 20 8 28 20 31 33 28 40 20 36 18 48 4 24-2 30-6 20-12 24-16 22-21 21-20 14zM1051 760l22-10 25-29 12-34 2-38-8-32-8-16-15-19-28-16h-26l-20 10-21 23-12 32-2 38 10 42 16 28 11 11 14 8zM307 860l20-6 26-16 19-19 12-18 12-34v-38l-10-36-24-46-16-22-31-31-18-12-20-8h-42l-18 8-23 19-18 26-8 18-8 32v50l6 28 26 52 35 35 22 12 20 6zM307 820h-32l-36-18-25-29-14-32-4-20v-32l8-30 10-18 13-15 28-14 30 2 26 14 31 33 22 46 4 42-4 18-10 20-21 21zM1043 710l-16-4-11-11-10-26 2-28 10-18 13-9h16l8 4 11 11 8 18-2 36-15 21zM307 776l17-13 10-20 2-18-6-26-10-18-19-19-20-8-18 2-19 15-8 16-2 36 4 14 10 18 19 17 16 6zM792 729l-6-20-13-13-10-4h-18l-26 8-34 18-17 15-2 14 7 7 26 10 24 4h32l22-8 9-9zM518 981v-16l6-24 22-34 21-17 20-10 38-10 70-2 46 8 48 16 38 18 21 21v20l-16 36-33 39-30 22-28 14-46 12h-60l-28-6-34-14-18-12-21-21-12-22zM752 973v-20l-10-18-25-17-28-8h-42l-28 8-14 8-15 15-8 22 2 14 6 12 17 17 20 10 24 6h30l24-6 28-16 9-9z"/><path fill="#fdfdfd" d="M852 439l-25 25-18 12-22 8-30 2-26-4-42-14-64-36-55-51-26-36-12-24-8-26-2-26 8-34 12-20 13-15 24-18 48-20 32-6h62l26 4 52 16 44 24 35 33 12 18 10 26 4 24-2 32-12 42-18 36zM830 427l16-22 14-30 6-30-2-32-14-34-14-18-19-17-18-12-42-18-40-8h-46l-22 4-36 14-33 29-14 32v32l6 20 20 36 43 43 48 28 28 10 30 6h28l24-6 18-10zM403 1220l-35-35-18-34-4-18v-32l6-28 12-32 34-66 28-46 84-122 12-24 2-18-12-26-46-56-40-58-102-180-62-96-14-28-6-22 2-22 10-20 25-21 32-10 30 2 34 14 44 34 112 112 68 58 34 24 48 28 38 18 42 14 38-2 36-22 23-23 34-42 110-162 35-35 30-18 34-8h22l38 8 48 22 58 44 35 37 34 46v576l-48 66-67 63-36 26-44 26-254 116-58 22-52 14-90 12-74-2-54-8-40-10-50-18-36-18zM762 371l-9 9-14 6h-26l-26-12-17-19-4-12 2-14 7-11 20-10 34 2 16 8 15 15 6 14v14zM497 1088l28 20 20 10 56 18 46 6h34l46-6 72-24 44-24 56-38 40-20 30-10 78-18 52-20 26-14 46-34 27-27 22-28 18-28 20-40 18-54 10-60v-68l-14-74-16-44-14-28-22-34-20-24-29-27-20-14-38-18-26-6h-34l-30 8-24 12-36 28-33 35-46 58-28 40-22 42-4 16v28l20 98-2 58-14 30-19 15-30 6-110-10-68 2-42 10-36 22-23 23-24 34-16 34-10 38v30l8 28 10 18zM704 615l6-14v-16l-14-26-49-43-138-100-30-16-30-10-38 2-10 6-13 15-6 16-2 26 8 42 16 44 22 44 24 38 14 18 31 31 32 18 20 4 34-4 32-12 52-28 24-18zM961 934l-22-6-24-12-15-15-6-14-6-114-16-114 2-66 12-36 20-36 22-30 41-41 26-18 28-12 20-4 40 2 40 16 30 22 27 29 30 50 16 44 10 54v60l-6 38-14 46-18 38-26 38-37 37-36 24-40 16-46 8zM999 904h40l20-4 42-18 28-20 33-35 16-24 22-48 12-50 2-70-4-26-10-38-18-40-20-30-31-31-38-22-22-6h-38l-16 4-26 12-36 28-19 21-22 32-16 34-8 30-2 54 16 112 16 68 10 22 19 23 18 12zM283 990l-30 2-42-8-38-18-40-30-35-39-22-34-22-48-16-62-4-40 4-64 16-60 18-38 26-38 37-35 36-20 30-8h32l24 6 30 16 37 33 36 46 72 114 30 54 12 36v30l-10 30-20 36-38 52-43 45-18 14-26 16zM622 609l-29 25-16 8-24 6h-18l-16-4-30-18-15-15-20-28-20-46-6-36 2-16 8-18 13-11 12-4 28 2 34 14 50 34 33 31 20 30 4 20-4 16zM1019 858l-22-6-20-12-21-23-14-26-14-42-8-36-6-44v-44l6-32 18-42 12-18 29-29 14-10 28-12 40-2 22 6 28 16 21 19 18 24 18 36 8 26 6 40v32l-4 30-16 50-14 26-20 26-23 21-36 20-24 6zM287 952l30-8 28-14 22-16 37-37 26-36 18-36 6-22v-34l-10-34-26-52-34-56-42-58-35-35-32-20-38-10-28 2-20 6-34 20-21 19-28 38-16 34-14 52v92l12 48 22 48 28 40 29 29 16 12 34 18 38 10zM571 610l15-15 6-16-4-24-10-16-25-25-36-22-24-6-22 6-9 9-4 10v28l8 24 16 26 23 21 18 8 20 2zM1033 834l28-4 26-12 12-8 25-25 16-24 12-26 12-54v-36l-4-26-8-28-12-26-22-30-17-15-20-12-32-8-24 2-18 6-20 12-19 17-14 18-14 26-12 52v36l6 42 14 48 12 26 14 20 17 15 14 8zM1053 790h-28l-12-4-29-25-18-34-12-48v-46l14-46 12-18 15-15 20-12 14-4h24l14 4 18 10 21 21 18 32 10 44-2 42-10 34-8 16-31 35zM305 892l-28 2-24-4-36-16-14-10-29-29-14-20-16-32-12-42-2-66 6-30 12-32 16-26 19-21 16-12 30-12 28-2 18 4 22 10 20 14 29 29 28 38 30 56 12 36 2 48-6 22-20 36-35 35-32 18zM1051 764l22-10 25-27 8-16 8-30v-38l-12-38-23-29-28-14h-22l-22 10-23 25-12 32-2 44 10 40 14 26 17 17 12 6zM321 860l32-18 21-21 18-30 8-34-2-30-6-24-18-40-18-28-37-41-16-12-28-12h-40l-28 14-21 21-20 36-10 40v42l6 30 20 46 18 24 21 19 28 16 20 6h36zM307 816h-30l-14-4-20-12-27-31-12-28-4-16v-40l4-16 16-30 11-11 18-10 30-2 30 14 31 33 20 40 4 18v32l-6 20-10 16-13 13zM1047 702h-12l-8-4-11-13-4-12 2-32 4-8 11-11 16-2 8 4 9 9 8 22-4 28zM311 780l19-17 8-18 2-22-6-24-12-22-17-17-18-10h-24l-12 6-11 11-10 22-2 24 6 26 10 18 23 21 18 6zM792 729l-6-20-13-13-10-4h-18l-26 8-34 18-17 15-2 14 7 7 26 10 24 4h32l22-8 9-9zM834 957l-4 14-14 26-39 39-46 24-46 10-54-2-50-16-22-14-19-19-12-22-4-16v-20l8-26 10-16 19-19 28-16 50-12 72 2 28 6 40 14 36 20 13 13 6 12zM762 971l-2-24-4-8-15-15-22-12-32-8h-38l-32 8-18 10-17 17-8 20 4 26 17 21 28 16 24 6h38l28-8 22-12 19-19z"/></g></svg><rect x="244.1" y="831.5" width="220.8" height="219" fill="none" stroke="#111" stroke-width="2"/><svg x="703.5" y="830.5" width="223" height="223" viewBox="703.5 830.5 223 223" filter="url(#pb3)"><g transform="translate(703.5 830.5) scale(0.1667 0.1667)" fill-rule="evenodd"><path fill="#d6d6d6" d="M427 1190l-31-33-16-32-4-18v-34l6-28 14-38 36-68 32-50 70-96 6-22-8-16-46-48-36-46-42-66-58-108-36-74-14-36-6-42 2-12 8-16 21-19 18-6 36 2 36 16 44 32 100 90 56 44 64 40 52 26 36 12 32-2 28-16 39-39 24-30 92-128 37-37 28-18 22-8 30-4 48 8 40 18 50 36 31 31 24 30 20 30 26 50v408l-30 58-32 46-28 32-61 53-62 38-154 66-118 58-56 20-32 8-68 10h-64l-60-8-46-12-32-12-36-18zM806 731l-8-26-15-17-14-6h-18l-54 20-40 22-25 21-4 6v8l5 7 10 6 28 8 64 8 32-2 20-8 11-11 6-12z"/><path fill="#a4a4a4" d="M447 1168l-33-35-14-28-4-16 2-54 18-52 26-50 38-58 36-46 41-41 18-10h20l46 10 68 8h66l16-6 15-13 10-26v-22l-6-24-12-22-11-11-14-6-24 2-40 16-64 32-66 40h-16l-12-4-36-24-39-39-44-60-32-54-46-92-20-48-12-42-2-28 4-18 8-14 15-13 26-8 24 2 42 18 38 26 80 68 74 56 70 42 44 22 24 8h24l32-18 47-49 102-134 39-37 32-18 28-8h38l26 6 40 18 42 30 35 35 34 46 26 48 24 66v260l-20 58-22 44-24 38-34 42-49 45-50 34-52 26-126 50-122 62-80 26-70 10h-48l-50-6-36-8-42-14-30-14z"/><path fill="#6c6c6c" d="M453 1146l-21-23-16-28-6-22v-42l10-38 26-56 30-48 38-48 37-33 30-12h50l102 10h38l18-4 14-8 15-19 6-22v-22l-4-22-12-30-17-21-18-8-28 6-142 72-28 10-30-2-18-8-20-14-35-35-42-58-30-52-44-94-16-50-4-36 6-26 15-19 22-10h30l20 6 28 14 46 32 78 64 52 38 106 64 32 14h20l28-16 57-61 86-112 43-41 40-22 26-6h32l48 14 46 28 47 45 38 54 22 44 16 44 12 50 6 44v74l-14 82-24 68-40 70-32 40-25 25-52 40-60 32-118 44-154 78-62 20-68 10h-48l-48-6-42-10-42-16-26-14z"/><path fill="#3a3a3a" d="M461 1130l-17-19-16-28-6-22v-42l10-38 20-44 30-48 22-28 37-35 20-12 20-6 72-2 88 8h34l18-4 18-10 15-23 4-14v-40l-10-38-12-26-21-25-10-4-12 2-62 36-92 46-26 10-20 4-22-2-16-6-24-16-35-35-36-50-34-60-32-72-14-46-2-48 8-20 11-13 22-10h28l42 16 38 24 130 100 86 54 48 34 16 6 12-2 18-12 53-57 92-118 45-43 34-20 42-10 30 2 24 6 38 18 18 12 43 39 24 30 26 42 16 34 14 40 12 52 4 32v80l-12 70-22 64-20 40-22 34-22 28-39 39-34 26-62 34-114 40-48 22-106 58-70 24-70 10h-34l-52-6-34-8-44-16-26-14z"/><path fill="#111" d="M477 1120l-23-25-12-22-8-30v-30l6-28 12-32 32-56 43-49 22-16 22-10 32-6h74l56 6h56l18-6 19-17 8-16 4-18v-38l-10-46-22-58 2-28 16-26 126-160 29-29 26-20 32-16 28-6 40 2 36 12 22 12 30 22 29 29 36 50 14 26 20 50 10 38 8 50v80l-16 82-12 34-22 46-40 58-43 43-48 34-44 22-122 40-50 24-98 56-70 24-50 8h-60l-30-4-42-10-36-14-26-14zM744 619l-13 15-26 20-34 20-76 36-22 6h-30l-26-10-20-14-29-29-20-26-30-48-28-56-22-60-6-30v-32l8-22 7-9 20-12 30-2 28 8 34 18 118 88 114 80 17 17 10 16 2 12z"/></g></svg><svg x="703.5" y="830.5" width="223" height="223" viewBox="703.5 830.5 223 223" filter="url(#pb1)"><g transform="translate(703.5 830.5) scale(0.1667 0.1667)" fill-rule="evenodd"><path fill="#555" d="M1051 858h-34l-14-4-18-10-21-21-20-36-10-30-14-72v-60l6-28 14-34 18-26 23-23 30-18 22-6h28l22 6 30 18 23 23 14 20 16 34 12 52v52l-4 24-12 38-12 24-18 26-25 25-34 20zM1047 784l28-10 23-21 18-32 8-30v-46l-6-24-10-22-25-29-22-12-30-2-32 16-19 23-14 36-2 50 12 48 16 28 17 17 16 8z"/><path fill="#aaa" d="M1051 858h-34l-14-4-18-10-21-21-20-36-10-30-14-72v-60l6-28 14-34 18-26 23-23 30-18 22-6h28l22 6 30 18 23 23 14 20 16 34 12 52v52l-4 24-12 38-12 24-18 26-25 25-34 20zM1051 792l18-6 16-10 15-15 16-24 14-46v-46l-10-36-18-30-15-15-16-10-20-6h-18l-32 14-27 31-12 32-4 46 8 46 8 22 14 24 19 19 16 8z"/><path fill="#fdfdfd" d="M1051 858h-34l-14-4-18-10-21-21-20-36-10-30-14-72v-60l6-28 14-34 18-26 23-23 30-18 22-6h28l22 6 30 18 23 23 14 20 16 34 12 52v52l-4 24-12 38-12 24-18 26-25 25-34 20zM1049 802l20-6 22-14 27-33 8-16 10-34 2-46-10-44-12-24-12-16-17-15-18-10-12-4h-28l-24 10-14 10-19 23-16 40-4 46 8 50 12 32 12 20 19 19 14 8z"/></g></svg><svg x="703.5" y="830.5" width="223" height="223" viewBox="703.5 830.5 223 223" filter="url(#pb1)"><g transform="translate(703.5 830.5) scale(0.1667 0.1667)" fill-rule="evenodd"><path fill="#bbb" d="M830 417l-27 25-22 10-28 4-40-6-24-8-34-18-24-18-19-19-16-22-10-20-6-22v-26l10-26 21-23 12-8 22-10 26-6 32-2 32 4 34 10 28 14 14 10 27 29 10 20 6 22v28l-4 18zM299 948l-36 2-30-6-32-14-28-20-27-27-30-44-16-36-12-44-4-28v-48l6-38 14-42 24-42 33-35 30-18 26-8h34l26 8 32 20 33 33 22 28 48 76 24 48 12 38 2 24-6 32-10 24-26 40-37 39-18 14-24 14zM307 818l16-6 16-12 17-25 6-26-6-42-24-44-21-21-28-14h-28l-20 10-17 19-6 12-8 32 4 44 12 28 27 31 30 14z"/><path fill="#666" d="M830 417l-27 25-22 10-28 4-40-6-24-8-34-18-24-18-19-19-16-22-10-20-6-22v-26l10-26 21-23 12-8 22-10 26-6 32-2 32 4 34 10 28 14 14 10 27 29 10 20 6 22v28l-4 18zM299 948l-36 2-30-6-32-14-28-20-27-27-30-44-16-36-12-44-4-28v-48l6-38 14-42 24-42 33-35 30-18 26-8h34l26 8 32 20 33 33 22 28 48 76 24 48 12 38 2 24-6 32-10 24-26 40-37 39-18 14-24 14zM313 826l28-16 21-29 6-20v-32l-4-18-20-42-29-33-14-10-20-8h-28l-24 12-17 19-10 20-6 26v32l4 20 8 22 12 20 25 25 32 14z"/><path fill="#111" d="M830 417l-27 25-22 10-28 4-40-6-24-8-34-18-24-18-19-19-16-22-10-20-6-22v-26l10-26 21-23 12-8 22-10 26-6 32-2 32 4 34 10 28 14 14 10 27 29 10 20 6 22v28l-4 18zM299 948l-36 2-30-6-32-14-28-20-27-27-30-44-16-36-12-44-4-28v-48l6-38 14-42 24-42 33-35 30-18 26-8h34l26 8 32 20 33 33 22 28 48 76 24 48 12 38 2 24-6 32-10 24-26 40-37 39-18 14-24 14zM311 838l26-12 23-23 10-18 6-20v-34l-4-18-20-44-14-20-25-25-24-14-14-4-30 2-16 8-17 15-18 30-8 32v34l6 28 20 40 29 29 30 14z"/></g></svg><svg x="1197" y="830.3" width="223.4" height="222.5" viewBox="1197 830.3 223.4 222.5"><g filter="url(#pb2)"><rect x="1188" y="821.3" width="241.4" height="240.5" fill="#5b5e66"/><svg x="1197" y="830.3" width="223.4" height="222.5" viewBox="1197 830.3 223.4 222.5"><g transform="translate(1197 830.3) scale(0.2499 0.25)" fill-rule="evenodd"><path fill="#4a4c54" d="M277 804l-19-19-14-26v-46l14-38 24-44 72-108v-14l-70-92-78-140-24-54v-20l6-14 25-17h28l20 8 26 18 72 68 54 44 28 18 68 30 28-2 24-16 43-51 58-84 33-31 30-12h28l28 8 46 28 35 35 32 48v330l-40 58-45 43-46 30-188 86-56 18-54 8-76-4-68-20zM534 485l-4-12-11-11-22-2-18 6-36 20-7 7-2 10 7 7 18 6 46 4 10-2 13-9 6-12z"/><path fill="#383a40" d="M297 778l-17-17-12-20-6-26 2-22 10-32 16-32 46-68 41-43 8-4 78 14h58l12-6 9-13 2-30-8-20-11-11-20-4-76 34-42 28-14-2-20-12-43-43-44-68-34-68-16-42-4-26 6-22 11-11 16-6h14l20 6 38 24 98 80 60 36 38 16h16l20-10 31-31 66-88 27-27 22-14 18-6 42 2 30 12 40 30 39 49 16 30 14 38v184l-26 62-32 46-31 31-42 30-50 24-64 24-82 42-60 20-38 6h-50l-28-4-58-18z"/><path fill="#26272b" d="M313 764l-21-21-12-22-2-42 6-22 18-38 30-44 29-29 12-8 22-6 86 6 48-2 10-6 11-15 2-36-10-30-8-12-13-9-18 2-114 56-20 2-26-12-43-45-44-76-26-70-2-18 6-24 11-11 16-6 36 8 30 18 84 66 102 62h18l20-14 25-27 60-78 29-29 30-18 14-4 40 2 36 16 26 20 29 33 28 50 16 50 6 40v48l-10 56-22 56-32 48-33 33-38 26-48 22-68 24-82 44-44 16-44 8-66-2-46-12z"/><path fill="#121212" d="M323 754l-29-33-6-18v-34l8-26 16-32 30-40 23-19 24-10 52-2 76 6 28-10 13-25v-32l-8-30-18-38v-10l98-126 39-37 38-16 38 2 32 14 20 14 33 35 22 36 18 48 8 42v64l-12 56-20 46-36 50-27 25-26 18-42 20-74 24-96 52-40 14-32 6h-58l-50-12zM506 409l-17 17-24 16-60 30-34 8-28-10-21-17-30-38-36-68-14-40-4-26 2-16 6-12 15-11 24-2 38 16 88 66 74 50 19 19 4 8z"/></g></svg><svg x="1197" y="830.3" width="223.4" height="222.5" viewBox="1197 830.3 223.4 222.5"><g transform="translate(1197 830.3) scale(0.2499 0.25)" fill-rule="evenodd"><path fill="#787a82" d="M553 332l-20 10-22 2-46-14-58-34-61-59-20-28-14-28-6-24v-20l8-26 29-33 36-20 36-10 74-2 40 8 34 12 32 18 29 27 12 20 6 22v22l-6 28-32 68-22 32zM169 714l-44-4-50-26-45-45-30-50v-230l20-34 31-33 36-22 30-8 28 2 22 8 18 12 25 25 110 170 14 28v20l-10 24-66 96-47 49-16 10z"/><path fill="#9a9ca2" d="M557 320l-26 14-20 2-22-4-52-22-32-22-31-29-32-44-12-36 4-36 10-18 19-19 24-14 32-10 28-4 44 2 36 8 34 14 24 16 19 19 12 20 6 24-6 46-22 48zM179 686h-26l-24-6-44-26-29-29-34-56-18-64-2-48 4-32 8-30 14-32 20-30 23-23 28-18 28-8h22l20 6 26 16 21 21 86 132 24 48v20l-8 22-52 76-41 41-24 14z"/><path fill="#bebfc4" d="M572 293l-31 27-18 6h-22l-36-10-44-24-39-35-24-36-8-24v-26l10-24 27-25 34-14 22-4 62 4 30 10 32 18 23 23 14 32-2 42-6 18zM181 666l-28-2-24-8-34-22-21-21-20-28-16-32-14-54 2-68 20-58 14-22 21-23 16-12 36-14h26l14 4 24 14 27 27 74 114 20 48v14l-8 26-44 64-27 27-20 14z"/><path fill="#e0e0e3" d="M566 287l-17 17-18 10-38 2-34-10-38-22-27-25-24-38-4-14v-24l12-26 19-17 46-16h42l20 4 32 12 16 10 25 25 12 28-2 40zM191 650h-26l-22-6-24-12-18-14-35-43-14-28-12-44v-66l20-58 16-24 19-19 18-12 22-8 38 2 26 14 19 17 24 30 36 56 22 40 10 30v22l-4 14-32 52-35 35-32 18z"/><path fill="#fdfdfd" d="M560 279l-23 21-24 8-36-4-34-14-30-22-23-29-10-28v-18l6-16 19-21 10-6 36-10 50 4 34 14 27 23 14 28v36zM189 638l-28-2-18-6-36-24-29-35-18-38-8-32-2-44 4-28 18-46 12-18 27-25 20-10 20-4 20 2 20 8 41 37 56 88 10 22 6 26-6 34-10 20-26 34-29 25-20 10z"/></g></svg></g></svg>
<path d="M65.2 1573L257.3 1497.3M257.3 1497.3L466.9 1568.4M65.2 1542L257.3 1466.3M257.3 1466.3L466.9 1537.4M65.2 1511L257.3 1435.3M257.3 1435.3L466.9 1506.4M65.2 1480L257.3 1404.3M257.3 1404.3L466.9 1475.4M65.2 1448.9L257.3 1373.2M257.3 1373.2L466.9 1444.3M65.2 1417.9L257.3 1342.2M257.3 1342.2L466.9 1413.3M65.2 1386.9L257.3 1311.2M257.3 1311.2L466.9 1382.3M65.2 1573L65.2 1386.9M257.3 1497.3L257.3 1311.2M129.2 1547.8L129.2 1361.7M327.2 1521L327.2 1334.9M193.3 1522.5L193.3 1336.4M397 1544.7L397 1358.6M257.3 1497.3L257.3 1311.2M466.9 1568.4L466.9 1382.3M204.9 1620.4L397 1544.7M338.8 1618.9L129.2 1547.8M135.1 1596.7L327.2 1521M402.9 1593.6L193.3 1522.5" stroke="#e3e3e3" stroke-width="1.1" fill="none"/><path d="M65.2 1573L65.2 1386.9" stroke="#d6d6d6" stroke-width="3.6" fill="none"/><path d="M65.2 1573L274.8 1644.1M274.8 1644.1L466.9 1568.4M65.2 1573L61.2 1571.7M65.2 1542L61.2 1540.7M65.2 1511L61.2 1509.7M65.2 1480L61.2 1478.7M65.2 1448.9L61.2 1447.6M65.2 1417.9L61.2 1416.6M65.2 1386.9L61.2 1385.6M274.8 1644.1L278.8 1642.5M274.8 1644.1L270.8 1642.7M204.9 1620.4L208.9 1618.8M338.8 1618.9L334.8 1617.5M135.1 1596.7L139.1 1595.1M402.9 1593.6L398.9 1592.2M65.2 1573L69.2 1571.4M466.9 1568.4L462.9 1567" stroke="#8a8a8a" stroke-width="1.3" fill="none"/><svg x="94" y="1413" width="347" height="137" viewBox="94 1413 347 137"><g transform="translate(94 1413) scale(0.1667 0.1667)" fill-rule="evenodd"><path fill="#4236af" d="M2070 379l-17 5-8 6-18 4-32 16-22 6-32 16-24 6-8 6-46 16-8 6-48 16-8 6-22 6-8 6-152 56-8 6-46 16-8 6-18 4-8 6-16 4-50 24-12 2-35 69-36 60-35 41-10 4-8 8-12 4h-20l-10-4-24-18-25-29-8-18-15-21-8 6-72 26-44 20-30-12-32-8-22-10-38-10-16-8-44-12-8-6-40-10-14-8-26-6-56-22-18-4-8-6-38-12-22-12-12-2-8-6-20-6-54-26-40-12-8-6-100-30-26-4-28-10h-12l-162-48-14-8-40-10-22-10-38-10-16-8-38-10-8-6-19-5 41-15 8-6 18-4 32-16 22-6 32-16 24-6 8-6 46-16 8-6 24-6 8-6 22-6 38-18 22-6 10-6 22-6 8-6 22-6 8-6 54-18 8-6 16-4 32-16 18-4 8-6 16-4 32-16 16-4 39-57 23-23 20-12 16-2 14 4 30 30h6l8-6 22-6 32-16 18-4 8-6 22-6 8-6 16-4 8-6 48-16 20-10 42 16 38 10 22 10 26 6 8 6 80 24 8 6 24 6 10 6 18 4 8 6 18 4 88 36 8 6h6l8 6 26 8 22 12 40 16 18 4 8 6 94 28h12l28 10h12l22 8 26 4 108 32z"/><path fill="#433bb5" d="M2070 379l-17 5-8 6-18 4-32 16-22 6-32 16-24 6-8 6-46 16-8 6-48 16-8 6-22 6-8 6-152 56-8 6-46 16-8 6-18 4-8 6-16 4-50 24-12 2-35 69-36 60-29 33-12 6-6-2-6 6-6-6-8 6-6-8-14 6-6-10-20-4-10-6-3 1 4 4-3 1-19-21-8-18-15-21-8 6-72 26-44 20-30-12-32-8-22-10-38-10-16-8-44-12-8-6-40-10-14-8-26-6-56-22-18-4-8-6-38-12-22-12-12-2-8-6-20-6-54-26-40-12-8-6-100-30-26-4-28-10h-12l-162-48-14-8-40-10-22-10-38-10-16-8-38-10-8-6-19-5 41-15 8-6 18-4 32-16 22-6 32-16 24-6 8-6 46-16 8-6 24-6 8-6 22-6 38-18 22-6 10-6 22-6 8-6 22-6 8-6 54-18 8-6 16-4 32-16 18-4 8-6 16-4 32-16 16-4 39-57 23-23 20-12 16-2 14 4 30 30h6l8-6 22-6 32-16 18-4 8-6 22-6 8-6 16-4 8-6 48-16 20-10 42 16 38 10 22 10 26 6 8 6 80 24 8 6 24 6 10 6 18 4 8 6 18 4 88 36 8 6h6l8 6 26 8 22 12 40 16 18 4 8 6 94 28h12l28 10h12l22 8 26 4 108 32z"/><path fill="#4543c0" d="M2070 379l-17 5-8 6-18 4-32 16-22 6-32 16-24 6-8 6-46 16-8 6-48 16-8 6-22 6-8 6-152 56-8 6-46 16-8 6-18 4-8 6-16 4-50 24-12 2-35 69-36 58-9 9-12 4-6-2-6 10-12-12-8 10-6-10-14 14-6-12-12 6-8-16-20 2-20-12 2 12-18-20-3 1 2-4-3 1-8-12-8 6-72 26-44 20-30-12-32-8-22-10-38-10-16-8-44-12-8-6-40-10-14-8-26-6-56-22-18-4-8-6-38-12-22-12-12-2-8-6-20-6-54-26-40-12-8-6-100-30-26-4-28-10h-12l-162-48-14-8-40-10-22-10-38-10-16-8-38-10-8-6-19-5 41-15 8-6 18-4 32-16 22-6 32-16 24-6 8-6 46-16 8-6 24-6 8-6 22-6 38-18 22-6 10-6 22-6 8-6 22-6 8-6 54-18 8-6 16-4 32-16 18-4 8-6 16-4 32-16 16-4 39-57 23-23 20-12 16-2 14 4 30 30h6l8-6 22-6 32-16 18-4 8-6 22-6 8-6 16-4 8-6 48-16 20-10 42 16 38 10 22 10 26 6 8 6 80 24 8 6 24 6 10 6 18 4 8 6 18 4 88 36 8 6h6l8 6 26 8 22 12 40 16 18 4 8 6 94 28h12l28 10h12l22 8 26 4 108 32z"/><path fill="#464fc7" d="M2070 379l-17 5-8 6-18 4-32 16-22 6-32 16-24 6-8 6-46 16-8 6-48 16-8 6-22 6-8 6-152 56-8 6-46 16-8 6-18 4-8 6-16 4-50 24-12 2-51 97-21 19-18-6-8 12-12-14-6 10-6-12-14 18-6-12-14 10-8-16-12 6h-20l-30-20-136 56-344-116-8-6-38-12-22-12-12-2-8-6-20-6-54-26-40-12-8-6-100-30-26-4-28-10h-12l-162-48-14-8-40-10-22-10-38-10-16-8-38-10-8-6-19-5 41-15 8-6 18-4 32-16 22-6 32-16 24-6 8-6 46-16 8-6 24-6 8-6 22-6 38-18 22-6 10-6 22-6 8-6 22-6 8-6 54-18 8-6 16-4 32-16 18-4 8-6 16-4 32-16 16-4 39-57 23-23 20-12 16-2 14 4 30 30h6l8-6 22-6 32-16 18-4 8-6 22-6 8-6 16-4 8-6 48-16 20-10 42 16 38 10 22 10 26 6 8 6 80 24 8 6 24 6 10 6 18 4 8 6 18 4 88 36 8 6h6l8 6 26 8 22 12 40 16 18 4 8 6 94 28h12l28 10h12l22 8 26 4 108 32z"/><path fill="#465bcd" d="M2070 379l-17 5-8 6-18 4-32 16-22 6-32 16-24 6-8 6-46 16-8 6-48 16-8 6-22 6-8 6-152 56-8 6-46 16-8 6-18 4-8 6-16 4-50 24-12 2-35 69-13 13 3-9-5-1-8 16h-14l-12-8-6 12-6-8-6 12-8-12-6 12-6-12-6 10-5-13-3-1-12 14-5-15-5-1-16 12-8 2-3-11-5-3-172 70-344-116-8-6-38-12-22-12-12-2-8-6-20-6-54-26-40-12-8-6-100-30-26-4-28-10h-12l-162-48-14-8-40-10-22-10-38-10-16-8-38-10-8-6-19-5 41-15 8-6 18-4 32-16 22-6 32-16 24-6 8-6 46-16 8-6 24-6 8-6 22-6 38-18 22-6 10-6 22-6 8-6 22-6 8-6 54-18 8-6 16-4 32-16 18-4 8-6 16-4 32-16 16-4 39-57 23-23 20-12 16-2 14 4 30 30h6l8-6 22-6 32-16 18-4 8-6 22-6 8-6 16-4 8-6 48-16 20-10 42 16 38 10 22 10 26 6 8 6 80 24 8 6 24 6 10 6 18 4 8 6 18 4 88 36 8 6h6l8 6 26 8 22 12 40 16 18 4 8 6 94 28h12l28 10h12l22 8 26 4 108 32z"/><path fill="#4767d4" d="M2070 379l-17 5-8 6-18 4-32 16-22 6-32 16-24 6-8 6-46 16-8 6-48 16-8 6-22 6-8 6-152 56-8 6-46 16-8 6-18 4-8 6-16 4-50 24-12 2-23 43-23 17-12-2-10-8-8 14-6-8-8 14-6-10-6 12-6-12-8 12-6-12-6 8-6-12-14 14-4-8-8 6-48 16-8 6-22 6-8 6-42 14-8 6-22 6-8 6-16 4-20 10-344-116-8-6-38-12-22-12-12-2-8-6-20-6-54-26-40-12-8-6-100-30-26-4-28-10h-12l-162-48-14-8-40-10-22-10-38-10-16-8-38-10-8-6-19-5 41-15 8-6 18-4 32-16 22-6 32-16 24-6 8-6 46-16 8-6 24-6 8-6 22-6 38-18 22-6 10-6 22-6 8-6 22-6 8-6 54-18 8-6 16-4 32-16 18-4 8-6 16-4 32-16 16-4 39-57 23-23 20-12 16-2 14 4 30 30h6l8-6 22-6 32-16 18-4 8-6 22-6 8-6 16-4 8-6 48-16 20-10 42 16 38 10 22 10 26 6 8 6 80 24 8 6 24 6 10 6 18 4 8 6 18 4 88 36 8 6h6l8 6 26 8 22 12 40 16 18 4 8 6 94 28h12l28 10h12l22 8 26 4 108 32z"/><path fill="#4672d6" d="M2070 379l-17 5-8 6-18 4-32 16-22 6-32 16-24 6-8 6-46 16-8 6-48 16-8 6-22 6-8 6-152 56-8 6-46 16-8 6-18 4-8 6-16 4-50 24-12 2-5 9-3-1-18 18-12 4-12-6-8 16-10-10-5 3-3 9-6-8-6 12-4-6-12 2-8 6-16 4-32 16-48 16-8 6-22 6-8 6-42 14-8 6-22 6-8 6-16 4-20 10-344-116-8-6-38-12-22-12-12-2-8-6-20-6-54-26-40-12-8-6-100-30-26-4-28-10h-12l-162-48-14-8-40-10-22-10-38-10-16-8-38-10-8-6-19-5 41-15 8-6 18-4 32-16 22-6 32-16 24-6 8-6 46-16 8-6 24-6 8-6 22-6 38-18 22-6 10-6 22-6 8-6 22-6 8-6 54-18 8-6 16-4 32-16 18-4 8-6 16-4 32-16 16-4 39-57 23-23 20-12 16-2 14 4 30 30h6l8-6 22-6 32-16 18-4 8-6 22-6 8-6 16-4 8-6 48-16 20-10 42 16 38 10 22 10 26 6 8 6 80 24 8 6 24 6 10 6 18 4 8 6 18 4 88 36 8 6h6l8 6 26 8 22 12 40 16 18 4 8 6 94 28h12l28 10h12l22 8 26 4 108 32z"/><path fill="#437cd6" d="M2070 379l-17 5-8 6-18 4-32 16-22 6-32 16-24 6-8 6-46 16-8 6-48 16-8 6-22 6-8 6-152 56-8 6-46 16-8 6-18 4-8 6-16 4-50 24-42 14-26 14-48 16-8 6-16 4-32 16-48 16-8 6-22 6-8 6-42 14-8 6-22 6-8 6-16 4-20 10-344-116-8-6-38-12-22-12-12-2-8-6-20-6-54-26-40-12-8-6-100-30-26-4-28-10h-12l-162-48-14-8-40-10-22-10-38-10-16-8-38-10-8-6-19-5 41-15 8-6 18-4 32-16 22-6 32-16 24-6 8-6 46-16 8-6 24-6 8-6 22-6 38-18 22-6 10-6 22-6 8-6 22-6 8-6 54-18 8-6 16-4 32-16 18-4 8-6 16-4 32-16 16-4 39-57 23-23 20-12 16-2 14 4 30 30h6l8-6 22-6 32-16 18-4 8-6 22-6 8-6 16-4 8-6 48-16 20-10 42 16 38 10 22 10 26 6 8 6 80 24 8 6 24 6 10 6 18 4 8 6 18 4 88 36 8 6h6l8 6 26 8 22 12 40 16 18 4 8 6 94 28h12l28 10h12l22 8 26 4 108 32z"/><path fill="#4187d6" d="M2070 379l-17 5-8 6-18 4-32 16-22 6-32 16-24 6-8 6-46 16-8 6-48 16-8 6-22 6-8 6-152 56-8 6-46 16-8 6-18 4-8 6-16 4-50 24-42 14-26 14-48 16-8 6-16 4-32 16-48 16-8 6-22 6-8 6-42 14-8 6-22 6-8 6-16 4-20 10-344-116-8-6-38-12-22-12-12-2-8-6-20-6-54-26-40-12-8-6-100-30-26-4-28-10h-12l-162-48-14-8-40-10-22-10-38-10-16-8-38-10-8-6-19-5 41-15 8-6 18-4 32-16 22-6 32-16 24-6 8-6 46-16 8-6 24-6 8-6 22-6 38-18 22-6 10-6 22-6 8-6 22-6 8-6 54-18 8-6 16-4 32-16 18-4 8-6 16-4 32-16 16-4 39-57 23-23 20-12 16-2 14 4 30 30h6l8-6 22-6 32-16 18-4 8-6 22-6 8-6 16-4 8-6 48-16 20-10 42 16 38 10 22 10 26 6 8 6 80 24 8 6 24 6 10 6 18 4 8 6 18 4 88 36 8 6h6l8 6 26 8 22 12 40 16 18 4 8 6 94 28h12l28 10h12l22 8 26 4 108 32z"/><path fill="#3e91d4" d="M2070 379l-17 5-8 6-18 4-32 16-22 6-32 16-24 6-8 6-46 16-8 6-48 16-8 6-22 6-8 6-152 56-8 6-46 16-8 6-18 4-8 6-16 4-50 24-42 14-26 14-48 16-8 6-16 4-32 16-48 16-8 6-22 6-8 6-42 14-8 6-22 6-8 6-16 4-20 10-344-116-8-6-38-12-22-12-12-2-8-6-20-6-54-26-40-12-8-6-100-30-26-4-28-10h-12l-162-48-14-8-40-10-22-10-38-10-16-8-38-10-8-6-19-5 41-15 8-6 18-4 32-16 22-6 32-16 24-6 8-6 46-16 8-6 24-6 8-6 22-6 38-18 22-6 10-6 22-6 8-6 22-6 8-6 54-18 8-6 16-4 32-16 18-4 8-6 16-4 32-16 16-4 39-57 23-23 20-12 16-2 14 4 30 30h6l8-6 22-6 32-16 18-4 8-6 22-6 8-6 16-4 8-6 48-16 20-10 42 16 38 10 22 10 26 6 8 6 80 24 8 6 24 6 10 6 18 4 8 6 18 4 88 36 8 6h6l8 6 26 8 22 12 40 16 18 4 8 6 94 28h12l28 10h12l22 8 26 4 108 32z"/><path fill="#3a9acf" d="M2070 379l-17 5-8 6-18 4-32 16-22 6-32 16-24 6-8 6-46 16-8 6-48 16-8 6-22 6-8 6-152 56-8 6-46 16-8 6-18 4-8 6-16 4-50 24-42 14-26 14-48 16-8 6-16 4-32 16-48 16-8 6-22 6-8 6-42 14-8 6-22 6-8 6-16 4-20 10-344-116-8-6-38-12-22-12-12-2-8-6-20-6-54-26-40-12-8-6-100-30-26-4-28-10h-12l-162-48-14-8-40-10-22-10-38-10-16-8-38-10-8-6-19-5 41-15 8-6 18-4 32-16 22-6 32-16 24-6 8-6 46-16 8-6 24-6 8-6 22-6 38-18 22-6 10-6 22-6 8-6 22-6 8-6 54-18 8-6 16-4 32-16 18-4 8-6 16-4 32-16 16-4 39-57 23-23 20-12 16-2 14 4 30 30h6l8-6 22-6 32-16 18-4 8-6 22-6 8-6 16-4 8-6 48-16 20-10 42 16 38 10 22 10 26 6 8 6 80 24 8 6 24 6 10 6 18 4 8 6 18 4 88 36 8 6h6l8 6 26 8 22 12 40 16 18 4 8 6 94 28h12l28 10h12l22 8 26 4 108 32zM1181 426l11-23-6-12-13 17-6-12-6 10-8-16-9 13 27 21z"/><path fill="#36a4ca" d="M2070 379l-17 5-8 6-18 4-32 16-22 6-32 16-24 6-8 6-46 16-8 6-48 16-8 6-22 6-8 6-152 56-8 6-46 16-8 6-18 4-8 6-16 4-50 24-42 14-26 14-48 16-8 6-16 4-32 16-48 16-8 6-22 6-8 6-42 14-8 6-22 6-8 6-16 4-20 10-344-116-8-6-38-12-22-12-12-2-8-6-20-6-54-26-40-12-8-6-100-30-26-4-28-10h-12l-162-48-14-8-40-10-22-10-38-10-16-8-38-10-8-6-19-5 41-15 8-6 18-4 32-16 22-6 32-16 24-6 8-6 46-16 8-6 24-6 8-6 22-6 38-18 22-6 10-6 22-6 8-6 22-6 8-6 54-18 8-6 16-4 32-16 18-4 8-6 16-4 32-16 16-4 39-57 23-23 20-12 16-2 14 4 30 30h6l8-6 22-6 32-16 18-4 8-6 22-6 8-6 16-4 8-6 48-16 20-10 42 16 38 10 22 10 26 6 8 6 80 24 8 6 24 6 10 6 18 4 8 6 18 4 88 36 8 6h6l8 6 26 8 22 12 40 16 18 4 8 6 94 28h12l28 10h12l22 8 26 4 108 32zM1216 359v-6l-7-9-12 22-6-12-6 12-8-14-6 10-6-12-12 18-8-14-10 14-8-12-15 17 37 35 16 12h4l2 4 10 2zM1090 591l-9 5 2-10h-16l-16-12-6 10-6-8-6 8-8-8-6 8-6-12-9 11 39 15h38l6-2z"/><path fill="#35adc3" d="M2070 379l-17 5-8 6-18 4-32 16-22 6-32 16-24 6-8 6-46 16-8 6-48 16-8 6-22 6-8 6-152 56-8 6-46 16-8 6-18 4-8 6-16 4-50 24-42 14-26 14-48 16-8 6-16 4-32 16-48 16-8 6-22 6-8 6-42 14-8 6-22 6-8 6-16 4-20 10-344-116-8-6-38-12-22-12-12-2-8-6-20-6-54-26-40-12-8-6-100-30-26-4-28-10h-12l-162-48-14-8-40-10-22-10-38-10-16-8-38-10-8-6-19-5 41-15 8-6 18-4 32-16 22-6 32-16 24-6 8-6 46-16 8-6 24-6 8-6 22-6 38-18 22-6 10-6 22-6 8-6 22-6 8-6 54-18 8-6 16-4 32-16 18-4 8-6 16-4 32-16 16-4 39-57 23-23 20-12 16-2 14 4 30 30h6l8-6 22-6 32-16 18-4 8-6 22-6 8-6 16-4 8-6 48-16 20-10 42 16 38 10 22 10 26 6 8 6 80 24 8 6 24 6 10 6 18 4 8 6 18 4 88 36 8 6h6l8 6 26 8 22 12 40 16 18 4 8 6 94 28h12l28 10h12l22 8 26 4 108 32zM1244 311l-3-3-6 12-6-12-8 12-6-10-6 10-6-10-6 10-8-10-6 10-6-12-12 20-8-12-6 8-6-12-12 16-8-12-12 14-6-12-18 18-8-12-22 18-8-12-16 12-13 5 35-3 18 4 24 14 66 58 16 6 31-63zM1020 349l-8 2 5 1zM1478 353l-1-3-9 1 7 7zM988 363l5 1 9-7zM882 369l17 45 12-4 20-14h6l22-16 25-13-7-9-18 12-8-8-6 6-6-6-12 12-8-8-6 6-6-6-6 6-8-6-6 6zM1512 367l-20 2 13 7 2 4zM1526 379l-7-1-7 5 9 5zM1540 387l-14 2 9 5zM1108 589l-2-8 6-10-6-4 4-2v-10h-6l3-13-11 1 3-11-10-2-6 10-14-12-6 10-8-8-6 10-6-10-6 8-6-10-6 8-8-12-12 16-6-12-18 20-8-14-13 9 29 31 14 10 40 14h38z"/><path fill="#3db3b3" d="M2070 379l-17 5-8 6-18 4-32 16-22 6-32 16-24 6-8 6-46 16-8 6-48 16-8 6-22 6-8 6-152 56-8 6-46 16-8 6-18 4-8 6-16 4-50 24-42 14-26 14-48 16-8 6-16 4-32 16-48 16-8 6-22 6-8 6-42 14-8 6-22 6-8 6-16 4-20 10-344-116-8-6-38-12-22-12-12-2-8-6-20-6-54-26-40-12-8-6-100-30-26-4-28-10h-12l-162-48-14-8-40-10-22-10-38-10-16-8-38-10-8-6-19-5 41-15 8-6 18-4 32-16 22-6 32-16 24-6 8-6 46-16 8-6 24-6 8-6 22-6 38-18 22-6 10-6 22-6 8-6 22-6 8-6 54-18 8-6 16-4 32-16 18-4 8-6 16-4 32-16 16-4 39-57 23-23 20-12 16-2 14 4 30 30h6l8-6 22-6 32-16 18-4 8-6 22-6 8-6 16-4 8-6 48-16 20-10 42 16 38 10 22 10 26 6 8 6 80 24 8 6 24 6 10 6 18 4 8 6 18 4 88 36 8 6h6l8 6 26 8 22 12 40 16 18 4 8 6 94 28h12l28 10h12l22 8 26 4 108 32zM1278 277l-5-7-8 12-12-16-6 10-8-8-6 10-6-8-6 10-8-10-6 10-6-10-6 10-6-10-6 10-8-10-6 8-6-10-6 8-8-8-12 14-6-10-6 8-8-10-12 12-6-10-18 18-8-10-18 16-6-10-16 12-10-10-26 20h-4l-6-8-24 16-8-8-10 10-10-8-10 10-8-6-12 10-6-6-8 6-6-8-12 12-6-8-1 3 33 91 12-4 20-14h6l22-16 8-2 20-14h6l12-10 32-10h20l30 10 32 24 30 30 16 12h4l2 4 10 2 51-97 12-18zM1281 276l7-5-3-3zM1588 403v-6h-4l2-8-10 2 4-8h-4l2-14-9 3 3-9-5-1-4 4 3-9h-12l3-11-16 2 2-10-25-1 5-11-30-2-24-6-30-12-37-21-3 11 28 20 22 22 40 30 22 12 2 4 20 10 38 12h14zM1136 517l-6-2 4-2-4-2 2-4h-4l1-13h-14l-16-10-6 8-6-6-6 8-8-8-6 8-6-8-6 8-6-10-8 8-6-12-12 16-6-12-12 14-8-12-16 20-8-12-29 21 22 36 23 23 14 10 40 14h38l26-8 7-7 6-14-2-2 4-2-2-8 10-18-3 1-1-3z"/><path fill="#46baa3" d="M2070 379l-17 5-8 6-18 4-32 16-22 6-32 16-24 6-8 6-46 16-8 6-48 16-8 6-22 6-8 6-152 56-8 6-46 16-8 6-18 4-8 6-16 4-50 24-42 14-26 14-48 16-8 6-16 4-32 16-48 16-8 6-22 6-8 6-42 14-8 6-22 6-8 6-16 4-20 10-344-116-8-6-38-12-22-12-12-2-8-6-20-6-54-26-40-12-8-6-100-30-26-4-28-10h-12l-162-48-14-8-40-10-22-10-38-10-16-8-38-10-8-6-19-5 41-15 8-6 18-4 32-16 22-6 32-16 24-6 8-6 46-16 8-6 24-6 8-6 22-6 38-18 22-6 10-6 22-6 8-6 22-6 8-6 54-18 8-6 16-4 32-16 18-4 8-6 16-4 32-16 16-4 39-57 23-23 20-12 16-2 14 4 30 30h6l8-6 22-6 32-16 18-4 8-6 22-6 8-6 16-4 8-6 48-16 20-10 42 16 38 10 22 10 26 6 8 6 80 24 8 6 24 6 10 6 18 4 8 6 18 4 88 36 8 6h6l8 6 26 8 22 12 40 16 18 4 8 6 94 28h12l28 10h12l22 8 26 4 108 32zM854 277l10 40 35 97 12-4 20-14h6l22-16 8-2 20-14h6l12-10 32-10h20l30 10 32 24 42 40 14 8h6l31-63 32-52 35-35 28-14h34l30 12 56 42 22 22 52 38h4l2 4h4l2 4 20 10 38 12 22 2 10-2 6-6 2 2-1-3 12-16-4-2 4-2-4-2v-28l-4-2 4-6-9 1v-6h-8l2-8-10 2 1-7-8-2 1-7h-14l2-10h-16l2-10-30-2 2-12h-10l-46-14-36-18-5 9-5 1-30-18-8 10-18-14-8 10-18-14-8 8-12-10-6 10-14-12-6 10-14-12-6 8-12-12-6 8-8-6-6 8-14-12-6 8-6-6-6 6-6-6-6 8-8-8-6 8-6-8-6 8-8-8-6 8-6-8-6 6-8-6-12 12-6-8-6 6-6-6-12 10-8-6-12 10-6-8-12 10-8-8-10 10-8-8-18 14-8-8-16 12-10-6-16 12-8-8-16 12-10-6-10 8-8-6-12 8-8-6-12 10-6-8-10 10-10-6zM1162 447l-11-1 3-5-5-3-4 4h-6l-10-8-6 6-6-6-6 6-8-8-12 14-6-8-6 6-8-8-12 14-6-12-12 16-8-12-12 14-6-12-12 14-6-12-14 14-6-12-12 14-6-12-22 18-15 5 32 62 35 39 14 10 40 14h38l18-4 21-13-2-2 10-14-2-2 4-2v-10l6-6-4-2 4-2-2-8 4-2-2-2 8-16-2-4 4-2-2-4 14-28-4-4 8-10-4-10z"/><path fill="#51c091" d="M2070 379l-17 5-8 6-18 4-32 16-22 6-32 16-24 6-8 6-46 16-8 6-48 16-8 6-22 6-8 6-152 56-8 6-46 16-8 6-18 4-8 6-16 4-50 24-42 14-26 14-48 16-8 6-16 4-32 16-48 16-8 6-22 6-8 6-42 14-8 6-22 6-8 6-16 4-20 10-344-116-8-6-38-12-22-12-12-2-8-6-20-6-54-26-40-12-8-6-100-30-26-4-28-10h-12l-162-48-14-8-40-10-22-10-38-10-16-8-38-10-8-6-19-5 41-15 8-6 18-4 32-16 22-6 32-16 24-6 8-6 46-16 8-6 24-6 8-6 22-6 38-18 22-6 10-6 22-6 8-6 22-6 8-6 54-18 8-6 16-4 32-16 18-4 8-6 16-4 32-16 16-4 39-57 23-23 20-12 16-2 14 4 30 30h6l8-6 22-6 32-16 18-4 8-6 22-6 8-6 16-4 8-6 48-16 20-10 42 16 38 10 22 10 26 6 8 6 80 24 8 6 24 6 10 6 18 4 8 6 18 4 74 30 36 18 12 2 33 17-3 3h-8l-22-12-8 6-18-10-8 6-18-10-4 4h-8l-8-6-8 6-12-8-8 6-12-8-4 4h-6l-8-6-4 4-10-4-8 6-12-8-4 4-8-4-6 6-6-4-8 4-12-8-4 4-10-4-4 4-8-4-4 4-8-4-10 4-4-4-6 6-6-6-4 4-10-4-10 8-8-4-4 4-10-4-8 4-4-4-10 8-10-4-10 6-8-4-8 4-6-4-8 6h-6l-4-4-10 8-8-6-18 12-8-6-10 8-10-6-10 8-8-4-16 10-10-6-10 8-8-4-10 6-10-4-8 6h-6l-4-4-10 8-10-6-6 4 17 55 14 34 8 32 12 28 6 26 46 114 18 34 18 26 27 27 26 16 2 4 34 8 46-2 20-6 19-11-2-2 6-4-2-2 6-6-2-4 8-8-4-2 2-10-4-12 10-18-8-2 6-2-4-2 4-2v-4l-5 1v4l-3-1v-4l10-20-2-6h4l-2-6 34-74 52-90 35-35 28-14h34l30 12 56 42 22 22 40 30 22 12 2 4 20 10 38 12h40l44-12 8-6 14-4 3-3-2-2 8-4-4-2 8-6-2-2 8-6-2-2 8-4-4-2 4-4-4-2 2-10-6-2 6-4-6-6 4-8-6-2 3-5-9-1 4-4-6-2 4-4-9-1 2-6h-10l3-5-11-3 3-5-9-1 2-6-16-4 2-6-16-2 2-8-24-4 4-6 42 12 20 2 22 8 18 2 168 50 14 8 40 10 22 10 32 8 14 8 46 12 8 6zM485 372h8l35-35 40-56 5-15-48 18 2 6-20 6 2 6-15 5 6 4-12 4 6 4-9 1 3 5-10 4 4 4-10 2 4 4-4 2 6 8-4 2v4l4 2-2 6 9 5zM944 391l43-27h6l12-10 32-10h20l18 4 31 21-1 7-16 2-22 16-10-8-10 10-8-8-12 10-8-8-12 12-6-8-6 6-8-8-12 12-6-6-6 6-16-8 1-3z"/><path fill="#5fc382" d="M923 580l-18 4-6-6-22 14-8-6-12 8-8-6-10 8-8-4-10 4-4-4-10 8-8-4-4 4-10-4-4 4-8-4-4 4-10-4-8 4-10-8-8 6-6-4-8 4-12-8-6 6-6-4-8 6-12-8-4 4h-6l-16-10-6 6-14-6-4 4h-6l-22-12-6 6h-6l-8-6-32-10-8-6-72-20 2-6-24-6 3-5-5-3h-12l-1-3 4-4-9-1 3-5-11-3 2-6h-10l3-5-10-4 3-5-11-1 4-8-6-2 6-4-4-2 1-3-9-3 4-2-6-6 10-8-4-10 8-6-2-6 6-4-2-2 13-7 2-6 32-14 32-8 16-10 35-35 40-56 8-18 18-26 8-18 58-96 37-41 20-12 16-2 14 4 33 33 36 70 6 22 14 30 8 30 6 10 14 50 12 28 8 32 12 26 8 28 26 60 20 36-2 14 4 4v6l-9-1 3 7-10 2 6 4-1 3-22 4 5 7zM1598 465l-10 4 3 5-14 2 2 6-14 4 4 6-22 6 5 5-1 3-42 12-50 24-12-4-20 12h-6l-4-4-8 6-12-4-8 6h-6l-4-4-10 8-10-4-8 4-4-4-10 8-10-4-8 4-10-8-4 4-10-4-8 6-12-8-8 6-24-12-28-8h-10l3-9-11-1v-6h-8v-8l-6 4-2-14-7 3 4-8h-6l4-6h-4v-8h4l-4-6h4v-6l-8-2 4-2v-6h-4l4-12-2-4 4-2-2-2 6-6-2-2 56-106 12-18 35-35 28-14h34l30 12 56 42 22 22 40 30 22 12 2 4 20 10 24 6 30 16 4 6 7 3-2 10 6 8-4 2v4l6 4-12 4z"/><path fill="#6ac576" d="M875 562l-8-8-14 10-6-8-10 10-8-6-10 10-10-6-6 6-6-6-6 6-8-6-6 6-6-6-6 6-8-6-6 8-12-12-6 8-8-6-8 6-12-8-8 6-10-10-6 8-14-8-8 6-18-12-8 8-26-14-8 8-18-10-18-4-8-6-42-12h-10l2-10-24-2 2-10h-16l-1-3 4-4-17-3 3-5-10-2 4-6-6-2 4-4-9-1 2-6-11-1 4-8-6-2 4-4-4-2v-8l4-4-4-2v-8l6-6-2-2 8-6-2-2 23-19 32-16 35-35 40-56 8-18 18-26 60-106 20-26 23-23 26-14 24 4 25 23 12 16 32 64 6 22 14 30 8 30 6 10 34 110 6 10 26 74 14 26 4 12-2 2 4 2-4 4 6 12v8l-7-3 1 7-10 2 6 6-1 3h-12l-18 6zM1542 457l-17 3 5 5-1 3-22 4 5 5-1 3-36 10-38 20h-4l-6-6-24 14-8-6-16 12-10-6-6 4-6-6-10 10-8-6-6 6-8-6-6 6-6-6-6 6-8-6-8 6-10-8-10 6-18-10-6 6-24-6 3-9-5-3h-20l3-7h-10l3-9-11 5 4-8h-6l6-10h-4l4-8-9 5-3-3 1-3 3 1v-6l-5 3-3-3 4-2-4-2 6-2-4-2 4-2-6-4 18-44 52-90 35-35 16-10 12-4h34l18 6 2 4h6l22 14 86 72 26 18h4l2 4h4l2 4 12 4 14 12 10 4 5 7-2 2 4 2-4 10 6 4-4 2 4 4-9 1 3 5-10 4 4 4-10 2z"/><path fill="#78c767" d="M867 528l-8-8-12 10-8-10-12 12-6-8-12 14-8-8-6 6-6-8-6 8-8-6-6 6-6-6-6 8-14-14-6 10-6-8-6 10-14-12-6 8-14-10-8 8-18-14-6 10-20-14-8 10-32-18-18-4-8-6-52-10 2-10h-16l2-10-16 2 3-9-11 1v-8h-8v-6l-7 1v-18h-10l2-12-4-2 10-8-1-3-3 1 2-6 62-60 8-14 12-12 46-74 60-106 20-26 23-23 26-14 24 4 25 23 12 16 32 64 6 22 14 30 8 30 6 10 34 110 12 26 8 28 8 14 8 22-2 2 4 2-4 2 6 2-4 2 4 8-4 4 3 9-8-6 2 10-14-2 2 10-16 4zM1502 431l-15 1 2 10h-10l-28 10 2 10-16 4-6-8-14 6-22 16-8-8-16 12-10-6-12 10-6-8-6 6-8-6-6 6-6-8-6 8-8-6-6 6-6-6-6 8-14-10-8 8-18-10-24-6 2-10h-12l-6 4 5-11-14 4 6-10h-4l4-8-9 3-3-5h4v-8l-3 1-5-7h6l-4-2 1-3 3 1-4-4 1-3 3 1-2-6 22-44 32-52 35-35 16-10 12-4h34l18 6 2 4h6l22 14 22 20 16 10 22 22 48 34 17 17 4 14-8 2 3 11-11 1 6 4-1 3-9 1z"/><path fill="#88c957" d="M853 492l-8-12-12 14-8-12-12 16-6-10-6 8-8-10-6 8-6-8-6 8-8-8-6 10-6-8-6 10-6-8-8 10-12-14-6 10-14-14-6 12-20-18-8 12-18-14-8 12-40-22-26-8-26-2 4-14-24 2 2-10-16 2 3-9-11 1 2-10-9 3 2-14-10 2 2-12-4-4v-12l12-18 24-24 40-56 8-18 18-26 60-106 20-26 23-23 26-14 24 4 25 23 12 16 32 64 6 22 14 30 8 30 6 10 34 110 24 62-4 4 6 2-4 2 4 2-4 2 4 2-2 4-8-2 6 10-10-2 3 11-24 2-12 6zM1468 397l-15 1 4 10-42 8-36 22-8-10-16 14-8-8-12 12-8-8-6 6-6-6-6 6-6-6-6 8-14-12-8 8-18-12-6 10-13-3 4-10-5-3-20 4 2-12-8 6-3-1 6-10h-6l6-10-9 5-3-5h4v-6l-6-2 4-2-2-2 8-14-2-4 36-60 35-35 28-14h34l18 6 2 4h6l22 14 81 67 8 10-2 10 4 4h-8l2 4-4 2 4 6-8 2z"/><path fill="#9ec44c" d="M879 444l-22 8-8-14-18 18-6-12-11 9-3 7-6-12-6 8-6-12-12 22-8-12-6 12-14-20-6 12-6-8-6 12-14-18-6 12-14-12-6 12-20-18-8 12-24-18-8 16-26-14-34-6 4-14h-24l4-12-18 4 5-11-5-1-8 4 5-11-9 3 2-10-11 5 4-8-3 1 1-7h-4l4-8-4-4v-10l50-68 8-18 18-26 60-106 20-26 23-23 20-12 16-2 14 4 25 23 12 16 32 64 6 22 14 30 8 30 6 10 34 110 8 16v16h4l-4 8h4v12l-10-8 8 14-20-4 6 10zM1220 375l4-8-4-4 1-3 3 1v-6l-4-4 24-40 35-35 28-14h34l30 12 56 42 17 17v10l4 4h-10l4 4v8l-8 2 1 7h-16l-5 3 3 9-22 6-16 10-8-10-20 14-6-10-12 12-6-8-14 14-6-8-6 8-14-14-8 10-24-16h-18l3-9-11 1 2-10-8 6z"/><path fill="#b3bf41" d="M851 420l-3-1-7-15-16 16-8-12-12 18-8-14-6 10-6-12-6 12-6-12-8 12-6-12-6 12-6-8-6 12-14-18-8 12-12-14-6 14-14-14-5 13-3 1-32-24-8 18-10-8-34-8 4-16-24 2 4-14-18 4-1-3 6-10-3-1-10 6 4-14-10 8-3-1 5-11-8 6-3-1 4-6h-4l4-8-4-4 4-2v-4l-6-2 4-2-2-2 30-42 8-18 18-26 60-106 20-26 23-23 20-12 16-2 14 4 25 23 12 16 32 64 6 22 8 14 56 168-1 5-4-8-3 5h4l-2 4 4 2-1 7-11-7 8 14-17-5 5 15zM1240 345v-8l4-6-5 1-1-7 6-8-2-2 4-2-2-2 35-35 28-14h34l18 6 2 4h6l22 14 25 21-2 10 4 6-9-1 3 5-10 2 3 9h-16l-18 6-24 16-8-8-12 12-6-10-6 8-8-8-6 8-6-6-6 10-14-10-26-4 2-8z"/><path fill="#c8ba36" d="M859 378l-24 8-6-14-15 15-3 7-7-15-7 7-6-12-12 24-8-14-6 12-14-22-6 12-6-8-6 14-14-18-6 14-14-14-5 13-3 1-24-22-8 18-18-12-34-8 4-18-32 6 5-13-12 2 6-12-3-1-8 6 2-12-6 6-7 1 6-10h-4v-8h4v-6l-6-2 4-2v-8l94-162 20-26 23-23 20-12 16-2 14 4 25 23 12 16 32 64 6 22 14 30 8 30 6 10 24 76v8l-5-5 1 9h-4l6 14-3 1-10-8-5 1zM1264 305v-14l15-15 28-14h34l18 6 2 4h6l9 9v4l-4 2 4 4-4 2 6 6-23 3 5 11-11 3-8-8-18 14-6-8-6 6-8-6-8 8-12-8-10-2v-8z"/><path fill="#d8b731" d="M853 344l-12-2-20 10-6-14-12 14-6-14-14 20-6-12-6 12-6-12-6 12-8-10-6 12-14-18-6 14-12-16-5 13-3 1-20-18-5 15-3 1-10-10-20-10-14-4-28 2 5-17-5-1-8 6h-6l5-15-10 4 4-12-12 6 4-10-3 1-1-3 4-8-9 7-3-3 4-2-4-2 4-2-2-2 10-24 12-16 60-106 20-26 35-31 14-6 24 4 25 23 12 16 32 64 42 116 4 34-7-7-1 5 4 8-12-4z"/><path fill="#e2b631" d="M845 308l-12-4-24 16-8-16-12 18-6-14-6 12-8-14-6 12-6-12-5 13-7-9-8 16-12-22-6 16-9-7-5-9-5 17-3 1-18-18-20-12-28-4-20 6 5-17-12 4 6-14-3-1-8 6 2-12-8 8-3-1v-10h4l-4-4 1-3 3 1-2-12 62-108 20-26 35-31 14-6 24 4 25 23 12 16 32 64 36 98 2 20-7-7v8l-7-3z"/><path fill="#ebb432" d="M837 272l-18-6-12 8-10 12-3-1-5-13-14 20-6-14-6 12-6-12-6 14-14-22-5 15-3 1-12-18-5 15-3 1-18-18-5 17-5 1-16-12-28-4 4-18-24 10 5-17-13 7 4-14-9 9 4-12-6 2v-8h4l-2-10 50-86 20-26 35-31 14-6h10l14 4 8 6 29 33 32 64 6 22 16 36-2 10 3-1-1 5 4 2v16l-10-8z"/><path fill="#f5b333" d="M819 248h-6l-4 4-10-18-18 20-6-14-6 12-8-14-6 12-6-10-6 12-6-8-8 16-9-15-11-11-6 16-26-18-14-4h-14l-12 6 5-17-3-1-10 6 5-15-11 7-1-13h4l-2-4-7 7-1-3 10-16-2-2 6-12 12-16 12-24 20-26 35-31 14-6h10l14 4 33 33 36 70 6 22 12 26-3 1-5-7-2 6h4l-2 4 4 2-1 9-10-8-5 1z"/><path fill="#f6bf31" d="M811 212l-6-2-18 10-6-14-12 18-8-12-6 12-6-12-6 14-14-18-5 13-3 1-18-20-8-4-8 18-4-4-21-5 5-17-26 8 7-15-11 7 3-11-3 1-1-3 4-6-5 3-1-3 20-40 20-26 35-31 14-6h10l14 4 8 6 29 33 36 76-1 7-5-3 1 9-4-4-5 1z"/><path fill="#f4cf2e" d="M803 178l-12-2-10 8-8-14-12 18-8-12-6 12-6-12-6 14-20-22-6 14-20-10h-20l5-15-7-1-10 6-1-5 4-8-5 1-1-3 4-6-5 3-3-5 24-34 23-23 26-14 18 2 14 8 29 33 22 44-2 6h4l-3 7-7-3 6 10z"/><path fill="#f2de2b" d="M783 146l-10 4-8-12-12 14-6-10-6 12-14-16-8 12-18-12-20-2 4-12h-6l-12 8 5-11h-6l8-16 23-23 20-12 16-2 14 4 8 6 29 33 8 18-6-2 3 9-9-3 4 8z"/><path fill="#f0ed29" d="M770 105l-15 9-10-8-6 8-14-12-8 12-4-4-12-2-1-5 4-6-9 1 1-7-3 1-1-3 17-15 14-6h10l14 4 19 17v10z"/></g></svg><g font-size="23" fill="#222"><text x="54" y="1394.7" text-anchor="end">30</text><text x="54" y="1425.3" text-anchor="end">20</text><text x="54" y="1455.9" text-anchor="end">10</text><text x="54" y="1486.4" text-anchor="end">0</text><text x="54" y="1517" text-anchor="end">−10</text><text x="54" y="1547.6" text-anchor="end">−20</text><text x="54" y="1578.2" text-anchor="end">−30</text><text x="35.6" y="1598" text-anchor="middle">1 500</text><text x="101.3" y="1617.9" text-anchor="middle">1 000</text><text x="178.2" y="1640.9" text-anchor="middle">500</text><text x="261" y="1664.5" text-anchor="middle">0</text><text x="289" y="1664.5" text-anchor="middle">0</text><text x="364.3" y="1640.6" text-anchor="middle">500</text><text x="439" y="1614" text-anchor="middle">1 000</text><text x="500" y="1589.5" text-anchor="middle">1 500</text></g><rect x="527" y="1300" width="440" height="380" fill="#fff"/><svg x="527" y="1300" width="480" height="380" viewBox="527 1300 480 380"><path d="M548 1570.1L747.1 1490.1M747.1 1490.1L961 1564.1M548 1525.2L747.1 1445.2M747.1 1445.2L961 1519.2M548 1480.2L747.1 1400.2M747.1 1400.2L961 1474.2M548 1435.3L747.1 1355.3M747.1 1355.3L961 1429.3M548 1390.4L747.1 1310.4M747.1 1310.4L961 1384.4M548 1570.1L548 1390.4M747.1 1490.1L747.1 1310.4M614.4 1543.4L614.4 1363.7M818.4 1514.8L818.4 1335.1M680.7 1516.8L680.7 1337.1M889.7 1539.4L889.7 1359.7M747.1 1490.1L747.1 1310.4M961 1564.1L961 1384.4M690.6 1619.4L889.7 1539.4M828.3 1617.4L614.4 1543.4M619.3 1594.8L818.4 1514.8M894.6 1590.8L680.7 1516.8" stroke="#e3e3e3" stroke-width="1.1" fill="none"/><path d="M548 1570.1L548 1390.4" stroke="#8a8a8a" stroke-width="1.3" fill="none"/><path d="M548 1570.1L761.9 1644.1M761.9 1644.1L961 1564.1M548 1570.1L544 1568.8M548 1525.2L544 1523.9M548 1480.2L544 1479M548 1435.3L544 1434M548 1390.4L544 1389.1M761.9 1644.1L765.9 1642.5M761.9 1644.1L757.9 1642.7M690.6 1619.4L694.6 1617.8M828.3 1617.4L824.3 1616M619.3 1594.8L623.3 1593.2M894.6 1590.8L890.6 1589.4M548 1570.1L552 1568.5M961 1564.1L957 1562.7" stroke="#8a8a8a" stroke-width="1.3" fill="none"/><svg x="576" y="1411" width="359" height="136" viewBox="576 1411 359 136"><g transform="translate(576 1411) scale(0.1667 0.1667)" fill-rule="evenodd"><path fill="#4236af" d="M2138 395l-13 3-26 14-18 4-8 6-18 4-8 6-36 12-8 6-18 4-8 6-18 4-8 6-42 14-8 6-12 2-8 6-74 26-8 6-18 4-8 6-50 16-8 6-42 14-8 6-44 14-26 14-18 4-46 22-12 2-8 6-30 10-31 53-34 46-23 23-20 12-32 2-10-4-32-24-22-26-14 8-18 4-8 6-18 4-8 6-18 4-26 14-44 14-8 6-50-20-32-8-8-6-20-4-16-8-32-8-8-6-68-20-8-6-26-6-8-6-26-6-8-6-20-4-8-6-54-18-8-6-26-8-8-6h-6l-8-6h-6l-84-38-12-2-8-6-26-6-8-6-246-68-16-8-46-12-8-6-68-20-8-6-32-8-44-18-32-8-7-5 17-5 8-6 18-4 8-6 12-2 32-16 18-4 8-6 18-4 8-6 36-12 8-6 44-14 8-6 42-14 8-6 18-4 8-6 44-14 32-16 24-6 8-6 18-4 8-6 44-14 26-14 18-4 8-6 36-12 8-6 38-12 26-14 12-2 34-36 24-12h20l2 4 16 4 256-102 28 8 8 6 34 8 8 6 26 6 8 6 26 6 8 6 26 6 10 6 52 16 8 6 20 4 8 6 40 12 8 6 26 8 22 12 12 2 22 12 34 12 8 6 12 2 8 6 20 6 8 6 12 2 8 6 46 14 10 6 246 66 14 8 54 14 8 6 40 10 8 6 34 8 8 6 26 6 8 6 26 6 16 8z"/><path fill="#433bb5" d="M2138 395l-13 3-26 14-18 4-8 6-18 4-8 6-36 12-8 6-18 4-8 6-18 4-8 6-42 14-8 6-12 2-8 6-74 26-8 6-18 4-8 6-50 16-8 6-42 14-8 6-44 14-26 14-18 4-46 22-12 2-8 6-30 10-45 73-37 43-12 4-8-2-6 6-4-4-10 4-6-6-14 4-6-10h-14l-18-10-2 2-22-22-14 8-18 4-8 6-18 4-8 6-18 4-26 14-44 14-8 6-50-20-32-8-8-6-20-4-16-8-32-8-8-6-68-20-8-6-26-6-8-6-26-6-8-6-20-4-8-6-54-18-8-6-26-8-8-6h-6l-8-6h-6l-84-38-12-2-8-6-26-6-8-6-246-68-16-8-46-12-8-6-68-20-8-6-32-8-44-18-32-8-7-5 17-5 8-6 18-4 8-6 12-2 32-16 18-4 8-6 18-4 8-6 36-12 8-6 44-14 8-6 42-14 8-6 18-4 8-6 44-14 32-16 24-6 8-6 18-4 8-6 44-14 26-14 18-4 8-6 36-12 8-6 38-12 26-14 12-2 34-36 24-12h20l2 4 16 4 256-102 28 8 8 6 34 8 8 6 26 6 8 6 26 6 8 6 26 6 10 6 52 16 8 6 20 4 8 6 40 12 8 6 26 8 22 12 12 2 22 12 34 12 8 6 12 2 8 6 20 6 8 6 12 2 8 6 46 14 10 6 246 66 14 8 54 14 8 6 40 10 8 6 34 8 8 6 26 6 8 6 26 6 16 8z"/><path fill="#4543c0" d="M2138 395l-13 3-26 14-18 4-8 6-18 4-8 6-36 12-8 6-18 4-8 6-18 4-8 6-42 14-8 6-12 2-8 6-74 26-8 6-18 4-8 6-50 16-8 6-42 14-8 6-44 14-26 14-38 12-46 22-18 4-15 9-8 18-34 52-23 21h-12l-8 8-12-10-8 8-6-8-14 12-6-12-14 6-8-14-12 2-24-10v8l-6-4-12 4-8 6-18 4-8 6-44 14-26 14-18 4-8 6-18 4-8 6-50-20-32-8-8-6-20-4-16-8-32-8-8-6-68-20-8-6-26-6-8-6-26-6-8-6-20-4-8-6-54-18-8-6-26-8-8-6h-6l-8-6h-6l-84-38-12-2-8-6-26-6-8-6-246-68-16-8-46-12-8-6-68-20-8-6-32-8-44-18-32-8-7-5 17-5 8-6 18-4 8-6 12-2 32-16 18-4 8-6 18-4 8-6 36-12 8-6 44-14 8-6 42-14 8-6 18-4 8-6 44-14 32-16 24-6 8-6 18-4 8-6 44-14 26-14 18-4 8-6 36-12 8-6 38-12 26-14 12-2 34-36 24-12h20l2 4 16 4 256-102 28 8 8 6 34 8 8 6 26 6 8 6 26 6 8 6 26 6 10 6 52 16 8 6 20 4 8 6 40 12 8 6 26 8 22 12 12 2 22 12 34 12 8 6 12 2 8 6 20 6 8 6 12 2 8 6 46 14 10 6 246 66 14 8 54 14 8 6 40 10 8 6 34 8 8 6 26 6 8 6 26 6 16 8z"/><path fill="#464fc7" d="M2138 395l-13 3-26 14-18 4-8 6-18 4-8 6-36 12-8 6-18 4-8 6-18 4-8 6-42 14-8 6-12 2-8 6-74 26-8 6-18 4-8 6-50 16-8 6-42 14-8 6-44 14-26 14-38 12-46 22-18 4-15 9-28 50-17 17-12 4-14-6-6 12-12-14-8 10-6-12-3 7-11 9-6-12-14 10-5-11-7-3-40 12-26 14-18 4-8 6-44 14-26 14-18 4-8 6-18 4-8 6-50-20-32-8-8-6-20-4-16-8-32-8-8-6-68-20-8-6-26-6-8-6-26-6-8-6-20-4-8-6-54-18-8-6-26-8-8-6h-6l-8-6h-6l-84-38-12-2-8-6-26-6-8-6-246-68-16-8-46-12-8-6-68-20-8-6-32-8-44-18-32-8-7-5 17-5 8-6 18-4 8-6 12-2 32-16 18-4 8-6 18-4 8-6 36-12 8-6 44-14 8-6 42-14 8-6 18-4 8-6 44-14 32-16 24-6 8-6 18-4 8-6 44-14 26-14 18-4 8-6 36-12 8-6 38-12 26-14 12-2 34-36 24-12h20l2 4 16 4 256-102 28 8 8 6 34 8 8 6 26 6 8 6 26 6 8 6 26 6 10 6 52 16 8 6 20 4 8 6 40 12 8 6 26 8 22 12 12 2 22 12 34 12 8 6 12 2 8 6 20 6 8 6 12 2 8 6 46 14 10 6 246 66 14 8 54 14 8 6 40 10 8 6 34 8 8 6 26 6 8 6 26 6 16 8z"/><path fill="#465bcd" d="M2138 395l-13 3-26 14-18 4-8 6-18 4-8 6-36 12-8 6-18 4-8 6-18 4-8 6-42 14-8 6-12 2-8 6-74 26-8 6-18 4-8 6-50 16-8 6-42 14-8 6-44 14-26 14-38 12-46 22-18 4-15 9-8 18-17 19-3-1 2-6h-4l-7 15h-14l-12-10-6 12-8-6-6 10-6-10-8 12-6-12-6 8-2-4-26 8-8 6-44 14-26 14-18 4-8 6-44 14-26 14-18 4-8 6-18 4-8 6-50-20-32-8-8-6-20-4-16-8-32-8-8-6-68-20-8-6-26-6-8-6-26-6-8-6-20-4-8-6-54-18-8-6-26-8-8-6h-6l-8-6h-6l-84-38-12-2-8-6-26-6-8-6-246-68-16-8-46-12-8-6-68-20-8-6-32-8-44-18-32-8-7-5 17-5 8-6 18-4 8-6 12-2 32-16 18-4 8-6 18-4 8-6 36-12 8-6 44-14 8-6 42-14 8-6 18-4 8-6 44-14 32-16 24-6 8-6 18-4 8-6 44-14 26-14 18-4 8-6 36-12 8-6 38-12 26-14 12-2 34-36 24-12h20l2 4 16 4 256-102 28 8 8 6 34 8 8 6 26 6 8 6 26 6 8 6 26 6 10 6 52 16 8 6 20 4 8 6 40 12 8 6 26 8 22 12 12 2 22 12 34 12 8 6 12 2 8 6 20 6 8 6 12 2 8 6 46 14 10 6 246 66 14 8 54 14 8 6 40 10 8 6 34 8 8 6 26 6 8 6 26 6 16 8z"/><path fill="#4767d4" d="M2138 395l-13 3-26 14-18 4-8 6-18 4-8 6-36 12-8 6-18 4-8 6-18 4-8 6-42 14-8 6-12 2-8 6-74 26-8 6-18 4-8 6-50 16-8 6-42 14-8 6-44 14-26 14-38 12-46 22-18 4-16 8-16 16-12 4-10-4-8 2-28 14-18 4-8 6-36 12-8 6-44 14-26 14-18 4-8 6-44 14-26 14-44 14-8 6-50-20-32-8-8-6-20-4-16-8-32-8-8-6-68-20-8-6-26-6-8-6-26-6-8-6-20-4-8-6-54-18-8-6-26-8-8-6h-6l-8-6h-6l-84-38-12-2-8-6-26-6-8-6-246-68-16-8-46-12-8-6-68-20-8-6-32-8-44-18-32-8-7-5 17-5 8-6 18-4 8-6 12-2 32-16 18-4 8-6 18-4 8-6 36-12 8-6 44-14 8-6 42-14 8-6 18-4 8-6 44-14 32-16 24-6 8-6 18-4 8-6 44-14 26-14 18-4 8-6 36-12 8-6 38-12 26-14 12-2 34-36 24-12h20l2 4 16 4 256-102 28 8 8 6 34 8 8 6 26 6 8 6 26 6 8 6 26 6 10 6 52 16 8 6 20 4 8 6 40 12 8 6 26 8 22 12 12 2 22 12 34 12 8 6 12 2 8 6 20 6 8 6 12 2 8 6 46 14 10 6 246 66 14 8 54 14 8 6 40 10 8 6 34 8 8 6 26 6 8 6 26 6 16 8z"/><path fill="#4672d6" d="M2138 395l-13 3-26 14-18 4-8 6-18 4-8 6-36 12-8 6-18 4-8 6-18 4-8 6-42 14-8 6-12 2-8 6-74 26-8 6-18 4-8 6-50 16-8 6-42 14-8 6-44 14-26 14-18 4-46 22-38 12-26 14-12 2-8 6-36 12-8 6-18 4-8 6-36 12-8 6-18 4-8 6-18 4-26 14-18 4-8 6-44 14-26 14-18 4-8 6-18 4-8 6-50-20-32-8-8-6-20-4-16-8-32-8-8-6-68-20-8-6-26-6-8-6-26-6-8-6-20-4-8-6-54-18-8-6-26-8-8-6h-6l-8-6h-6l-84-38-12-2-8-6-26-6-8-6-246-68-16-8-46-12-8-6-68-20-8-6-32-8-44-18-32-8-7-5 17-5 8-6 18-4 8-6 12-2 32-16 18-4 8-6 18-4 8-6 36-12 8-6 44-14 8-6 42-14 8-6 18-4 8-6 44-14 32-16 24-6 8-6 18-4 8-6 44-14 26-14 18-4 8-6 36-12 8-6 38-12 26-14 12-2 34-36 24-12h20l2 4 16 4 256-102 28 8 8 6 34 8 8 6 26 6 8 6 26 6 8 6 26 6 10 6 52 16 8 6 20 4 8 6 40 12 8 6 26 8 22 12 12 2 22 12 34 12 8 6 12 2 8 6 20 6 8 6 12 2 8 6 46 14 10 6 246 66 14 8 54 14 8 6 40 10 8 6 34 8 8 6 26 6 8 6 26 6 16 8z"/><path fill="#437cd6" d="M2138 395l-13 3-26 14-18 4-8 6-18 4-8 6-36 12-8 6-18 4-8 6-18 4-8 6-42 14-8 6-12 2-8 6-74 26-8 6-18 4-8 6-50 16-8 6-42 14-8 6-44 14-26 14-18 4-46 22-38 12-26 14-12 2-8 6-36 12-8 6-18 4-8 6-36 12-8 6-18 4-8 6-18 4-26 14-18 4-8 6-44 14-26 14-18 4-8 6-18 4-8 6-50-20-32-8-8-6-20-4-16-8-32-8-8-6-68-20-8-6-26-6-8-6-26-6-8-6-20-4-8-6-54-18-8-6-26-8-8-6h-6l-8-6h-6l-84-38-12-2-8-6-26-6-8-6-246-68-16-8-46-12-8-6-68-20-8-6-32-8-44-18-32-8-7-5 17-5 8-6 18-4 8-6 12-2 32-16 18-4 8-6 18-4 8-6 36-12 8-6 44-14 8-6 42-14 8-6 18-4 8-6 44-14 32-16 24-6 8-6 18-4 8-6 44-14 26-14 18-4 8-6 36-12 8-6 38-12 26-14 12-2 34-36 24-12h20l2 4 16 4 256-102 28 8 8 6 34 8 8 6 26 6 8 6 26 6 8 6 26 6 10 6 52 16 8 6 20 4 8 6 40 12 8 6 26 8 22 12 12 2 22 12 34 12 8 6 12 2 8 6 20 6 8 6 12 2 8 6 46 14 10 6 246 66 14 8 54 14 8 6 40 10 8 6 34 8 8 6 26 6 8 6 26 6 16 8z"/><path fill="#4187d6" d="M2138 395l-13 3-26 14-18 4-8 6-18 4-8 6-36 12-8 6-18 4-8 6-18 4-8 6-42 14-8 6-12 2-8 6-74 26-8 6-18 4-8 6-50 16-8 6-42 14-8 6-44 14-26 14-18 4-46 22-38 12-26 14-12 2-8 6-36 12-8 6-18 4-8 6-36 12-8 6-18 4-8 6-18 4-26 14-18 4-8 6-44 14-26 14-18 4-8 6-18 4-8 6-50-20-32-8-8-6-20-4-16-8-32-8-8-6-68-20-8-6-26-6-8-6-26-6-8-6-20-4-8-6-54-18-8-6-26-8-8-6h-6l-8-6h-6l-84-38-12-2-8-6-26-6-8-6-246-68-16-8-46-12-8-6-68-20-8-6-32-8-44-18-32-8-7-5 17-5 8-6 18-4 8-6 12-2 32-16 18-4 8-6 18-4 8-6 36-12 8-6 44-14 8-6 42-14 8-6 18-4 8-6 44-14 32-16 24-6 8-6 18-4 8-6 44-14 26-14 18-4 8-6 36-12 8-6 38-12 26-14 12-2 34-36 24-12h20l2 4 16 4 256-102 28 8 8 6 34 8 8 6 26 6 8 6 26 6 8 6 26 6 10 6 52 16 8 6 20 4 8 6 40 12 8 6 26 8 22 12 12 2 22 12 34 12 8 6 12 2 8 6 20 6 8 6 12 2 8 6 46 14 10 6 246 66 14 8 54 14 8 6 40 10 8 6 34 8 8 6 26 6 8 6 26 6 16 8z"/><path fill="#3e91d4" d="M2138 395l-13 3-26 14-18 4-8 6-18 4-8 6-36 12-8 6-18 4-8 6-18 4-8 6-42 14-8 6-12 2-8 6-74 26-8 6-18 4-8 6-50 16-8 6-42 14-8 6-44 14-26 14-18 4-46 22-38 12-26 14-12 2-8 6-36 12-8 6-18 4-8 6-36 12-8 6-18 4-8 6-18 4-26 14-18 4-8 6-44 14-26 14-18 4-8 6-18 4-8 6-50-20-32-8-8-6-20-4-16-8-32-8-8-6-68-20-8-6-26-6-8-6-26-6-8-6-20-4-8-6-54-18-8-6-26-8-8-6h-6l-8-6h-6l-84-38-12-2-8-6-26-6-8-6-246-68-16-8-46-12-8-6-68-20-8-6-32-8-44-18-32-8-7-5 17-5 8-6 18-4 8-6 12-2 32-16 18-4 8-6 18-4 8-6 36-12 8-6 44-14 8-6 42-14 8-6 18-4 8-6 44-14 32-16 24-6 8-6 18-4 8-6 44-14 26-14 18-4 8-6 36-12 8-6 38-12 26-14 12-2 34-36 24-12h20l2 4 16 4 256-102 28 8 8 6 34 8 8 6 26 6 8 6 26 6 8 6 26 6 10 6 52 16 8 6 20 4 8 6 40 12 8 6 26 8 22 12 12 2 22 12 34 12 8 6 12 2 8 6 20 6 8 6 12 2 8 6 46 14 10 6 246 66 14 8 54 14 8 6 40 10 8 6 34 8 8 6 26 6 8 6 26 6 16 8zM1223 438l5-9-3-7-9 11zM1208 429l-3-5-3 3z"/><path fill="#3a9acf" d="M2138 395l-13 3-26 14-18 4-8 6-18 4-8 6-36 12-8 6-18 4-8 6-18 4-8 6-42 14-8 6-12 2-8 6-74 26-8 6-18 4-8 6-50 16-8 6-42 14-8 6-44 14-26 14-18 4-46 22-38 12-26 14-12 2-8 6-36 12-8 6-18 4-8 6-36 12-8 6-18 4-8 6-18 4-26 14-18 4-8 6-44 14-26 14-18 4-8 6-18 4-8 6-50-20-32-8-8-6-20-4-16-8-32-8-8-6-68-20-8-6-26-6-8-6-26-6-8-6-20-4-8-6-54-18-8-6-26-8-8-6h-6l-8-6h-6l-84-38-12-2-8-6-26-6-8-6-246-68-16-8-46-12-8-6-68-20-8-6-32-8-44-18-32-8-7-5 17-5 8-6 18-4 8-6 12-2 32-16 18-4 8-6 18-4 8-6 36-12 8-6 44-14 8-6 42-14 8-6 18-4 8-6 44-14 32-16 24-6 8-6 18-4 8-6 44-14 26-14 18-4 8-6 36-12 8-6 38-12 26-14 12-2 34-36 24-12h20l2 4 16 4 256-102 28 8 8 6 34 8 8 6 26 6 8 6 26 6 8 6 26 6 10 6 52 16 8 6 20 4 8 6 40 12 8 6 26 8 22 12 12 2 22 12 34 12 8 6 12 2 8 6 20 6 8 6 12 2 8 6 46 14 10 6 246 66 14 8 54 14 8 6 40 10 8 6 34 8 8 6 26 6 8 6 26 6 16 8zM1223 438l23-45-3-3-6 8-6-12-14 18-6-12-6 10-8-14-17 21 17 15zM1175 406l1-3-5-7-3 3z"/><path fill="#36a4ca" d="M2138 395l-13 3-26 14-18 4-8 6-18 4-8 6-36 12-8 6-18 4-8 6-18 4-8 6-42 14-8 6-12 2-8 6-74 26-8 6-18 4-8 6-50 16-8 6-42 14-8 6-44 14-26 14-18 4-46 22-38 12-26 14-12 2-8 6-36 12-8 6-18 4-8 6-36 12-8 6-18 4-8 6-18 4-26 14-18 4-8 6-44 14-26 14-18 4-8 6-18 4-8 6-50-20-32-8-8-6-20-4-16-8-32-8-8-6-68-20-8-6-26-6-8-6-26-6-8-6-20-4-8-6-54-18-8-6-26-8-8-6h-6l-8-6h-6l-84-38-12-2-8-6-26-6-8-6-246-68-16-8-46-12-8-6-68-20-8-6-32-8-44-18-32-8-7-5 17-5 8-6 18-4 8-6 12-2 32-16 18-4 8-6 18-4 8-6 36-12 8-6 44-14 8-6 42-14 8-6 18-4 8-6 44-14 32-16 24-6 8-6 18-4 8-6 44-14 26-14 18-4 8-6 36-12 8-6 38-12 26-14 12-2 34-36 24-12h20l2 4 16 4 256-102 28 8 8 6 34 8 8 6 26 6 8 6 26 6 8 6 26 6 10 6 52 16 8 6 20 4 8 6 40 12 8 6 26 8 22 12 12 2 22 12 34 12 8 6 12 2 8 6 20 6 8 6 12 2 8 6 46 14 10 6 246 66 14 8 54 14 8 6 40 10 8 6 34 8 8 6 26 6 8 6 26 6 16 8zM1274 351l-5-9-6 12-8-12-12 22-6-12-8 10-6-12-6 10-8-12-12 18-8-14-10 14-8-12-18 18-8-12-11 9v4l13 7 50 44 26 14 19-37zM920 423l3 5 14-4 5-5-5-5-6 8-8-6zM1128 609l-1-5-5 1 3-7-9 3 3-9h-18l-14-12-8 10-6-8-6 8-8-8-6 8-6-10-14 14-6-12-11 9 13 7 2 4 36 14 40 2 18-4-1-3z"/><path fill="#35adc3" d="M2138 395l-13 3-26 14-18 4-8 6-18 4-8 6-36 12-8 6-18 4-8 6-18 4-8 6-42 14-8 6-12 2-8 6-74 26-8 6-18 4-8 6-50 16-8 6-42 14-8 6-44 14-26 14-18 4-46 22-38 12-26 14-12 2-8 6-36 12-8 6-18 4-8 6-36 12-8 6-18 4-8 6-18 4-26 14-18 4-8 6-44 14-26 14-18 4-8 6-18 4-8 6-50-20-32-8-8-6-20-4-16-8-32-8-8-6-68-20-8-6-26-6-8-6-26-6-8-6-20-4-8-6-54-18-8-6-26-8-8-6h-6l-8-6h-6l-84-38-12-2-8-6-26-6-8-6-246-68-16-8-46-12-8-6-68-20-8-6-32-8-44-18-32-8-7-5 17-5 8-6 18-4 8-6 12-2 32-16 18-4 8-6 18-4 8-6 36-12 8-6 44-14 8-6 42-14 8-6 18-4 8-6 44-14 32-16 24-6 8-6 18-4 8-6 44-14 26-14 18-4 8-6 36-12 8-6 38-12 26-14 12-2 34-36 24-12h20l2 4 16 4 256-102 28 8 8 6 34 8 8 6 26 6 8 6 26 6 8 6 26 6 10 6 52 16 8 6 20 4 8 6 40 12 8 6 26 8 22 12 12 2 22 12 34 12 8 6 12 2 8 6 20 6 8 6 12 2 8 6 46 14 10 6 246 66 14 8 54 14 8 6 40 10 8 6 34 8 8 6 26 6 8 6 26 6 16 8zM1308 313l-7-7-6 10-6-8-8 10-6-8-6 10-8-10-6 10-6-10-8 10-6-10-6 10-8-12-12 18-6-10-8 8-6-12-12 16-8-12-12 14-8-12-18 18-8-12-22 18-10-12-16 12-52 24-8-8-18 12-8-6-8 6-6-8-12 12-8-6-6 6-6-6-8 6-6-8-6 8-8-8-6 8-6-8-1 5 21 57 14-4 6-6h8l90-52 32-10 34 2 8 6h8l6 6h4l56 48 34 20 43-75zM1598 415l4-8h-6l4-10-9 3 2-10-18 4 4-12-18 2 4-14-40-2 4-14-30-8-23-11-2 6 3 5 44 30 2 4h4l2 4 18 8 16 12zM1603 418l5-3-1-3-5 3zM1144 601l-2-8 6-10v-4l-6-4 4-10h-4l2-6-3 1-1-3 4-6-9 1 3-9-13-5-6 10-14-12-6 10-8-8-6 8-6-8-8 8-6-10-6 8-8-12-12 16-6-12-18 18-8-12-23 13 12 16 29 27 42 18h52l14-4z"/><path fill="#3db3b3" d="M2138 395l-13 3-26 14-18 4-8 6-18 4-8 6-36 12-8 6-18 4-8 6-18 4-8 6-42 14-8 6-12 2-8 6-74 26-8 6-18 4-8 6-50 16-8 6-42 14-8 6-44 14-26 14-18 4-46 22-38 12-26 14-12 2-8 6-36 12-8 6-18 4-8 6-36 12-8 6-18 4-8 6-18 4-26 14-18 4-8 6-44 14-26 14-18 4-8 6-18 4-8 6-50-20-32-8-8-6-20-4-16-8-32-8-8-6-68-20-8-6-26-6-8-6-26-6-8-6-20-4-8-6-54-18-8-6-26-8-8-6h-6l-8-6h-6l-84-38-12-2-8-6-26-6-8-6-246-68-16-8-46-12-8-6-68-20-8-6-32-8-44-18-32-8-7-5 17-5 8-6 18-4 8-6 12-2 32-16 18-4 8-6 18-4 8-6 36-12 8-6 44-14 8-6 42-14 8-6 18-4 8-6 44-14 32-16 24-6 8-6 18-4 8-6 44-14 26-14 18-4 8-6 36-12 8-6 38-12 26-14 12-2 34-36 24-12h20l2 4 16 4 256-102 28 8 8 6 34 8 8 6 26 6 8 6 26 6 8 6 26 6 10 6 52 16 8 6 20 4 8 6 40 12 8 6 26 8 22 12 12 2 22 12 34 12 8 6 12 2 8 6 20 6 8 6 12 2 8 6 46 14 10 6 246 66 14 8 54 14 8 6 40 10 8 6 34 8 8 6 26 6 8 6 26 6 16 8zM884 325l6 10 22 68 11 25 14-4 6-6h8l90-52 32-10h22l32 10 2 4 18 10 42 38 34 20 35-63 26-36 19-21 18-14 28-14h36l24 8 2 4 18 8 2 4h4l32 22 56 44h4l2 4 18 8 16 12 12 2 8 6 26 8 26 2 9-9-4-4 2-16-10 4 2-14-3 1-1-3 4-6-9 3 3-9-11 1 3-9-11 1 2-10-16 2 2-12h-22l2-12-38-4-28-8-38-18-18-12-8 12-26-20-6 12-20-16-8 10-14-12-6 12-14-14-6 12-14-14-6 10-6-8-6 10-14-14-8 10-6-8-6 10-8-10-6 10-6-8-6 8-8-8-6 8-6-8-8 8-6-8-6 8-8-10-6 8-6-10-14 16-6-10-6 6-8-8-12 12-8-10-18 18-8-10-16 14-10-8-18 12-8-10-26 20h-6l-6-8-24 16-8-6-14 8-6-8-12 12-8-8-10 10-10-6-6 6-6-8-14 12-6-8-6 6-8-6zM1172 521l-3 1 1-5h-4l1-13h-14l-16-10-6 8-8-6-6 8-6-8-8 8-6-10-6 8-8-10-6 8-6-10-14 16-6-12-12 14-8-12-18 20-8-12-10 10-26 12-1 3 28 42 35 31 36 14 40 2 26-6 11-7 14-24-2-12 10-20-4-2 6-2-4-2 4-10 4-2-4-2 1-3 3 1z"/><path fill="#46baa3" d="M2138 395l-13 3-26 14-18 4-8 6-18 4-8 6-36 12-8 6-18 4-8 6-18 4-8 6-42 14-8 6-12 2-8 6-74 26-8 6-18 4-8 6-50 16-8 6-42 14-8 6-44 14-26 14-18 4-46 22-38 12-26 14-12 2-8 6-36 12-8 6-18 4-8 6-36 12-8 6-18 4-8 6-18 4-26 14-18 4-8 6-44 14-26 14-18 4-8 6-18 4-8 6-50-20-32-8-8-6-20-4-16-8-32-8-8-6-68-20-8-6-26-6-8-6-26-6-8-6-20-4-8-6-54-18-8-6-26-8-8-6h-6l-8-6h-6l-84-38-12-2-8-6-26-6-8-6-246-68-16-8-46-12-8-6-68-20-8-6-32-8-44-18-32-8-7-5 17-5 8-6 18-4 8-6 12-2 32-16 18-4 8-6 18-4 8-6 36-12 8-6 44-14 8-6 42-14 8-6 18-4 8-6 44-14 32-16 24-6 8-6 18-4 8-6 44-14 26-14 18-4 8-6 36-12 8-6 38-12 26-14 12-2 34-36 24-12h20l2 4 16 4 256-102 28 8 8 6 34 8 8 6 26 6 8 6 26 6 8 6 26 6 10 6 52 16 8 6 20 4 8 6 40 12 8 6 26 8 22 12 12 2 22 12 34 12 8 6 12 2 8 6 20 6 8 6 12 2 8 6 46 14 10 6 246 66 14 8 54 14 8 6 40 10 8 6 34 8 8 6 26 6 8 6 26 6 16 8zM868 279l55 149 14-4 6-6h8l90-52 32-10h22l32 10 2 4 18 10 56 50 2-2 4 6 14 4 35-63 26-36 19-21 18-14 28-14h36l24 8 2 4 18 8 2 4h4l32 22 62 48 18 8 8 8 20 6 8 6 26 8 44 2 10-12 2 2 7-7-4-2 10-8-4-4 2-12-4-2 4-2-4-2 2-16-4-2 4-4-9-1v-6h-8l2-8-11 1 6-8-11 1 2-10h-16l2-8-18-2 4-10-30-2 2-12h-10l-34-10-50-22-8 8h-4l-30-18-8 10-18-14-6 10-22-14-6 8-14-10-6 8-14-10-6 8-14-10-6 8-14-12-6 8-8-6-6 8-14-12-6 6-6-6-6 8-8-8-6 8-8-6-6 6-6-6-6 6-8-6-6 6-6-6-8 6-6-8-12 12-8-6-6 6-8-8-12 12-6-8-12 10-8-6-14 10-6-8-12 10-8-8-16 12-10-6-18 12-8-8-16 12-10-6-16 12-10-6-10 8-10-6-10 8-8-6-14 10-6-8-12 10-8-6-12 10-8-6-4 4zM1200 459l-9-1-1-3 4-4-5-3-10 6-10-8-8 6-6-6-6 6-8-8-12 14-6-10-8 8-6-10-12 14-8-10-12 14-8-10-12 12-8-10-12 14-6-12-14 14-6-12-14 12-6-10-10 10-20 12h-14l-1 3 18 36 24 38 29 31 12 6 2 4 36 14 40 2 26-6 12-6 15-15-4-2 16-28-2-6 6-10-3 1-1-3 8-16-2-4h4l-2-6 16-30-2-6 6-6z"/><path fill="#51c091" d="M2138 395l-13 3-26 14-18 4-8 6-18 4-8 6-36 12-8 6-18 4-8 6-18 4-8 6-42 14-8 6-12 2-8 6-74 26-8 6-18 4-8 6-50 16-8 6-42 14-8 6-44 14-26 14-18 4-46 22-38 12-26 14-12 2-8 6-36 12-8 6-18 4-8 6-36 12-8 6-18 4-8 6-18 4-26 14-18 4-8 6-44 14-26 14-18 4-8 6-18 4-8 6-50-20-32-8-8-6-20-4-16-8-32-8-8-6-68-20-8-6-26-6-8-6-26-6-8-6-20-4-8-6-54-18-8-6-26-8-8-6h-6l-8-6h-6l-84-38-12-2-8-6-26-6-8-6-246-68-16-8-46-12-8-6-68-20-8-6-32-8-44-18-32-8-7-5 17-5 8-6 18-4 8-6 12-2 32-16 18-4 8-6 18-4 8-6 36-12 8-6 44-14 8-6 42-14 8-6 18-4 8-6 44-14 32-16 24-6 8-6 18-4 8-6 44-14 26-14 18-4 8-6 36-12 8-6 38-12 26-14 12-2 34-36 24-12h20l2 4 16 4 256-102 28 8 8 6 34 8 14 8 20 4 8 6 26 6 8 6 60 18 10 6 18 4 8 6 20 4 8 6 40 12 22 12 12 2 8 6 26 8 22 12h6l8 6h6l8 6h6l8 6 12 2 13 7-7 5-26-12-4 4h-8l-16-8-4 4h-6l-16-10-6 6-14-8-8 6-12-8-8 6-12-8-10 6-10-8-6 4-8-4-8 6-12-8-4 4-10-4-6 6-6-4-10 4-10-8-6 4-8-4-4 4-10-4-4 4-8-4-4 4-10-4-4 4-10-4-8 4-4-4-12 8-8-4-4 4-10-4-8 4-4-4-12 8-8-4-10 6-10-4-8 4-4-4-10 6h-6l-4-4-12 8-8-6-18 12-8-6-12 8-8-4-14 6-6-4-16 10-10-4-14 6-6-4-8 6h-6l-4-4-12 8-8-6-12 8-8-4-8 6-12-4-6 4-1 7 28 64 28 82 6 10 8 30 32 80 20 40 32 48 27 27 8 4v4l34 18 12-2 8 4h50l36-16-1-3 10-6-4-2 10-6-6-4 8-8v-14l-4-8 4-6-2-4 6-8-4-2 4-4-6-4 5-1-3-3 4-2-7 1-1-3 10-22-2-2 4-2-2-2 6-8-2-2 4-2-2-2 42-80 24-38 32-40 29-23 22-10h36l24 8 2 4 42 24 50 40h4l22 18 18 8 8 8 20 6 8 6 40 10h34l34-6 8-6 36-14-1-3 14-12-4-2 10-6-4-2 10-6-4-2 4-2-6-2 4-4v-8l-6-2 6-4-6-6 4-4-4-2 4-4-4-2 4-2-10-4 2-2-4-2 4-4-11-3 2-6h-10l3-5-12-4 6-4-11-3 2-6-16-2 3-5-17-5 2-6-24-6 4-6 180 48 14 8 54 14 8 6 40 10 8 6 34 8 8 6 26 6 8 6 26 6 16 8zM503 382l14 4 31-29 32-40 31-49-16 8-36 10-13 7 5 5-23 7 5 5-17 5 4 4-9 3 3 5-10 4 6 4-11 1 5 5-12 4 4 2-4 2 6 4-4 2 4 4-4 2v4l4 2-4 2 4 2-2 2 10 6zM978 407v-4l9-7 12-4 42-26 32-10 34 2 8 6 12 2 17 13-1 9-16 2-26 18-6-10-14 12-6-10-14 12-6-8-12 10-8-8-6 6-8-6-10 10-8-6-10 6z"/><path fill="#5fc382" d="M937 608h-6l-6-6-24 14-8-6-12 8-8-6-10 8-10-4-8 4-4-4-12 8-8-4-4 4-10-4-4 4-8-4-6 4-8-4-8 4-12-8-6 6-8-4-8 4-12-8-6 6-6-4-10 4-12-6-8 4-18-10-4 4h-8l-8-6-8 6-26-12-4 4h-8l-8-6-12-2-8-6-12-2-10-6-72-22 2-6-24-6 3-5-5-3h-12l-1-3 4-4-11-1-1-3 4-4-11-1 5-5-11-3 2-6h-10l3-5-12-4 6-4-6-6 4-4-4-2 4-4-9-1 1-3-4-2 4-4-2-2 8-6-6-2 6-4-4-2v-4l8-6-2-6 27-23 40-16 24-4 28-18 35-37 18-24 76-120 34-46 35-33 18-8h20l2 4h6l10 6 23 23 38 70 34 84 50 142 12 24 6 20 26 52 6 6 4 32-9-1 3 7-10 2 4 6-21 7 3 7zM1204 485l1-3 5 3-4-4 1-3 3 1-6-4 38-74 24-38 37-45 24-18 22-10h36l24 8 2 4 42 24 50 40h4l22 18 18 8 8 8 20 6 8 6 24 6 4 4h6l2 4h6l24 16-3 3 6 8-4 2v4l6 4-6 2 6 8-10 4 4 8-10 4 4 4-15 5 2 6-14 4 2 6-22 6 5 5-7 5-38 10-26 14-12 2-16 10-10-6-24 14-8-6-10 8-10-4-14 6-6-4-10 8-8-6-6 4-8-4-10 8-10-4-8 4-12-6-4 4-10-4-8 4-12-6-4 4h-6l-36-16-26-4-1-3 4-4-12-4 4-6-9 1v-8l-9 1v-8l4-6-12 4 4-14h-6l4-4-4-2 2-4-4-4h6l-4-4 4-2v-4l-3 1z"/><path fill="#6ac576" d="M901 586l-10-8-12 10-8-8-10 10-10-6-10 10-8-6-8 6-6-6-6 6-8-6-6 6-6-6-6 6-8-6-8 6-12-10-6 8-8-6-8 6-12-10-8 8-12-10-8 8-12-8-8 6-18-12-8 8-26-14-6 6h-6l-42-20-54-14 2-8-22-4 2-8-18-2 5-7-19-3 5-5-11-1-1-3 4-4-6-2 6-4-11-1 2-6-11-1 4-4-4-2 4-4-6-6 6-4-6-2 4-12-4-2 4-2-4-2 8-6-4-2 16-14-2-2 57-31 31-29 46-60 62-100 26-36 37-39 24-12h20l2 4h6l10 6 23 23 14 22 38 80 70 194 12 24 6 20 18 34-2 2 4 2-4 2 6 2-4 2 4 8-1 3-3-1 4 12-7-1v8l-9-1 3 9-30 8zM1608 455l-12 4 5 5-11 1 6 6-12 2 6 4-1 3h-12l-5 3 6 4-1 3-22 4 2 8-48 16-30 16-10-6-22 14-10-6-18 12-8-6-6 4-6-6-14 10-6-6-4 4-10-4-8 4-4-4-8 6-6-6-8 6-12-8-8 6-20-12-6 8-26-8 4-10h-24l3-9-11 1 2-10-9 3 4-8h-6l4-8-3 1-1-3 4-6-11 7 3-5-6-4 6-6-4-2 1-3 3 1v-6l-3-3 1 3-6 2 6-18 26-52 42-62 19-21 18-14 28-14h36l24 8 2 4 18 8 2 4 22 12 76 58 18 8 8 8 30 12 17 15v6l4 2v4l-4 2 4 4-4 2v4z"/><path fill="#78c767" d="M893 554l-10-10-10 10-10-8-12 12-6-10-14 14-6-8-6 8-8-8-6 8-8-8-6 8-6-8-6 8-14-12-6 8-8-6-6 8-14-12-8 8-12-10-6 10-20-16-10 10-18-14-8 10-32-18-12-2-10-6-34-10-26-2-1-3 6-8-19-1 4-10h-18l3-7-10-2 3-7-10 2v-8l-9 1 4-6-4-2 2-10h-10l2-12-4-2 6-10h4l-4-4 23-25 24-16 35-37 32-44 62-100 26-36 37-39 24-12h20l2 4h6l10 6 23 23 14 22 38 80 42 118 6 10 8 30 36 86-2 4 6 6-4 12 5 11-10-6 2 10-15-1 4 6-1 5h-10l-14 6zM1562 437l-12 2 6 6-12 2 5 7h-12l-5 3 5 7-42 10 5 9-7 5-12 2-6-8-14 6-22 16-10-8-16 12-10-6-12 10-8-8-6 6-6-6-8 6-6-6-6 6-8-6-6 6-6-6-8 8-12-10-8 8-20-10-26-6 5-9-19 1 3-9-10 2 4-8-5 1-1-3 4-6-3-1-7 5v-8h4v-6l-5 3 1-5-4-4h6l-6-4 6-2-4-2 4-2-4-4h4l-2-4 14-28 42-62 19-21 18-14 28-14h36l14 4 54 32 50 40h4l16 14 22 12 21 19-4 2 4 2v4l-4 2 4 4-8 2v6z"/><path fill="#88c957" d="M927 500l-12-2-26 10-10 10-10-10-12 12-8-12-12 16-8-10-6 8-6-10-6 10-8-10-6 10-6-10-8 10-6-8-6 10-8-8-6 10-14-14-6 10-14-12-6 10-20-18-10 12-18-14-6 12-6-6-28-14-12-2-8-6-40-6 2-14-24 2-1-3 6-8-19 1 1-7-8-2 2-6h-10l2-14-10 2 2-16h-4v-6l8-12v-6l32-32 32-40 76-120 26-36 43-43 18-8h20l2 4 10 2 29 27 14 22 38 80 42 118 6 10 8 30 24 58-2 2 4 2-4 2 4 2v4l-6 2 4 8-8-4 6 12-12-2zM1522 413h-12l5 9h-16l4 10h-12l-38 12-30 18-8-8-20 14-6-8-14 12-6-8-6 6-8-8-6 8-6-6-8 6-12-10-10 8-10-10-8-2-6 10-12-4 3-11-5-3-21 3 6-10-12 2 4-8-3 1-1-3 4-6-9 3-3-5h4v-6l-6-2 4-2-2-2 12-28 32-46 19-21 18-14 28-14h36l14 4 54 32 50 40h4l19 19v14l-8 2 4 4-4 2z"/><path fill="#9ec44c" d="M905 472l-18 4-4 4-8-14-20 18-6-12-14 14-6-10-6 8-8-12-12 20-6-10-8 12-14-20-6 12-6-10-6 12-14-16-6 12-14-14-5 11-5 1-18-16-8 12-26-18-8 14-26-14-32-6 2-14h-24l4-14-18 4 5-11-13 3 4-12-10 4 2-10-11 5 4-6-1-3-3 1v-8l4-6-6-8 2-8 58-74 62-100 26-36 37-39 24-12h20l2 4h6l10 6 23 23 38 70 28 68 52 144-2 2 4 12-6-4 4 6-2 2 4 2v10l-9-7 4 14-16-6-1 3 6 10zM1256 379l6-2-2-4 6-10 37-45 24-18 22-10h36l24 8 2 4 18 8 2 4h4l40 28 15 13v8l4 2-4 2 3 5-9-1 4 6v8h-10l3 9h-16l-7 3 5 9-24 6-18 10-8-10-18 14-8-10-12 12-8-8-12 14-8-8-6 8-14-12-8 8-18-12-26-4 3-9-11 1 2-10-9 5 4-8h-6l4-4-4-2v-4l4-2z"/><path fill="#b3bf41" d="M877 448l-3-1-7-15-18 18-8-14-12 18-8-12-6 10-6-12-8 10-6-12-6 12-8-10-6 12-6-10-8 12-12-16-8 12-12-16-8 16-12-14-8 14-34-24-8 14-26-12-18-2-3-3 6-10-1-3h-24l4-14-18 4 3-11-12 2 5-11-12 6 5-11-12 4 4-8v-12l-6-4 2-6 58-82 42-70 34-46 29-29 24-12h20l2 4h6l10 6 23 23 14 22 38 80 56 156-4 2 2 18-10-6 6 14-17-5 5 15zM1278 365v-14l20-28 29-23 22-10h36l24 8 2 4 36 20 13 15v12l-7-1v8l-9-1 3 9-36 8-22 16-10-8-12 10-8-8-6 8-6-8-8 8-6-6-8 8-18-10-20-2 3-9-5-1-4 4 3-9z"/><path fill="#c8ba36" d="M885 408l-18 4-6 6-8-16-18 22-8-14-6 8-6-12-14 22-6-12-6 12-14-22-6 12-8-10-8 12-12-16-6 14-14-14-5 13-5 1-24-22-5 15-5 1-24-14-26-4-1-5 6-10-1-3-32 4-1-3 6-10-14 2 6-12-3-1-10 6 5-11-12 4 4-6-4-2 4-8v-12l-4-4 6-12 32-44 56-90 20-26 35-33 18-8h20l2 4 10 2 29 27 14 22 38 80 46 124v8l-3 3-4-4 1 9h-4l6 12-3 1-10-6-5 1zM1422 327l-23 5 3 9-9 5-8-10-18 14-8-6-8 6-6-6-8 6-12-8-12-2 2-8-11 1v-10l5-9 18-14 22-10h36l22 8 11 7 2 8-4 2 4 4-4 2z"/><path fill="#d8b731" d="M879 374l-20 2-12 10-8-16-10 14-3-1-5-13-14 20-6-12-6 12-8-12-6 12-8-10-6 12-14-18-6 14-14-16-5 13-3 1-18-20-5 15-5 1-38-22-34-2 5-15-5-1-14 6 5-15-13 5 5-13-11 5 5-11-5 1v-6l-6 6-3-1 4-6-4-4 4-2-2-2 6-14 18-24 42-70 34-46 35-33 18-8h20l2 4 10 2 29 27 14 22 38 80 32 86v8l-4 4h6l-4 4 4 2-2 4-10-6 6 14-5-3-7 1z"/><path fill="#e2b631" d="M871 340l-12-2-14 4-12 12-8-16-12 16-6-12-8 10-6-12-6 12-8-12-6 12-6-10-5 13-3 1-12-18-6 14-14-14-7 15-3 1-10-12-22-14-34-8-20 4 5-15-14 4 6-14-11 5-1-3 6-10-9 5-3-7h4v-8l-6-2 4-2-2-2 6-14 40-64 34-46 35-33 18-8h20l2 4h6l10 6 23 23 38 70 28 68 12 38-3 5-5-5 1 11-9-5z"/><path fill="#ebb432" d="M863 306l-6-4h-12l-14 6-10 12-3-1-5-13-14 20-6-12-6 12-8-12-6 12-14-20-6 14-14-16-5 13-5 1-16-18-10 18-18-12-28-4 6-18-20 4-6 4 5-15-11 5 2-14-8 8-3-1 4-6-4-2v-8h4l-2-10 32-52 34-46 35-33 18-8h20l2 4h6l10 6 23 23 14 22 38 80 8 22-2 4 8 10-4 2 1 17-9-9z"/><path fill="#f5b333" d="M845 284l-12 2-8-16-20 20-6-12-6 10-8-12-6 12-8-12-6 12-6-8-5 13-3 1-20-24-5 15-3 1-18-14-20-8-28 4 5-17-13 5 5-15-11 7 5-11-5 1 1-5-5 3-1-3 8-14-2-2 26-40 20-26 29-29 24-12h20l2 4h6l10 6 23 23 38 70 18 44-3 3-5-7 3 21-12-8-5 1z"/><path fill="#f6bf31" d="M835 248l-24 10-6-14-12 18-8-12-6 12-8-12-6 12-14-18-5 13-3 1-26-24-8 20-12-8h-12l-3-3 8-14-1-3-27 7 6-12-12 4 4-10h-4v-8h4v-6l-4-4 34-46 29-29 24-12h20l2 4h6l10 6 23 23 14 22 24 48v10l4 2-3 3-7-3 6 10-1 3-4-4-7 1 6 10z"/><path fill="#f4cf2e" d="M829 216l-6-2-20 8-6-12-12 16-8-12-6 12-6-10-8 14-3-7-17-17-8 16-18-12-22-2 5-13-5-1-14 6 5-11h-6l6-10-9 7-3-3 4-2v-6l18-24 29-29 24-12h20l2 4h6l10 6 23 23 14 22 14 28-2 2 4 2-4 2 4 2-1 9-9-7z"/><path fill="#f2de2b" d="M818 169l-8-4 6 10-11-3 3 13-9 5-10-12-12 16-6-12-8 12-14-16-8 12-18-12-20-2 4-12-12 2-4 4 3-9h-6l4-6-2-4 29-29 24-12h20l2 4h6l10 6 23 23z"/><path fill="#f0ed29" d="M794 147l-17 9-8-8-6 8-14-12-8 10-19-7 6-10-11 1-1-13 27-15h20l2 4h6l10 6 11 11-2 2 4 6z"/></g></svg><g font-size="23" fill="#222"><text x="538.5" y="1398.2" text-anchor="end">10</text><text x="538.5" y="1442.5" text-anchor="end">5</text><text x="538.5" y="1486.8" text-anchor="end">0</text><text x="538.5" y="1531.1" text-anchor="end">−5</text><text x="538.5" y="1575.4" text-anchor="end">−10</text><text x="513" y="1600" text-anchor="middle">1 500</text><text x="582.7" y="1623" text-anchor="middle">1 000</text><text x="662.5" y="1645.9" text-anchor="middle">500</text><text x="745.3" y="1668.8" text-anchor="middle">0</text><text x="773.5" y="1668.8" text-anchor="middle">0</text><text x="848.7" y="1644" text-anchor="middle">500</text><text x="923.5" y="1618.4" text-anchor="middle">1 000</text><text x="978.5" y="1593" text-anchor="middle">1 500</text></g></svg><path d="M1044.1 1587.7L1218.5 1522.5M1218.5 1522.5L1414.1 1580.7M1044.1 1553.7L1218.5 1488.5M1218.5 1488.5L1414.1 1546.7M1044.1 1519.6L1218.5 1454.4M1218.5 1454.4L1414.1 1512.6M1044.1 1485.5L1218.5 1420.3M1218.5 1420.3L1414.1 1478.5M1044.1 1451.5L1218.5 1386.3M1218.5 1386.3L1414.1 1444.5M1044.1 1417.5L1218.5 1352.2M1218.5 1352.2L1414.1 1410.5M1044.1 1383.4L1218.5 1318.2M1218.5 1318.2L1414.1 1376.4M1044.1 1587.7L1044.1 1383.4M1218.5 1522.5L1218.5 1318.2M1102.2 1566L1102.2 1361.7M1283.7 1541.9L1283.7 1337.6M1160.4 1544.2L1160.4 1339.9M1348.9 1561.3L1348.9 1357M1218.5 1522.5L1218.5 1318.2M1414.1 1580.7L1414.1 1376.4M1174.5 1626.5L1348.9 1561.3M1297.8 1624.2L1102.2 1566M1109.3 1607.1L1283.7 1541.9M1356 1602.4L1160.4 1544.2" stroke="#e3e3e3" stroke-width="1.1" fill="none"/><path d="M1044.1 1587.7L1044.1 1383.4" stroke="#8a8a8a" stroke-width="1.3" fill="none"/><path d="M1044.1 1587.7L1239.7 1645.9M1239.7 1645.9L1414.1 1580.7M1044.1 1587.7L1040.1 1586.4M1044.1 1553.7L1040.1 1552.4M1044.1 1519.6L1040.1 1518.3M1044.1 1485.5L1040.1 1484.2M1044.1 1451.5L1040.1 1450.2M1044.1 1417.5L1040.1 1416.2M1044.1 1383.4L1040.1 1382.1M1239.7 1645.9L1243.7 1644.3M1239.7 1645.9L1235.7 1644.5M1174.5 1626.5L1178.5 1624.9M1297.8 1624.2L1293.8 1622.8M1109.3 1607.1L1113.3 1605.5M1356 1602.4L1352 1601M1044.1 1587.7L1048.1 1586.1M1414.1 1580.7L1410.1 1579.3" stroke="#8a8a8a" stroke-width="1.3" fill="none"/><svg x="1070" y="1416" width="322" height="141" viewBox="1070 1416 322 141"><g transform="translate(1070 1416) scale(0.1667 0.1667)" fill-rule="evenodd"><path fill="#4236af" d="M1918 349l-23 11-60 20-18 10-50 16-18 10-88 30-28 14-128 44-12 8-44 14-28 14-42 14-13 19-52 120-44 84-18 26-15 15-24 12h-16l-10-4-27-23-36-58-37-77-44 16-18 10-60-20h-10l-52-18-30-6-52-18-24-4-102-32-20-10-30-8-8-6-42-14-8-6-18-4-8-6-30-8-8-6-24-8-18-2-46-14-62-10-26-8-30-4-14-6h-12l-14-6h-10l-28-10-24-4-32-12h-12l-64-22h-12l-83-27 151-55 12-8 88-30 12-8 128-44 6-6 72-24 12-8 38-12 26-12 43-87 24-40 21-27 30-20 20 2 19 17 24 38 17 39 44-14 6-6 72-24 6-6 24-8 38 14 24 4 90 30h12l100 32 8 6 74 24 8 6 18 4 8 6 48 16 8 6 82 26 24 4 14 6 30 4 8 4 24 2 8 4 62 10 32 10h12l52 16 18 2 32 12h12l146 46z"/><path fill="#433bb5" d="M1918 349l-23 11-60 20-18 10-50 16-18 10-88 30-28 14-128 44-12 8-44 14-28 14-42 14-13 19-52 120-38 74-27 37-12 4-4-4-6 8-6-6-6 6-6-8-14 8-6-12-18-2-10-8v8l-13-11-24-42-37-77-44 16-18 10-60-20h-10l-52-18-30-6-52-18-24-4-102-32-20-10-30-8-8-6-42-14-8-6-18-4-8-6-30-8-8-6-24-8-18-2-46-14-62-10-26-8-30-4-14-6h-12l-14-6h-10l-28-10-24-4-32-12h-12l-64-22h-12l-83-27 151-55 12-8 88-30 12-8 128-44 6-6 72-24 12-8 38-12 26-12 43-87 24-40 21-27 30-20 20 2 19 17 24 38 17 39 44-14 6-6 72-24 6-6 24-8 38 14 24 4 90 30h12l100 32 8 6 74 24 8 6 18 4 8 6 48 16 8 6 82 26 24 4 14 6 30 4 8 4 24 2 8 4 62 10 32 10h12l52 16 18 2 32 12h12l146 46z"/><path fill="#4543c0" d="M1918 349l-23 11-60 20-18 10-50 16-18 10-88 30-28 14-128 44-12 8-44 14-28 14-42 14-13 19-52 120-42 78-9 5-12-2-6 12-12-14-6 10-6-10-12 16-8-14-10 8-8-16-16 2-20-10 2 14-19-25-6-2-37-77-44 16-18 10-60-20h-10l-52-18-30-6-52-18-24-4-102-32-20-10-30-8-8-6-42-14-8-6-18-4-8-6-30-8-8-6-24-8-18-2-46-14-62-10-26-8-30-4-14-6h-12l-14-6h-10l-28-10-24-4-32-12h-12l-64-22h-12l-83-27 151-55 12-8 88-30 12-8 128-44 6-6 72-24 12-8 38-12 26-12 43-87 24-40 21-27 30-20 20 2 19 17 24 38 17 39 44-14 6-6 72-24 6-6 24-8 38 14 24 4 90 30h12l100 32 8 6 74 24 8 6 18 4 8 6 48 16 8 6 82 26 24 4 14 6 30 4 8 4 24 2 8 4 62 10 32 10h12l52 16 18 2 32 12h12l146 46z"/><path fill="#464fc7" d="M1918 349l-23 11-60 20-18 10-50 16-18 10-88 30-28 14-128 44-12 8-44 14-28 14-42 14-13 19-52 120-26 48-13 9-16-4-6 12-12-18-6 12-6-12-12 20-6-14-12 12-8-18-4 4-20 6-12-4-18-12-14-16 2 14-13-21-6-2-19-41-44 16-18 10-60-20h-10l-52-18-30-6-52-18-24-4-102-32-20-10-30-8-8-6-42-14-8-6-18-4-8-6-30-8-8-6-24-8-18-2-46-14-62-10-26-8-30-4-14-6h-12l-14-6h-10l-28-10-24-4-32-12h-12l-64-22h-12l-83-27 151-55 12-8 88-30 12-8 128-44 6-6 72-24 12-8 38-12 26-12 43-87 24-40 21-27 30-20 20 2 19 17 24 38 17 39 44-14 6-6 72-24 6-6 24-8 38 14 24 4 90 30h12l100 32 8 6 74 24 8 6 18 4 8 6 48 16 8 6 82 26 24 4 14 6 30 4 8 4 24 2 8 4 62 10 32 10h12l52 16 18 2 32 12h12l146 46z"/><path fill="#465bcd" d="M1918 349l-23 11-60 20-18 10-50 16-18 10-88 30-28 14-128 44-12 8-44 14-28 14-42 14-13 19-52 120-12 18-6 2 3-11-9 15-7 5-18-12-5 11-7-5-6 12-6-12-6 12-6-12-6 8-6-14-12 16-6-18-12 12-12 6-8-22-24-2-18-14 3 17-3 1-17-23-1 11-5-9-6-2 2-4-3 1-8-12-44 16-18 10-60-20h-10l-52-18-30-6-52-18-24-4-102-32-20-10-30-8-8-6-42-14-8-6-18-4-8-6-30-8-8-6-24-8-18-2-46-14-62-10-26-8-30-4-14-6h-12l-14-6h-10l-28-10-24-4-32-12h-12l-64-22h-12l-83-27 151-55 12-8 88-30 12-8 128-44 6-6 72-24 12-8 38-12 26-12 43-87 24-40 21-27 30-20 20 2 19 17 24 38 17 39 44-14 6-6 72-24 6-6 24-8 38 14 24 4 90 30h12l100 32 8 6 74 24 8 6 18 4 8 6 48 16 8 6 82 26 24 4 14 6 30 4 8 4 24 2 8 4 62 10 32 10h12l52 16 18 2 32 12h12l146 46z"/><path fill="#4767d4" d="M1918 349l-23 11-60 20-18 10-50 16-18 10-88 30-28 14-128 44-12 8-44 14-28 14-42 14-13 19-34 80-12 20-9 9-16 8-6-2-10-12-8 16-4-8-8 14-4-8-8 12-4-12-6 12-6-14-6 10-6-16-14 16-6-18-18 18-8-24-10 6h-18l-20-12-10-10 2 20-14-14-60 20-18 10-60-20h-10l-52-18-30-6-52-18-24-4-102-32-20-10-30-8-8-6-42-14-8-6-18-4-8-6-30-8-8-6-24-8-18-2-46-14-62-10-26-8-30-4-14-6h-12l-14-6h-10l-28-10-24-4-32-12h-12l-64-22h-12l-83-27 151-55 12-8 88-30 12-8 128-44 6-6 72-24 12-8 38-12 26-12 43-87 24-40 21-27 30-20 20 2 19 17 24 38 17 39 44-14 6-6 72-24 6-6 24-8 38 14 24 4 90 30h12l100 32 8 6 74 24 8 6 18 4 8 6 48 16 8 6 82 26 24 4 14 6 30 4 8 4 24 2 8 4 62 10 32 10h12l52 16 18 2 32 12h12l146 46z"/><path fill="#4672d6" d="M1918 349l-23 11-60 20-18 10-50 16-18 10-88 30-28 14-128 44-12 8-44 14-28 14-42 14-13 19-28 64-3-1-10 14-12 6-12-2-4-4-8 16-10-12-5 13-7-7-6 12-12-24-12 26-5-15-7 9-6-16-12 18-5-17-3-1-10 12-5-19-3-1-10 8-14 4-30-4-8 6-76 26-18 10-60-20h-10l-52-18-30-6-52-18-24-4-102-32-20-10-30-8-8-6-42-14-8-6-18-4-8-6-30-8-8-6-24-8-18-2-46-14-62-10-26-8-30-4-14-6h-12l-14-6h-10l-28-10-24-4-32-12h-12l-64-22h-12l-83-27 151-55 12-8 88-30 12-8 128-44 6-6 72-24 12-8 38-12 26-12 43-87 24-40 21-27 30-20 20 2 19 17 24 38 17 39 44-14 6-6 72-24 6-6 24-8 38 14 24 4 90 30h12l100 32 8 6 74 24 8 6 18 4 8 6 48 16 8 6 82 26 24 4 14 6 30 4 8 4 24 2 8 4 62 10 32 10h12l52 16 18 2 32 12h12l146 46z"/><path fill="#437cd6" d="M1918 349l-23 11-60 20-18 10-50 16-18 10-88 30-12 8-144 50-12 8-110 40-11 9-22 48-5 5-4-2-16 10-10-2-4-4-8 16-12-12-5 15-7-7-6 14-9-17v-6l-4 2-5 11-4-14-14 26-6-16-6 10-6-16-12 18-6-16-12 12-2-6-60 22-8 6-76 26-18 10-60-20h-10l-52-18-30-6-52-18-24-4-102-32-20-10-30-8-8-6-42-14-8-6-18-4-8-6-30-8-8-6-24-8-18-2-46-14-62-10-26-8-30-4-14-6h-12l-14-6h-10l-28-10-24-4-32-12h-12l-64-22h-12l-83-27 151-55 12-8 88-30 12-8 128-44 6-6 72-24 12-8 38-12 26-12 43-87 24-40 21-27 30-20 20 2 19 17 24 38 17 39 44-14 6-6 72-24 6-6 24-8 38 14 24 4 90 30h12l100 32 8 6 74 24 8 6 18 4 8 6 48 16 8 6 82 26 24 4 14 6 30 4 8 4 24 2 8 4 62 10 32 10h12l52 16 18 2 32 12h12l146 46z"/><path fill="#4187d6" d="M1918 349l-23 11-60 20-18 10-50 16-18 10-88 30-12 8-144 50-12 8-110 40-13 11-7 13-2-2-22 14-10-2-8 16-16-16-7 15-5-7-8 14-5-13-3-1-38 18-24 6-18 10-154 56-18 10-60-20h-10l-52-18-30-6-52-18-24-4-102-32-20-10-30-8-8-6-42-14-8-6-18-4-8-6-30-8-8-6-24-8-18-2-46-14-62-10-26-8-30-4-14-6h-12l-14-6h-10l-28-10-24-4-32-12h-12l-64-22h-12l-83-27 151-55 12-8 88-30 12-8 128-44 6-6 72-24 12-8 38-12 26-12 43-87 24-40 21-27 30-20 20 2 19 17 24 38 17 39 44-14 6-6 72-24 6-6 24-8 38 14 24 4 90 30h12l100 32 8 6 74 24 8 6 18 4 8 6 48 16 8 6 82 26 24 4 14 6 30 4 8 4 24 2 8 4 62 10 32 10h12l52 16 18 2 32 12h12l146 46z"/><path fill="#3e91d4" d="M1918 349l-23 11-60 20-18 10-50 16-18 10-88 30-12 8-144 50-12 8-60 20-12 8-38 12-8 6-98 36-18 10-44 14-18 10-60 20-18 10-76 26-18 10-60-20h-10l-52-18-30-6-52-18-24-4-102-32-20-10-30-8-8-6-42-14-8-6-18-4-8-6-30-8-8-6-24-8-18-2-46-14-62-10-26-8-30-4-14-6h-12l-14-6h-10l-28-10-24-4-32-12h-12l-64-22h-12l-83-27 151-55 12-8 88-30 12-8 128-44 6-6 72-24 12-8 38-12 26-12 43-87 24-40 21-27 30-20 20 2 19 17 24 38 17 39 44-14 6-6 72-24 6-6 24-8 38 14 24 4 90 30h12l100 32 8 6 74 24 8 6 18 4 8 6 48 16 8 6 82 26 24 4 14 6 30 4 8 4 24 2 8 4 62 10 32 10h12l52 16 18 2 32 12h12l146 46z"/><path fill="#3a9acf" d="M1918 349l-23 11-60 20-18 10-50 16-18 10-88 30-12 8-144 50-12 8-60 20-12 8-38 12-8 6-98 36-18 10-44 14-18 10-60 20-18 10-76 26-18 10-60-20h-10l-52-18-30-6-52-18-24-4-102-32-20-10-30-8-8-6-42-14-8-6-18-4-8-6-30-8-8-6-24-8-18-2-46-14-62-10-26-8-30-4-14-6h-12l-14-6h-10l-28-10-24-4-32-12h-12l-64-22h-12l-83-27 151-55 12-8 88-30 12-8 128-44 6-6 72-24 12-8 38-12 26-12 43-87 24-40 21-27 30-20 20 2 19 17 24 38 17 39 44-14 6-6 72-24 6-6 24-8 38 14 24 4 90 30h12l100 32 8 6 74 24 8 6 18 4 8 6 48 16 8 6 82 26 24 4 14 6 30 4 8 4 24 2 8 4 62 10 32 10h12l52 16 18 2 32 12h12l146 46z"/><path fill="#36a4ca" d="M1918 349l-23 11-60 20-18 10-50 16-18 10-88 30-12 8-144 50-12 8-60 20-12 8-38 12-8 6-98 36-18 10-44 14-18 10-60 20-18 10-76 26-18 10-60-20h-10l-52-18-30-6-52-18-24-4-102-32-20-10-30-8-8-6-42-14-8-6-18-4-8-6-30-8-8-6-24-8-18-2-46-14-62-10-26-8-30-4-14-6h-12l-14-6h-10l-28-10-24-4-32-12h-12l-64-22h-12l-83-27 151-55 12-8 88-30 12-8 128-44 6-6 72-24 12-8 38-12 26-12 43-87 24-40 21-27 30-20 20 2 19 17 24 38 17 39 44-14 6-6 72-24 6-6 24-8 38 14 24 4 90 30h12l100 32 8 6 74 24 8 6 18 4 8 6 48 16 8 6 82 26 24 4 14 6 30 4 8 4 24 2 8 4 62 10 32 10h12l52 16 18 2 32 12h12l146 46zM1092 407l10-26-5-13-6 10-6-12-6 10-6-12-12 16-5-11-8 8 31 29z"/><path fill="#35adc3" d="M1918 349l-23 11-60 20-18 10-50 16-18 10-88 30-12 8-144 50-12 8-60 20-12 8-38 12-8 6-98 36-18 10-44 14-18 10-60 20-18 10-76 26-18 10-60-20h-10l-52-18-30-6-52-18-24-4-102-32-20-10-30-8-8-6-42-14-8-6-18-4-8-6-30-8-8-6-24-8-18-2-46-14-62-10-26-8-30-4-14-6h-12l-14-6h-10l-28-10-24-4-32-12h-12l-64-22h-12l-83-27 151-55 12-8 88-30 12-8 128-44 6-6 72-24 12-8 38-12 26-12 43-87 24-40 21-27 30-20 20 2 19 17 24 38 17 39 44-14 6-6 72-24 6-6 24-8 38 14 24 4 90 30h12l100 32 8 6 74 24 8 6 18 4 8 6 48 16 8 6 82 26 24 4 14 6 30 4 8 4 24 2 8 4 62 10 32 10h12l52 16 18 2 32 12h12l146 46zM1124 331l-5-7-6 12-6-12-6 10-6-10-6 10-6-12-12 20-6-12-4 8-8-12-10 16-6-12-12 14-6-12-11 11 27 21 44 42 12 2zM846 391l11-7h6l7-9-5-5-12 12-6-6-5 5zM1030 539v-10h-4l2-6-9 1 3-9-11-3-6 10-14-10-4 8-8-8-4 8-6-8-6 10-6-12-6 10-6-12-12 14-6-12-11 13 29 19 30 10h40l13-7-2-4z"/><path fill="#3db3b3" d="M1918 349l-23 11-60 20-18 10-50 16-18 10-88 30-12 8-144 50-12 8-60 20-12 8-38 12-8 6-98 36-18 10-44 14-18 10-60 20-18 10-76 26-18 10-60-20h-10l-52-18-30-6-52-18-24-4-102-32-20-10-30-8-8-6-42-14-8-6-18-4-8-6-30-8-8-6-24-8-18-2-46-14-62-10-26-8-30-4-14-6h-12l-14-6h-10l-28-10-24-4-32-12h-12l-64-22h-12l-83-27 151-55 12-8 88-30 12-8 128-44 6-6 72-24 12-8 38-12 26-12 43-87 24-40 21-27 30-20 20 2 19 17 24 38 17 39 44-14 6-6 72-24 6-6 24-8 38 14 24 4 90 30h12l100 32 8 6 74 24 8 6 18 4 8 6 48 16 8 6 82 26 24 4 14 6 30 4 8 4 24 2 8 4 62 10 32 10h12l52 16 18 2 32 12h12l146 46zM1146 287l-5-7-6 12-6-10-6 10-6-8-6 10-6-10-6 10-6-10-6 10-6-10-4 8-8-10-4 8-8-8-10 14-6-10-6 8-6-10-12 12-6-10-16 18-8-10-14 14-8-10-16 12-8-8-26 18-8-8-20 14-8-8-12 10-6-8-8 10-8-8-12 12-6-8-1 7 21 59 84-52 24-8 24-2 18 6 18 14h4l60 56 12 2 25-61zM1460 371h-4l3-9-10 6 3-9-10 2 3-9-11 3 3-9-14 2 2-10-24 2 4-12-29-1 41 31 36 16zM1054 493l-6-4 2-8h-4l1-7h-16l-12-8-4 8-8-6-4 8-8-8-4 8-6-8-6 8-6-10-6 8-6-12-12 16-6-12-10 14-8-12-14 20-8-12-13 11 8 16 21 23 26 16 30 10h40l24-8 3-3-2-4 4-2-4-4 8-10-2-10z"/><path fill="#46baa3" d="M1918 349l-23 11-60 20-18 10-50 16-18 10-88 30-12 8-144 50-12 8-60 20-12 8-38 12-8 6-98 36-18 10-44 14-18 10-60 20-18 10-76 26-18 10-60-20h-10l-52-18-30-6-52-18-24-4-102-32-20-10-30-8-8-6-42-14-8-6-18-4-8-6-30-8-8-6-24-8-18-2-46-14-62-10-26-8-30-4-14-6h-12l-14-6h-10l-28-10-24-4-32-12h-12l-64-22h-12l-83-27 151-55 12-8 88-30 12-8 128-44 6-6 72-24 12-8 38-12 26-12 43-87 24-40 21-27 30-20 20 2 19 17 24 38 17 39 44-14 6-6 72-24 6-6 24-8 38 14 24 4 90 30h12l100 32 8 6 74 24 8 6 18 4 8 6 48 16 8 6 82 26 24 4 14 6 30 4 8 4 24 2 8 4 62 10 32 10h12l52 16 18 2 32 12h12l146 46zM1176 243l-7-7-6 8-6-6-6 8-12-12-6 8-6-8-6 8-6-6-6 8-6-8-6 8-6-8-6 8-6-8-6 8-6-8-6 8-6-8-10 12-6-8-6 6-6-6-10 10-8-6-12 10-6-8-10 10-8-8-10 10-6-8-16 12-8-8-14 12-8-6-16 12-8-8-14 12-8-8-10 10-8-8-12 10-6-8-10 10-8-6-1 3 22 74 15 39 84-52 24-8 24-2 18 6 18 14h4l52 50 18 10 51-113zM1500 373l-4-12 2-6-4-2v-18l-7 1 1-7-9 1v-6l-6 2 1-7-10-2 3-7-16 2 2-10-14 2 2-10h-22l-7-3 3-9-48-8-40-18-6 10-19-9 79 75 24 18h4l2 4h4l2 4 24 12 28 8 24 2zM1078 435l-4-4 1-3-9-1 3-5-4-2-4 4h-6l-8-8-6 6-6-6-6 8-6-8-12 14-6-10-4 8-8-10-10 14-6-10-12 14-6-12-12 14-6-12-10 14-8-12-10 14-6-12-12 14-6-12-19 17v4l28 50 21 23 14 10 42 16h40l24-8 9-9v-8l4-2-2-2 6-10-2-4h4l-2-6 6-16-2-6 4-2-2-4z"/><path fill="#51c091" d="M1918 349l-23 11-60 20-18 10-50 16-18 10-88 30-12 8-144 50-12 8-60 20-12 8-38 12-8 6-98 36-18 10-44 14-18 10-60 20-18 10-76 26-18 10-60-20h-10l-52-18-30-6-52-18-24-4-102-32-20-10-30-8-8-6-42-14-8-6-18-4-8-6-30-8-8-6-24-8-18-2-46-14-62-10-26-8-30-4-14-6h-12l-14-6h-10l-28-10-24-4-32-12h-12l-64-22h-12l-83-27 151-55 12-8 88-30 12-8 128-44 6-6 72-24 12-8 38-12 26-12 43-87 24-40 21-27 30-20 20 2 19 17 24 38 17 39 44-14 6-6 72-24 6-6 24-8 38 14 24 4 90 30h12l100 32 8 6 42 12 113 45-9 5-20-10-4 4h-6l-14-8-8 6-18-10-8 6-10-6-4 4h-6l-8-6-4 4h-6l-8-6-4 4h-6l-8-6-4 4-8-2-4 4-14-6-4 4-8-4-8 4-4-4-8 6-10-8-4 4-8-4-8 4-4-4-4 4-8-2-4 4-8-4-4 4-8-4-8 4-4-4-10 8-8-4-6 2-6-4-6 4-4-4-10 8-8-4-8 6h-6l-4-4-8 4-4-4-12 6-6-4-6 6h-6l-4-4-14 10h-6l-4-4-8 6-10-4-6 6h-6l-4-4-16 10-8-4-10 6-8-4-8 6-8-4-6 2-5 7 12 40 12 30 20 72 36 94 28 50 18 20 21 17 30 14h62l33-13-2-2 12-12-2-4 6-6-1-3-3 1 2-8-6-4v-6l4-2-2-2 4-6-2-2 4-2-6-6 8 2-6-6-2-8 4-2-2-4 4-16 58-134 18-32 22-30 33-25 14-4h18l22 8 36 26 96 90h4l20 16 24 12 28 8 26 2 48-14 12-6-1-3 16-16-2-2 8-4-4-2 2-6-4-2v-22l-4-2 1-3-7-3v-6l-7-3v-4h-10l3-5-9-1 2-6h-10l2-6-14-2 2-6-16-2 2-6-22-2 4-6 38 6 8 4 24 2 8 4 30 4 32 10h12l14 6 18 2 70 22h12l64 22 18 2 64 22zM443 358l20-16 13-15 31-47-24 8 2 6-14 2-5 3 3 5-13 3 4 4-9 3 1 3-6 4 2 2-8 4 4 2-8 4 4 2-4 2zM876 377l3-5 52-32 36-10h12l18 6 27 19-1 5h-10l-28 18-6-8-10 10-6-10-12 12-6-8-12 10-6-8-6 6-6-6-10 10-8-6-6 6z"/><path fill="#5fc382" d="M849 532l-6-6-22 14-8-6-6 6h-6l-4-4-10 8-8-4-6 4-6-6-10 8-8-4-8 4-4-4-6 6-6-6-4 6-8-4-6 4-12-8-6 6-6-4-6 4-12-8-6 6-6-4-6 6-12-8-8 6-16-10-6 6-12-6-4 4h-6l-22-10-6 6-80-28-36-6v-8l-20-2 2-6-16-2 2-6h-8l1-5-7-3v-4l-8-2v-4h-8l2-6-9-1v-16l-7-1 1-3-4-2v-4l8-6-4-2v-6l6-6-2-4 7-9 8-2 2-6 58-24 21-19 30-38 36-60 84-166 26-38 29-23h26l19 17 24 38 24 56 88 278 38 84-2 2 4 12h-10l6 6-9-1 3 7-19 5 3 7zM1480 431l-11 1-3 3 3 5-14 2 2 6-18 4 3 5-49 17-36 18-8-4-20 10-10-4-6 6h-6l-4-4-8 6h-6l-4-4-10 8-8-4-8 2-4-4-10 8-6-4-4 4h-6l-10-6-4 4-8-4-6 6-12-6-4 4h-6l-8-6-32-10h-16l3-7-11-1v-6l-6 2v-8l-8 4-1-9 4-6-10 4 2-6-4-6h4v-6l-5 3-3-3 6-6-8-6 4-2v-10l-4-2 4-2-2-4 52-116 34-50 33-25 14-4h18l22 8 14 12 10 4 108 100h4l20 16 24 12 16 4 27 19-2 6 4 2-4 2 6 2-4 2 2 6-6 4 4 8-8 2z"/><path fill="#6ac576" d="M819 510l-8-6-10 8-8-8-8 10-8-6-10 10-8-6-6 6-6-6-6 6-6-6-6 6-6-6-6 6-6-4-6 6-12-10-6 6-6-6-8 8-10-10-8 8-10-10-8 8-10-8-6 6h-4l-14-10-6 8-26-12-6 6h-4l-14-8-44-14-30-4 2-8-22-2 2-8h-14v-8h-14l2-6-11-1 4-4-4-2 4-4-11 1 1-5-8-2 2-2-4-6 4-4-4-2v-10l-4-4 8-10-2-2 6-4 3-9h6l10-10 14-6 20-18 31-39 36-60 70-142 24-40 21-27 30-20 20 2 19 17 12 16 20 38 36 98 52 174 16 46 20 44v8l4 2v18l-4 2 2 6-7-1v8l-20 4zM1421 424l-18 2 2 8-54 18-14 8-8-6-22 14-8-6-12 10h-6l-4-4-6 4-6-6-10 8-8-4-4 4-8-4-8 4-4-4-6 6-6-6-8 6-10-8-8 6-16-10-6 8-24-6 2-10-22 2 3-7h-10l3-9-11 5 4-8h-4l4-8-3 1-1-3 4-6-9 7-3-5h4v-6l-8-2 4-2v-4l-3 1-1-3 4-6-2-4 4-2-2-4h4v-10l40-86 34-50 33-25 14-4h18l22 8 14 12 10 4 96 90 57 39 4 6-2 6 6 8-4 2 1 3-5 1 3 5-9 1 6 4-10 2 3 5-13 3 4 4z"/><path fill="#78c767" d="M811 478l-8-10-10 10-6-10-12 14-6-10-12 14-6-8-6 8-6-8-6 8-6-8-6 8-6-8-6 8-12-12-6 8-6-6-6 8-12-10-6 8-12-10-6 10-18-16-8 10-16-12-8 10-30-16-32-10-42-4 2-10h-16v-8l-14 2 3-7-9-1v-6l-8 2 3-7-9 1 1-11h-4l2-4-7 1 1-3-4-2v-8l6-6-2-2 6-12 36-36 42-62 82-164 24-40 21-27 30-20 20 2 19 17 12 16 20 38 36 98 52 174 24 62v14h4l-2 4 4 6-3 3-7-3 6 10-15-5 2 12-20 4zM1385 398l-36 6 3 9-11 7h-4l-6-8-12 4-20 14-8-8-16 14-8-8-10 10-6-8-6 6-6-6-6 6-6-6-6 6-6-6-6 6-6-4-6 6-12-8-8 8-16-10-24-4 2-10-18 6 5-11-12 4 4-10-3 1-1-3 4-6-7 5v-6l-4 4-3-3 4-2-4-2 6-2-5-5-2 4-1-5 38-86 34-50 33-25 14-4h18l22 8 14 12 10 4 96 90 27 21-2 6 4 6h-8l4 10h-10l2 4-6 2 3 7-13 1z"/><path fill="#88c957" d="M797 442l-6-12-12 12-6-10-12 14-6-10-6 8-6-10-6 10-6-10-6 10-6-10-4 8-8-6-6 8-6-6-3 9-3 1-12-14-3 9-5 1-10-12-6 12-18-16-6 12-18-14-8 12-10-8h-6l-20-12-48-8 2-12-22 4 2-10h-12l-4 4 2-10-10 2 2-8-9 3 4-8h-4l2-6-10 4 2-16-4-8 6-6-2-4 30-36 24-38 96-188 26-38 17-15 18-10 20 2 19 17 12 16 20 38 36 98 20 72 12 30 6 28 28 80-2 10h4v8l-7-5 3 9-10-2 5 11-16-2-12 4zM1370 347l-9-1 2 8h-12l2 10-26 2-28 12-14 10-8-8-16 14-8-8-10 10-6-6-6 6-6-8-6 8-6-8-6 8-12-10-8 8-18-12-3 9-7 3-7-3 3-13-22 4 2-10-10 6 5-11h-4l2-8-7 5-7-7 6-2-4-2 4-2-2-8 4-2-2-2 20-42 34-50 33-25 14-4h18l18 6 40 28 73 69v8l4 2v6h-6z"/><path fill="#9ec44c" d="M803 402l-8-14-18 16-6-12-10 16-8-12-4 8-8-10-10 20-6-10-6 10-12-20-6 12-6-8-6 12-12-16-6 12-12-14-8 12-18-16-8 14-22-18-8 16-16-10-38-6 2-14-22 2 4-12-18 4 4-12-10 6 2-12-8 6 2-10-9 5 2-20-6-2 4-2-4-2 4-12 18-24 24-42 70-142 40-62 29-23h26l19 17 12 16 20 38 28 74 62 202-4 6h6l-4 4 4 2-3 3-7-5 5 15-14-8 5 13-13 3zM1134 325v-4l4-2-4-2 6-20 34-50 33-25 14-4h18l18 6 24 18h4l57 53 2 6-1 5-7-1 4 12-7-1v8h-18l3 9-21 7-14 8-8-10-18 14-6-10-10 12-6-10-12 14-6-6-6 8-12-14-8 10-18-12-22-2 3-9-7-1-4 4 3-9-7 3 1-5z"/><path fill="#b3bf41" d="M795 368l-8-16-14 16-8-12-12 16-6-12-6 10-6-12-6 12-6-12-6 12-6-12-6 12-6-8-6 12-12-18-6 14-12-16-6 14-12-12-5 13-3 1-30-22-5 13-5 3-20-10-20-2 4-16-22 4 2-14-16 6 5-13-3-1-8 6 3-11-9 5 2-10-11 7v-8h4l-6-8 4-2-4-2 4-2-2-6 26-44 70-142 40-62 29-23h26l19 17 24 38 24 56 62 196-4 10h4l-2 6-6-2 6 14-15-5 5 15-13 3zM1152 301l4-8-4-4 4-2v-4l-5 3-1-3 24-36 33-25 14-4h18l22 8 36 26 15 15 2 12h-6l2 6h-8l1 7h-14l-12 4-26 16-8-8-10 10-6-8-6 8-6-8-6 8-6-6-8 10-10-8-14-4-10 2 2-10z"/><path fill="#c8ba36" d="M783 336l-8-18-16 20-8-12-4 8-8-12-10 22-6-12-6 12-12-22-6 12-6-8-6 14-14-18-4 14-14-14-3 13-5 3-22-22-8 18-10-8-26-8h-12l4-18-30 10 5-15-14 4 6-14-9 7 2-12-8 8-3-1 4-8h-4v-24l78-154 40-62 29-23h26l19 17 24 38 24 56 54 168-1 7-5-5 2 20-9-5-5 1 6 14-11 1zM1280 253l-17 1-3 3 4 8-9 5-8-10-16 14-6-8-6 6-6-4-8 6-4-4-18-4 1-7-7 1 1-5-4-6 15-15 18-12 14-4h18l18 6 21 15-2 6z"/><path fill="#d8b731" d="M797 292l-12-2-16 10-6-16-12 14-6-12-12 20-6-12-6 10-6-12-6 14-6-12-6 14-12-20-6 16-12-16-5 15-3 1-16-20-8 18-10-10-20-10-24-2-14 4 5-17-5-1-12 8 3-15-10 4 4-12-11 7-1-11h4l-2-4-8 6 4-24 62-124 40-62 29-23 20-2 12 6 25 29 20 38 28 74 30 98v8l-6 2 2 10-10-4z"/><path fill="#e2b631" d="M789 256l-6-4h-10l-18 14-6-16-10 18-8-14-4 10-6-12-6 12-6-12-5 13-7-9-6 14-12-18-6 16-14-16-6 18-24-22-18-8h-20l-18 8 3-17-12 4 5-15-11 9 3-15-9 11v-28l48-96 40-62 29-23 20-2 12 6 25 29 12 22 24 56 36 112-3 3-5-7 4 8-1 5-9-9z"/><path fill="#ebb432" d="M781 220l-4-4-12-2-6 2-16 16-6-14-12 18-6-12-6 12-6-12-6 14-12-22-6 16-12-18-5 17-3 1-16-20-8 20-10-8-20-6-12 2 4-20h-6l-18 12 5-17-9 7-3-1 2-8-6 2v-14l-4-4 4-2-2-2 36-72 40-62 29-23h26l19 17 12 16 20 38 36 98 4 20-3 5-5-3 4 8z"/><path fill="#f5b333" d="M765 194l-10 2-8-18-14 20-8-12-6 10-6-14-6 12-6-10-6 14-6-10-6 16-20-24-6 16-18-14-18-6-14 2-12 6 5-17-12 6 3-17-9 9 2-18-6 6 2-12 34-64 26-38 29-23 20-2 12 6 25 29 12 22 40 102-6 2 1 11-4-6-9-3z"/><path fill="#f6bf31" d="M757 158h-10l-12 8-6-14-12 16-6-12-6 12-6-10-3 11-3 1-12-18-5 13-3 1-22-24-5 17-5 3-23-7 5-17-10 2-12 8 3-15-10 8 2-20-4-2 4-2-2-4 20-36 26-38 29-23 20-2 12 6 25 29 20 38 20 52-5 7-9-5z"/><path fill="#f4cf2e" d="M751 124l-12-2-10 6-8-14-10 16-6-12-6 12-6-10-6 14-18-22-5 15-3 1-24-12-12 2 4-16h-6l-12 10 5-13-3 1-1-3 4-8-7 5-1-5 16-28 21-27 24-18 20-2 12 6 25 29 24 48v10l4 2-3 5-3-1z"/><path fill="#f2de2b" d="M723 94l-8-14-12 16-6-10-6 12-12-18-5 13-3 1-16-12h-20l4-12-14 8-3-9h4l-2-4 16-26 17-15 18-10h14l12 6 25 29 12 30-10-2 6 10z"/><path fill="#f0ed29" d="M718 49l-11 3-4 6-8-8-4 8-6-8-8-4-3 7-7 3-13-5 3-11-11 3 4-6-2-4 9-9 18-10h14l12 6 13 13z"/></g></svg><g font-size="23" fill="#222"><text x="1033" y="1391.2" text-anchor="end">3</text><text x="1033" y="1424.8" text-anchor="end">2</text><text x="1033" y="1458.3" text-anchor="end">1</text><text x="1033" y="1491.9" text-anchor="end">0</text><text x="1033" y="1525.5" text-anchor="end">−1</text><text x="1033" y="1559.1" text-anchor="end">−2</text><text x="1033" y="1592.6" text-anchor="end">−3</text><text x="1014" y="1610.6" text-anchor="middle">1 500</text><text x="1077.2" y="1629" text-anchor="middle">1 000</text><text x="1151.6" y="1647.6" text-anchor="middle">500</text><text x="1228.4" y="1667" text-anchor="middle">0</text><text x="1251" y="1667" text-anchor="middle">0</text><text x="1322.5" y="1644" text-anchor="middle">500</text><text x="1390.5" y="1621.2" text-anchor="middle">1 000</text><text x="1445.3" y="1600" text-anchor="middle">1 500</text></g>
<text transform="translate(49.3 110.8) scale(0.9349 1)" font-size="53" fill="#1a1a1a">(a)</text>
<text transform="translate(675.4 45.5) scale(0.9534 1)" font-size="56" fill="#1a1a1a">(b)</text>
<text transform="translate(49.8 867.5) scale(0.9338 1)" font-size="52" fill="#1a1a1a">(c)</text>
<text transform="translate(31.7 1326.2) scale(0.952 1)" font-size="55" fill="#1a1a1a">(d)</text>
<text transform="translate(235 221) scale(1.0106 1)" font-size="54" fill="#1a1a1a">B-R</text>
<text transform="translate(233 502) scale(1.0084 1)" font-size="54" fill="#1a1a1a">G-R</text>
<text transform="translate(752.6 358.7) scale(0.9709 1)" font-size="54" fill="#1a1a1a">IMF1</text>
<text transform="translate(765.4 649.8) scale(0.9912 1)" font-size="54" fill="#1a1a1a">IMF2</text>
<text transform="translate(946 187.4) scale(0.9578 1)" font-size="54" fill="#1a1a1a">1 + 2</text>
<text transform="translate(1350.9 195.8) scale(0.9907 1)" font-size="54" fill="#1a1a1a">High</text>
<text transform="translate(1362.3 425.2) scale(1.0073 1)" font-size="54" fill="#1a1a1a">Mid</text>
<text transform="translate(1361 652.4) scale(0.9429 1)" font-size="54" fill="#1a1a1a">Low</text>
<text x="1031" y="440" font-size="55" text-anchor="middle" fill="#1a1a1a" transform="rotate(-31 1031 440)" dominant-baseline="central">6+7</text>
<text x="1025" y="584" font-size="55" text-anchor="middle" fill="#1a1a1a" transform="rotate(40 1025 584)" dominant-baseline="central">8+9</text>
<text transform="translate(230.5 1115.7) scale(1.0049 1)" font-size="55" fill="#1a1a1a">High-phase</text>
<text transform="translate(718.2 1115.7) scale(1.001 1)" font-size="55" fill="#1a1a1a">Mid-phase</text>
<text transform="translate(1186 1115.7) scale(1.0007 1)" font-size="55" fill="#1a1a1a">Low-phase</text>
<text transform="translate(538.4 1291.6) scale(1.0021 1)" font-size="55" fill="#1a1a1a">Three frequency_unwrap</text>
<text transform="translate(71.1 1730.2) scale(1.0259 1)" font-size="54" fill="#1a1a1a">High-unwrapphase</text>
<text transform="translate(565.4 1730.2) scale(1.0238 1)" font-size="54" fill="#1a1a1a">Mid-unwrapphase</text>
<text transform="translate(1039.3 1730.2) scale(1.0229 1)" font-size="54" fill="#1a1a1a">Low-unwrapphase</text>
</svg>
</body></html>
